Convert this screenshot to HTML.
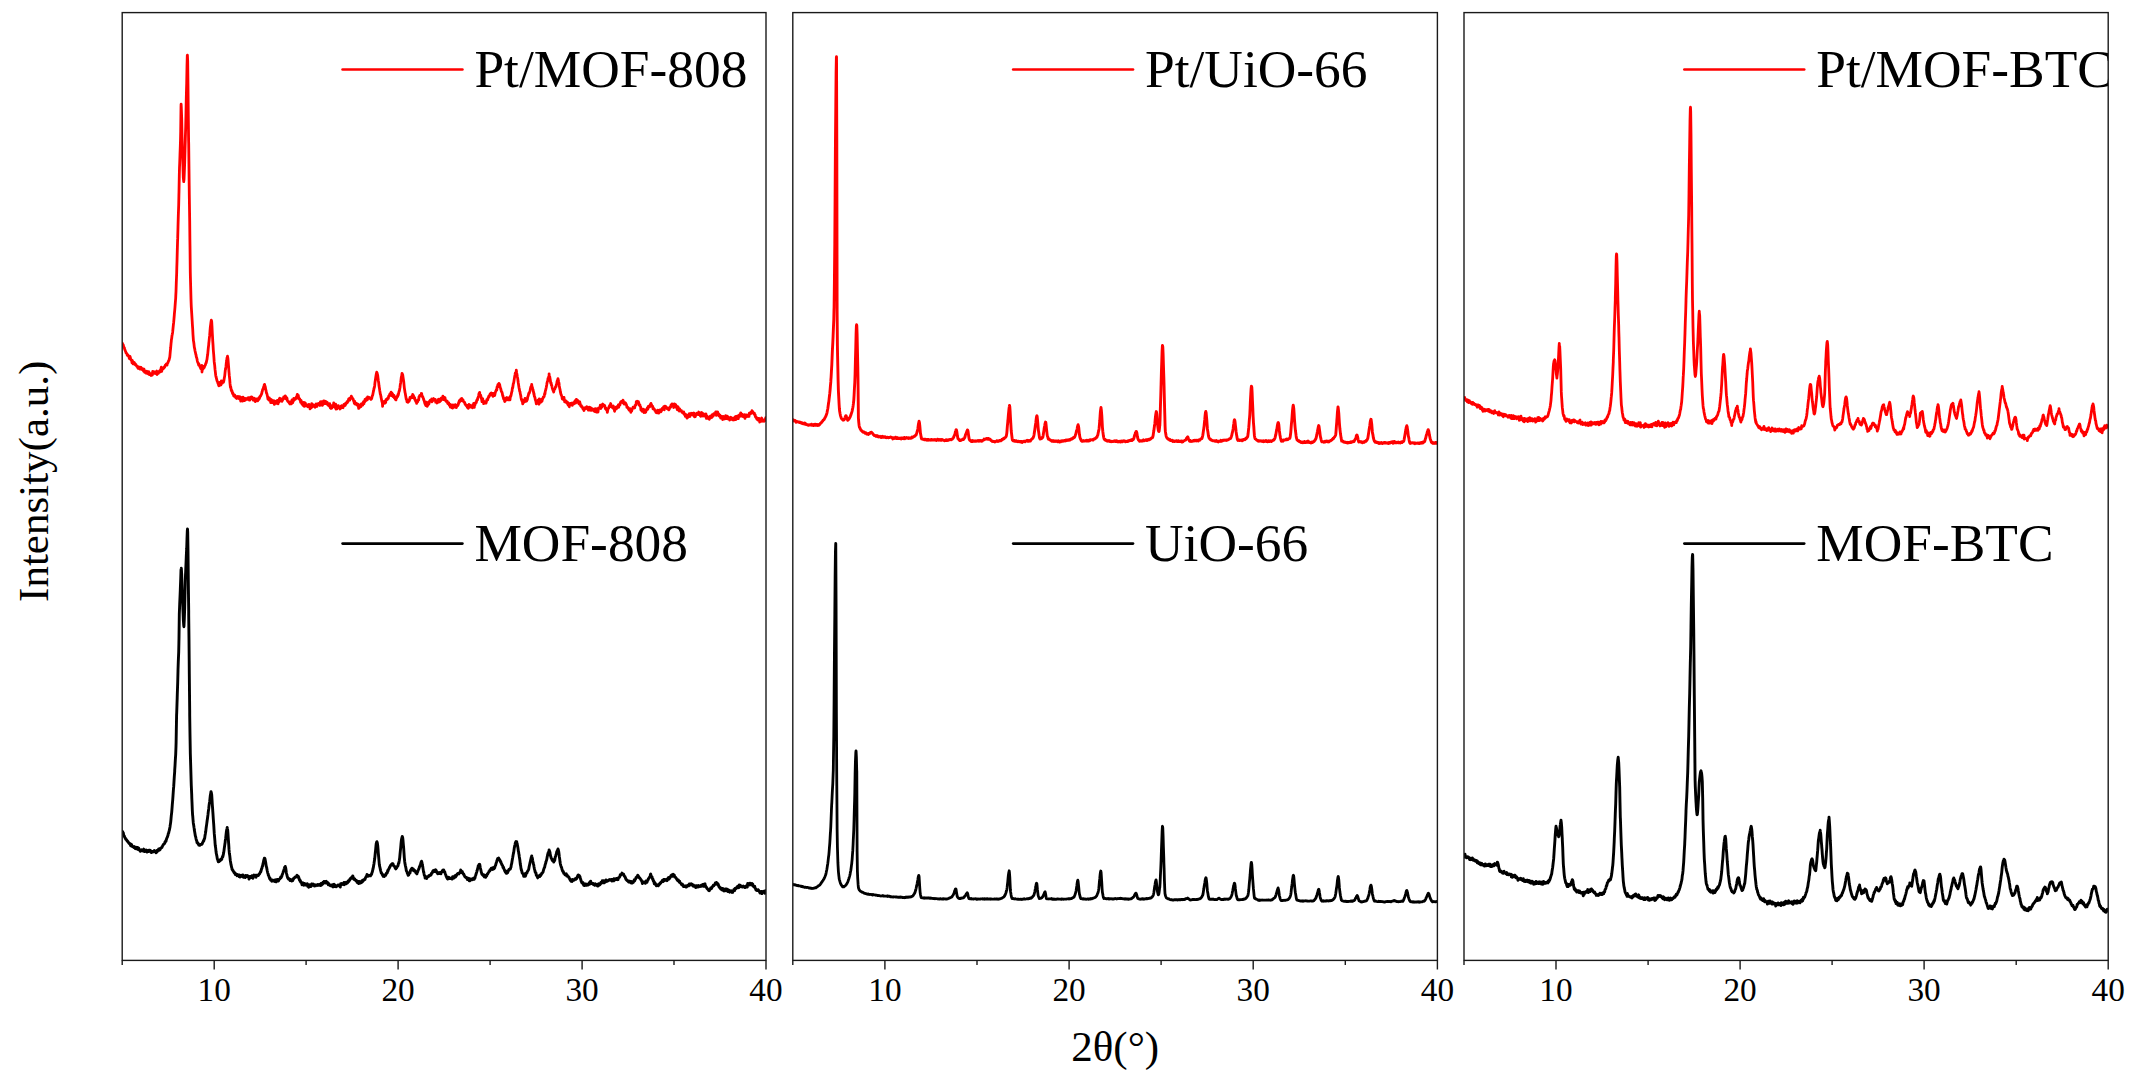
<!DOCTYPE html>
<html lang="en"><head><meta charset="utf-8"><title>XRD patterns</title>
<style>
html,body{margin:0;padding:0;background:#fff;}
body{width:2136px;height:1084px;overflow:hidden;font-family:"Liberation Serif","Times New Roman",serif;}
svg{display:block;}
</style></head><body>
<svg width="2136" height="1084" viewBox="0 0 2136 1084">
<rect width="2136" height="1084" fill="#ffffff"/>
<defs><clipPath id="cp0"><rect x="122.2" y="12.6" width="643.8" height="947.8"/></clipPath><clipPath id="cp1"><rect x="792.8" y="12.6" width="644.6" height="947.8"/></clipPath><clipPath id="cp2"><rect x="1464.0" y="12.6" width="644.2" height="947.8"/></clipPath></defs>
<polyline clip-path="url(#cp0)" fill="none" stroke="#ff0000" stroke-width="2.8" stroke-linejoin="round" stroke-linecap="round" points="122.3,343.1 122.7,344.3 123.0,345.0 123.3,344.9 123.7,346.9 124.0,347.5 124.3,347.7 124.7,349.2 125.0,350.0 125.3,350.9 125.7,351.6 126.0,352.8 126.3,352.8 126.7,353.8 127.0,354.1 127.3,355.3 127.7,355.3 127.7,355.1 128.0,355.0 128.3,355.9 128.7,356.5 129.0,356.8 129.3,358.5 129.7,358.8 130.0,356.3 130.3,357.4 130.7,359.2 131.0,359.4 131.3,360.3 131.7,360.7 132.0,362.7 132.3,360.4 132.7,361.4 133.0,363.9 133.3,363.1 133.7,363.6 134.0,363.0 134.3,362.4 134.7,364.4 135.0,364.6 135.3,363.8 135.4,364.3 135.7,365.1 136.0,364.6 136.3,365.7 136.7,366.2 137.0,366.5 137.3,366.3 137.7,367.6 138.0,368.2 138.3,367.9 138.7,367.0 139.0,368.6 139.3,367.5 139.7,369.0 140.0,367.2 140.3,369.2 140.7,368.4 141.0,367.4 141.3,368.4 141.7,369.0 142.0,369.5 142.3,368.5 142.7,368.7 143.0,370.3 143.2,369.8 143.3,370.6 143.7,371.3 144.0,369.2 144.3,371.2 144.7,372.4 145.0,371.2 145.3,371.0 145.7,372.7 146.0,372.4 146.3,373.2 146.7,372.2 147.0,371.3 147.3,372.8 147.7,372.5 148.0,373.8 148.3,373.4 148.7,371.6 149.0,372.2 149.3,374.6 149.7,374.6 150.0,373.3 150.3,374.2 150.7,374.9 150.9,375.1 151.0,375.6 151.3,374.8 151.7,374.3 152.0,373.9 152.3,375.2 152.7,371.3 153.0,373.4 153.3,373.4 153.7,371.6 154.0,373.2 154.3,371.9 154.7,373.3 155.0,372.2 155.3,372.9 155.7,373.5 156.0,372.7 156.3,371.5 156.7,371.0 157.0,374.5 157.1,372.8 157.3,372.2 157.7,373.0 158.0,372.5 158.3,373.4 158.7,372.4 159.0,372.2 159.3,371.2 159.7,372.0 160.0,370.3 160.3,371.4 160.7,371.7 161.0,368.5 161.3,367.2 161.7,369.7 161.7,371.4 162.0,368.1 162.3,367.7 162.7,369.2 163.0,367.8 163.3,367.8 163.7,367.7 164.0,368.1 164.3,366.8 164.7,367.0 165.0,366.2 165.3,365.2 165.7,365.3 166.0,364.5 166.3,364.9 166.3,364.1 166.7,363.7 167.0,365.2 167.3,363.6 167.7,363.0 168.0,362.7 168.3,361.4 168.7,360.7 169.0,360.2 169.3,359.1 169.4,358.1 169.7,357.9 170.0,354.8 170.3,351.3 170.7,347.5 171.0,343.8 171.3,341.1 171.4,339.7 171.7,338.4 172.0,335.6 172.3,334.2 172.6,332.4 172.7,331.7 173.0,328.6 173.3,325.6 173.7,322.2 174.0,318.6 174.3,315.1 174.4,313.7 174.7,310.7 175.0,307.0 175.3,302.9 175.7,298.0 175.8,295.4 176.0,291.6 176.3,282.5 176.7,272.5 176.8,267.7 177.0,261.7 177.3,250.1 177.6,240.2 177.7,238.4 178.0,227.0 178.1,223.0 178.3,216.1 178.7,204.8 178.9,195.4 179.0,191.8 179.3,175.5 179.5,167.6 179.7,163.0 180.0,154.6 180.3,146.3 180.5,140.1 180.7,131.0 181.0,107.3 181.1,104.1 181.3,107.2 181.7,118.2 182.0,133.5 182.3,147.3 182.4,150.1 182.7,158.0 183.0,168.6 183.3,177.6 183.7,181.4 183.7,181.7 184.0,179.6 184.3,173.0 184.7,162.5 185.0,150.9 185.3,140.0 185.3,139.4 185.7,126.9 186.0,112.4 186.3,97.6 186.5,89.9 186.7,83.1 187.0,66.2 187.3,55.4 187.4,55.1 187.7,61.3 188.0,84.9 188.3,115.8 188.6,140.0 188.7,143.8 189.0,169.3 189.2,186.0 189.3,195.1 189.7,220.9 189.9,240.0 190.0,246.6 190.3,272.4 190.4,276.9 190.7,287.7 191.0,299.1 191.2,304.6 191.3,306.9 191.7,313.2 192.0,318.0 192.3,322.8 192.3,323.3 192.7,328.9 193.0,334.7 193.3,338.8 193.4,340.5 193.7,342.0 194.0,344.3 194.3,347.2 194.7,348.8 195.0,350.7 195.3,352.0 195.7,353.7 195.7,354.0 196.0,354.8 196.3,356.9 196.7,357.8 197.0,359.0 197.3,360.8 197.7,362.2 198.0,362.9 198.3,363.4 198.7,365.1 198.8,363.7 199.0,364.5 199.3,365.8 199.7,365.4 200.0,366.9 200.3,367.3 200.7,368.5 201.0,367.3 201.3,367.7 201.7,368.7 201.9,365.4 202.0,372.0 202.3,367.7 202.7,367.6 203.0,369.0 203.3,368.0 203.7,366.3 204.0,367.8 204.3,367.5 204.7,366.0 205.0,365.5 205.3,365.2 205.7,363.5 206.0,363.5 206.3,362.4 206.5,361.3 206.7,360.5 207.0,359.4 207.3,356.8 207.7,354.5 208.0,351.1 208.3,348.0 208.7,344.8 208.8,343.2 209.0,341.6 209.3,338.7 209.7,335.2 210.0,331.0 210.3,327.3 210.7,324.4 211.0,321.9 211.3,320.2 211.5,320.7 211.7,321.5 212.0,326.6 212.3,333.1 212.7,339.5 212.7,340.3 213.0,344.4 213.3,349.8 213.7,354.3 214.0,358.6 214.2,361.7 214.3,362.5 214.7,365.6 215.0,369.2 215.3,371.7 215.7,375.2 216.0,376.7 216.1,377.0 216.3,377.8 216.7,379.4 217.0,380.7 217.3,381.3 217.7,382.3 218.0,383.5 218.3,383.7 218.7,385.4 218.9,385.8 219.0,384.4 219.3,384.8 219.7,382.5 220.0,384.5 220.3,383.6 220.7,384.0 221.0,385.0 221.3,381.0 221.7,383.3 222.0,381.9 222.3,383.2 222.7,381.2 223.0,381.7 223.3,382.0 223.5,382.1 223.7,381.4 224.0,379.9 224.3,378.1 224.7,376.1 225.0,373.2 225.3,370.1 225.5,369.6 225.7,368.6 226.0,366.2 226.3,363.0 226.7,360.6 227.0,357.8 227.3,357.2 227.5,356.2 227.7,357.1 228.0,359.3 228.3,363.1 228.7,367.9 228.9,371.1 229.0,372.1 229.3,375.7 229.7,379.2 230.0,383.2 230.3,386.1 230.5,387.5 230.7,386.7 231.0,388.5 231.3,390.6 231.7,390.2 232.0,391.0 232.3,392.8 232.7,393.8 232.8,392.8 233.0,394.1 233.3,394.3 233.7,395.9 234.0,395.1 234.3,396.3 234.7,395.0 235.0,395.9 235.3,396.2 235.7,397.7 235.9,397.4 236.0,396.3 236.3,398.0 236.7,398.4 237.0,397.7 237.3,397.7 237.7,397.8 238.0,396.3 238.3,398.2 238.7,398.2 239.0,397.0 239.3,398.8 239.7,396.6 240.0,397.7 240.3,398.1 240.7,401.0 241.0,397.3 241.3,399.9 241.7,400.5 242.0,400.0 242.3,401.1 242.7,398.6 243.0,397.2 243.3,400.8 243.6,398.4 243.7,399.3 244.0,398.2 244.3,400.7 244.7,400.3 245.0,398.4 245.3,400.1 245.7,399.2 246.0,398.8 246.3,398.9 246.7,398.5 247.0,399.2 247.3,398.8 247.7,398.0 248.0,399.4 248.3,397.7 248.7,398.7 249.0,398.9 249.3,400.1 249.7,397.7 249.8,400.2 250.0,398.2 250.3,397.7 250.7,397.2 251.0,398.6 251.3,398.1 251.7,397.0 252.0,397.2 252.3,397.9 252.7,397.9 253.0,399.9 253.3,400.2 253.7,399.7 254.0,399.1 254.3,398.3 254.7,398.9 255.0,399.9 255.3,401.6 255.7,400.4 256.0,399.2 256.0,399.8 256.3,399.2 256.7,398.9 257.0,399.4 257.3,399.5 257.7,400.8 258.0,398.7 258.3,399.6 258.7,399.6 259.0,397.7 259.3,398.7 259.7,397.6 260.0,396.3 260.3,396.5 260.6,396.0 260.7,395.7 261.0,395.1 261.3,394.5 261.7,393.7 262.0,391.9 262.3,391.3 262.7,389.4 262.9,389.6 263.0,389.6 263.3,388.2 263.7,387.1 264.0,386.2 264.3,384.5 264.6,384.4 264.7,385.3 265.0,386.0 265.3,386.9 265.7,389.5 266.0,390.3 266.3,392.4 266.5,393.1 266.7,393.2 267.0,394.3 267.3,395.5 267.7,397.5 268.0,399.2 268.3,399.4 268.3,399.3 268.7,399.1 269.0,400.1 269.3,397.8 269.7,400.1 270.0,400.1 270.3,399.0 270.7,402.7 271.0,399.5 271.3,400.0 271.7,400.0 272.0,402.5 272.3,400.6 272.7,402.4 273.0,402.5 273.3,402.3 273.7,400.7 274.0,401.6 274.3,404.4 274.5,400.9 274.7,401.5 275.0,402.3 275.3,403.4 275.7,402.7 276.0,403.2 276.3,401.2 276.7,403.3 277.0,402.8 277.3,400.3 277.7,403.4 278.0,403.9 278.3,400.4 278.7,401.0 279.0,402.2 279.3,398.9 279.7,398.2 280.0,398.9 280.3,399.5 280.7,399.5 280.7,400.8 281.0,400.4 281.3,398.8 281.7,400.4 282.0,401.3 282.3,400.4 282.7,399.9 283.0,398.6 283.3,399.1 283.7,396.9 284.0,398.1 284.3,397.1 284.7,398.2 285.0,397.5 285.3,395.8 285.3,397.4 285.7,398.7 286.0,396.8 286.3,397.7 286.7,398.0 287.0,398.1 287.3,400.4 287.7,401.3 288.0,401.5 288.3,401.7 288.7,402.0 289.0,402.6 289.3,402.0 289.7,403.7 289.9,403.9 290.0,403.7 290.3,401.9 290.7,402.5 291.0,402.1 291.3,403.9 291.7,402.1 292.0,399.9 292.3,401.7 292.7,402.8 293.0,401.4 293.3,401.3 293.7,400.4 293.8,398.5 294.0,398.7 294.3,399.0 294.7,399.5 295.0,399.4 295.3,399.3 295.7,398.0 296.0,398.6 296.3,397.2 296.7,396.4 296.9,398.1 297.0,396.0 297.3,394.3 297.7,396.4 298.0,397.8 298.3,395.5 298.7,398.2 299.0,398.7 299.3,398.4 299.7,398.8 300.0,400.1 300.3,400.5 300.7,402.4 300.8,401.7 301.0,400.3 301.3,401.2 301.7,402.8 302.0,404.2 302.3,403.3 302.7,403.6 303.0,405.3 303.3,403.8 303.7,403.6 303.8,402.4 304.0,403.4 304.3,406.4 304.7,402.7 305.0,404.4 305.3,403.1 305.7,404.9 306.0,405.8 306.3,404.6 306.7,405.6 307.0,405.6 307.3,405.3 307.7,406.7 308.0,405.8 308.3,404.7 308.7,404.5 309.0,404.5 309.3,406.1 309.7,405.3 310.0,408.9 310.3,407.9 310.7,405.6 311.0,405.5 311.3,407.8 311.7,403.6 312.0,405.2 312.3,406.8 312.7,404.5 313.0,404.9 313.3,405.0 313.7,406.3 314.0,405.7 314.3,406.1 314.7,406.5 314.7,405.9 315.0,407.3 315.3,405.2 315.7,404.4 316.0,403.9 316.3,404.0 316.7,405.0 317.0,406.5 317.3,405.4 317.7,404.4 318.0,403.7 318.3,404.2 318.7,404.3 319.0,404.0 319.3,403.1 319.7,404.0 320.0,405.5 320.3,402.0 320.7,404.0 320.8,401.9 321.0,404.3 321.3,403.2 321.7,401.7 322.0,403.8 322.3,405.4 322.7,403.5 323.0,404.5 323.3,403.1 323.7,400.9 324.0,403.5 324.3,402.4 324.7,401.1 325.0,403.5 325.3,402.8 325.5,401.9 325.7,403.5 326.0,401.7 326.3,403.4 326.7,402.1 327.0,403.6 327.3,402.4 327.7,404.9 328.0,404.1 328.3,405.4 328.7,404.0 329.0,404.7 329.3,406.2 329.7,403.6 330.0,405.5 330.3,407.8 330.7,407.6 331.0,408.4 331.3,407.2 331.7,408.2 331.7,406.7 332.0,405.9 332.3,405.4 332.7,406.8 333.0,406.7 333.3,406.6 333.7,403.0 334.0,404.8 334.3,406.4 334.7,407.3 335.0,406.2 335.3,405.8 335.7,404.2 336.0,409.2 336.3,405.6 336.7,408.9 337.0,408.8 337.3,407.3 337.7,406.4 338.0,407.2 338.3,405.7 338.7,407.3 339.0,407.0 339.3,407.6 339.7,408.1 340.0,409.0 340.3,406.7 340.7,408.2 341.0,406.1 341.3,405.9 341.7,406.1 342.0,405.6 342.3,407.7 342.7,407.5 343.0,407.7 343.3,406.1 343.7,406.2 344.0,405.1 344.0,404.3 344.3,405.9 344.7,405.6 345.0,404.1 345.3,405.3 345.7,403.1 346.0,403.9 346.3,403.1 346.7,402.7 347.0,401.7 347.3,402.7 347.7,401.8 348.0,401.8 348.3,400.5 348.7,398.9 348.7,399.7 349.0,398.7 349.3,399.8 349.7,400.1 350.0,399.0 350.3,397.9 350.7,397.8 351.0,398.1 351.3,396.2 351.7,397.8 351.7,397.9 352.0,397.3 352.3,397.9 352.7,398.9 353.0,398.9 353.3,399.6 353.7,401.3 354.0,401.6 354.3,403.3 354.7,401.8 354.8,401.4 355.0,403.7 355.3,404.1 355.7,403.2 356.0,403.1 356.3,404.6 356.7,403.6 357.0,405.1 357.3,403.8 357.7,405.7 358.0,404.1 358.3,406.1 358.7,408.4 358.7,406.4 359.0,407.7 359.3,406.1 359.7,405.7 360.0,404.9 360.3,407.0 360.7,405.6 361.0,406.7 361.3,403.9 361.7,404.4 362.0,404.3 362.3,405.0 362.7,405.1 363.0,402.8 363.3,402.1 363.7,401.4 364.0,403.7 364.1,402.4 364.3,401.7 364.7,401.8 365.0,399.4 365.3,399.5 365.7,400.9 366.0,400.0 366.3,399.4 366.7,398.0 367.0,399.0 367.3,399.9 367.7,396.8 368.0,398.1 368.0,397.6 368.3,398.4 368.7,398.1 369.0,398.1 369.3,397.5 369.7,398.4 370.0,398.0 370.3,398.5 370.7,398.6 371.0,399.4 371.1,397.9 371.3,398.1 371.7,398.6 372.0,397.0 372.3,395.9 372.7,395.1 373.0,393.4 373.3,391.9 373.7,390.4 374.0,388.2 374.1,388.3 374.3,387.8 374.7,385.4 375.0,382.4 375.3,380.5 375.7,377.7 376.0,375.8 376.3,374.1 376.7,372.2 376.9,374.3 377.0,372.7 377.3,373.8 377.7,375.3 378.0,377.9 378.3,380.5 378.7,382.7 379.0,385.8 379.3,387.5 379.6,389.3 379.7,390.2 380.0,392.0 380.3,394.0 380.7,395.1 381.0,397.1 381.3,398.6 381.7,400.5 382.0,401.9 382.3,401.3 382.6,406.3 382.7,402.0 383.0,401.7 383.3,402.8 383.7,403.0 384.0,402.7 384.3,401.4 384.7,403.3 385.0,401.7 385.3,402.8 385.7,402.3 386.0,399.5 386.3,399.4 386.7,399.0 387.0,399.7 387.3,399.3 387.3,399.5 387.7,398.2 388.0,398.6 388.3,398.5 388.7,396.0 389.0,395.9 389.3,395.4 389.7,394.4 390.0,393.7 390.3,394.7 390.7,394.2 391.0,393.9 391.1,392.2 391.3,395.6 391.7,393.7 392.0,393.2 392.3,393.8 392.7,394.1 393.0,396.5 393.3,395.7 393.7,396.2 394.0,395.3 394.3,397.9 394.7,397.1 395.0,397.4 395.3,399.2 395.7,397.8 395.8,399.8 396.0,399.9 396.3,396.9 396.7,398.0 397.0,396.4 397.3,396.8 397.7,396.5 398.0,394.3 398.3,395.1 398.7,392.9 399.0,391.4 399.3,390.8 399.3,391.3 399.7,389.0 400.0,387.5 400.3,384.6 400.7,382.7 401.0,379.8 401.3,377.2 401.7,375.9 402.0,373.5 402.3,373.7 402.3,376.0 402.7,374.8 403.0,376.9 403.3,378.9 403.7,381.4 404.0,384.6 404.3,387.6 404.7,390.2 405.0,392.1 405.0,392.4 405.3,393.5 405.7,395.9 406.0,397.7 406.3,399.5 406.7,399.5 407.0,401.8 407.3,401.5 407.4,399.9 407.7,401.7 408.0,402.3 408.3,401.8 408.7,401.6 409.0,401.3 409.3,400.7 409.7,399.5 410.0,397.5 410.3,397.9 410.7,398.2 411.0,397.0 411.3,397.4 411.7,397.1 412.0,396.1 412.3,397.7 412.7,394.5 412.8,396.6 413.0,395.1 413.3,395.3 413.7,396.9 414.0,396.8 414.3,398.5 414.7,398.1 415.0,399.8 415.3,400.1 415.7,401.2 416.0,401.7 416.3,401.4 416.6,403.4 416.7,401.0 417.0,401.1 417.3,402.3 417.7,401.7 418.0,400.7 418.3,399.6 418.7,400.0 419.0,397.0 419.3,396.4 419.7,395.5 420.0,396.1 420.3,395.2 420.7,395.5 421.0,395.4 421.3,394.1 421.3,393.4 421.7,393.6 422.0,396.4 422.3,396.1 422.7,396.7 423.0,397.3 423.3,398.5 423.7,399.6 424.0,400.7 424.3,400.7 424.7,402.9 425.0,403.5 425.3,404.5 425.7,404.8 425.9,405.7 426.0,404.7 426.3,405.7 426.7,402.2 427.0,403.7 427.3,406.3 427.7,403.4 428.0,404.1 428.3,404.7 428.7,403.0 429.0,403.9 429.3,401.7 429.7,400.8 430.0,400.8 430.3,400.1 430.7,401.0 431.0,400.4 431.3,400.5 431.7,399.0 432.0,401.9 432.3,399.3 432.7,399.2 433.0,399.6 433.3,398.9 433.6,398.5 433.7,399.4 434.0,400.4 434.3,400.2 434.7,400.6 435.0,399.5 435.3,399.5 435.7,402.2 436.0,400.6 436.3,401.5 436.7,402.1 437.0,403.0 437.3,400.7 437.7,401.6 438.0,401.7 438.3,401.9 438.3,399.4 438.7,402.0 439.0,399.1 439.3,401.9 439.7,401.7 440.0,401.3 440.3,399.4 440.7,400.7 441.0,398.8 441.3,398.1 441.7,397.9 442.0,397.8 442.3,398.7 442.7,399.4 442.9,396.1 443.0,398.1 443.3,399.7 443.7,399.0 444.0,399.3 444.3,397.5 444.7,399.8 445.0,397.7 445.3,399.4 445.7,400.6 446.0,401.3 446.3,400.7 446.7,401.5 447.0,400.9 447.3,401.6 447.7,403.5 448.0,403.1 448.3,403.4 448.7,402.7 449.0,404.4 449.3,405.1 449.7,404.2 450.0,404.7 450.3,407.1 450.7,406.0 450.8,405.6 451.0,404.8 451.3,405.5 451.7,405.9 452.0,407.7 452.3,405.5 452.7,408.1 453.0,405.0 453.3,405.7 453.7,407.1 454.0,406.0 454.3,405.5 454.7,406.4 455.0,407.1 455.3,404.7 455.7,406.4 456.0,406.6 456.2,406.3 456.3,407.7 456.7,406.2 457.0,406.1 457.3,405.9 457.7,405.7 458.0,404.4 458.3,404.6 458.7,402.3 459.0,402.8 459.3,400.7 459.7,400.4 460.0,400.2 460.3,401.3 460.7,400.3 460.9,398.8 461.0,400.7 461.3,398.9 461.7,398.4 462.0,399.7 462.3,399.6 462.7,400.7 463.0,399.9 463.3,401.0 463.7,401.7 464.0,401.9 464.3,402.3 464.7,402.4 465.0,404.1 465.3,404.2 465.7,405.0 466.0,404.9 466.3,405.7 466.7,405.2 467.0,406.5 467.3,407.4 467.7,406.9 467.8,407.8 468.0,407.1 468.3,408.3 468.7,406.3 469.0,404.5 469.3,406.8 469.7,406.1 470.0,405.1 470.3,407.0 470.7,406.6 471.0,406.8 471.3,405.9 471.7,406.4 472.0,406.3 472.3,407.8 472.7,404.9 473.0,405.4 473.3,405.6 473.7,403.3 474.0,403.4 474.3,407.3 474.7,403.2 474.8,405.6 475.0,404.2 475.3,403.9 475.7,402.5 476.0,402.4 476.3,402.5 476.7,400.3 477.0,400.4 477.3,399.4 477.5,399.9 477.7,398.2 478.0,398.2 478.3,396.9 478.7,395.2 479.0,393.5 479.3,395.0 479.7,392.3 479.7,393.5 480.0,394.9 480.3,395.4 480.7,395.3 481.0,396.9 481.3,397.9 481.7,399.8 482.0,401.7 482.0,398.6 482.3,401.0 482.7,398.7 483.0,401.3 483.3,400.8 483.7,403.7 484.0,402.4 484.3,401.6 484.7,401.9 484.8,401.7 485.0,402.7 485.3,402.3 485.7,402.8 486.0,403.2 486.3,402.1 486.7,400.2 487.0,399.3 487.3,399.3 487.7,399.9 488.0,398.3 488.3,397.4 488.7,397.4 488.7,396.2 489.0,395.9 489.3,396.3 489.7,395.1 490.0,394.3 490.3,394.4 490.7,393.3 491.0,393.1 491.0,393.6 491.3,394.9 491.7,394.4 492.0,393.3 492.3,394.2 492.7,395.1 493.0,396.3 493.3,393.4 493.7,394.9 494.0,394.2 494.1,395.5 494.3,395.1 494.7,395.4 495.0,394.0 495.3,392.5 495.7,391.5 496.0,390.8 496.3,389.8 496.7,390.1 496.9,389.2 497.0,387.1 497.3,387.3 497.7,385.5 498.0,384.5 498.3,385.5 498.7,385.1 499.0,383.3 499.0,386.5 499.3,383.9 499.7,384.6 500.0,386.6 500.3,387.5 500.7,388.6 501.0,389.9 501.3,391.3 501.5,391.6 501.7,392.1 502.0,392.2 502.3,393.6 502.7,395.7 503.0,396.0 503.3,397.7 503.7,399.0 504.0,398.6 504.3,399.6 504.7,401.6 504.9,400.2 505.0,401.3 505.3,400.7 505.7,399.7 506.0,398.6 506.3,397.8 506.7,397.5 507.0,399.5 507.3,399.5 507.7,398.7 508.0,399.8 508.3,397.9 508.7,399.8 509.0,398.3 509.3,398.1 509.5,398.1 509.7,398.1 510.0,399.8 510.3,396.4 510.7,396.4 511.0,395.6 511.3,394.0 511.7,392.0 512.0,391.3 512.3,388.6 512.6,387.3 512.7,388.0 513.0,385.7 513.3,383.7 513.7,382.9 514.0,380.9 514.3,378.9 514.7,376.5 515.0,375.0 515.3,373.0 515.7,373.5 516.0,372.4 516.2,372.4 516.3,370.1 516.7,373.0 517.0,374.6 517.3,376.4 517.7,378.5 518.0,380.7 518.3,383.0 518.7,385.6 519.0,387.5 519.1,388.1 519.3,388.9 519.7,391.3 520.0,391.8 520.3,393.9 520.7,395.3 521.0,397.5 521.3,399.1 521.7,400.2 522.0,401.0 522.3,399.9 522.7,403.9 522.7,402.2 523.0,401.6 523.3,401.8 523.7,401.4 524.0,402.2 524.3,401.9 524.7,401.0 525.0,398.3 525.3,400.9 525.7,401.3 526.0,401.1 526.3,400.2 526.5,400.7 526.7,401.1 527.0,399.4 527.3,399.9 527.7,397.0 528.0,396.4 528.3,395.4 528.7,393.4 529.0,393.0 529.3,393.3 529.3,393.3 529.7,391.6 530.0,391.1 530.3,389.1 530.7,387.5 531.0,386.9 531.3,386.1 531.6,386.9 531.7,384.4 532.0,386.9 532.3,387.0 532.7,388.9 533.0,389.4 533.3,391.4 533.7,393.0 533.9,394.4 534.0,393.5 534.3,396.1 534.7,396.9 535.0,397.7 535.3,399.9 535.7,400.4 536.0,402.0 536.3,403.8 536.6,402.6 536.7,401.0 537.0,400.9 537.3,402.0 537.7,401.5 538.0,400.2 538.3,400.5 538.7,402.1 539.0,404.2 539.3,398.8 539.7,402.6 540.0,401.5 540.3,402.5 540.7,402.4 541.0,401.4 541.2,400.1 541.3,399.7 541.7,399.2 542.0,401.3 542.3,399.7 542.7,398.9 543.0,398.4 543.3,397.0 543.7,397.1 544.0,396.8 544.3,395.8 544.7,393.3 545.0,394.0 545.1,392.5 545.3,391.1 545.7,390.1 546.0,388.6 546.3,387.2 546.7,385.0 547.0,383.0 547.3,381.7 547.7,381.0 548.0,378.4 548.3,377.8 548.7,376.8 549.0,379.0 549.1,373.9 549.3,377.3 549.7,376.6 550.0,378.3 550.3,380.0 550.7,383.0 551.0,382.7 551.2,383.1 551.3,384.9 551.7,385.1 552.0,386.7 552.3,388.1 552.7,389.4 553.0,390.1 553.3,391.0 553.6,391.4 553.7,392.0 554.0,390.5 554.3,389.8 554.7,388.9 555.0,388.8 555.3,387.5 555.7,386.8 555.9,386.3 556.0,386.7 556.3,384.8 556.7,383.9 557.0,381.7 557.3,380.6 557.7,380.2 558.0,378.6 558.0,380.6 558.3,379.8 558.7,382.0 559.0,383.2 559.3,385.9 559.7,388.2 559.9,389.3 560.0,389.1 560.3,391.4 560.7,393.2 561.0,394.4 561.3,395.0 561.7,396.1 562.0,396.6 562.1,397.9 562.3,399.0 562.7,398.0 563.0,397.5 563.3,399.2 563.7,399.9 564.0,397.3 564.3,399.9 564.7,401.9 565.0,401.1 565.3,401.2 565.7,401.4 565.9,402.3 566.0,400.8 566.3,401.3 566.7,402.8 567.0,402.4 567.3,403.6 567.7,402.3 568.0,404.9 568.3,405.4 568.7,405.0 569.0,405.3 569.3,406.8 569.7,403.8 569.8,403.7 570.0,403.4 570.3,404.2 570.7,403.5 571.0,404.5 571.3,403.9 571.7,403.1 572.0,403.0 572.3,405.4 572.7,404.1 573.0,403.8 573.3,403.7 573.7,403.3 574.0,403.8 574.3,403.3 574.4,402.0 574.7,401.5 575.0,401.0 575.3,400.6 575.7,403.1 576.0,400.7 576.3,399.4 576.7,400.5 577.0,400.5 577.3,401.7 577.7,400.3 578.0,401.9 578.3,401.7 578.3,402.7 578.7,403.3 579.0,403.9 579.3,403.0 579.7,401.8 580.0,403.0 580.3,404.1 580.7,406.0 581.0,405.6 581.3,406.6 581.4,405.6 581.7,406.7 582.0,407.3 582.3,406.9 582.7,408.3 583.0,409.0 583.3,408.3 583.7,409.6 584.0,410.5 584.3,408.9 584.5,408.7 584.7,408.3 585.0,407.8 585.3,408.6 585.7,407.9 586.0,408.0 586.3,407.5 586.7,406.8 587.0,407.5 587.3,408.9 587.7,407.2 588.0,407.7 588.3,410.2 588.7,409.5 589.0,407.3 589.3,408.7 589.7,407.3 589.9,410.1 590.0,407.6 590.3,408.6 590.7,410.2 591.0,408.0 591.3,410.4 591.7,408.4 592.0,409.6 592.3,409.3 592.7,409.7 593.0,410.1 593.3,409.9 593.7,409.1 594.0,410.9 594.3,410.8 594.7,411.4 595.0,411.6 595.3,408.7 595.7,411.7 596.0,411.9 596.0,409.8 596.3,411.6 596.7,412.0 597.0,409.8 597.3,408.8 597.7,409.5 598.0,412.2 598.3,409.6 598.7,408.0 599.0,408.5 599.3,407.6 599.7,407.8 600.0,407.9 600.3,405.2 600.7,407.6 600.7,408.6 601.0,406.8 601.3,406.4 601.7,407.3 602.0,404.9 602.3,404.6 602.7,404.1 603.0,405.0 603.3,405.4 603.7,404.8 603.8,405.6 604.0,405.9 604.3,405.9 604.7,405.6 605.0,406.8 605.3,408.5 605.7,408.0 606.0,409.2 606.3,409.7 606.7,410.2 606.9,409.2 607.0,409.1 607.3,412.4 607.7,410.5 608.0,408.7 608.3,408.4 608.7,408.1 609.0,406.7 609.3,406.8 609.7,405.3 609.9,405.3 610.0,405.6 610.3,405.3 610.7,403.5 611.0,406.2 611.3,406.7 611.7,407.1 612.0,406.1 612.3,407.6 612.7,407.7 613.0,406.2 613.3,406.0 613.7,408.7 614.0,407.5 614.3,409.8 614.6,411.3 614.7,408.2 615.0,408.1 615.3,408.6 615.7,409.1 616.0,407.1 616.3,408.9 616.7,408.3 617.0,407.7 617.3,406.4 617.7,407.4 618.0,407.0 618.3,405.0 618.7,407.4 619.0,404.9 619.2,405.2 619.3,404.3 619.7,404.7 620.0,404.9 620.3,403.0 620.7,401.9 621.0,402.4 621.3,401.4 621.7,401.4 622.0,401.6 622.3,401.4 622.7,402.7 623.0,400.1 623.1,401.7 623.3,400.8 623.7,402.8 624.0,404.0 624.3,402.5 624.7,404.0 625.0,402.9 625.3,402.7 625.7,403.5 626.0,403.8 626.3,404.8 626.7,405.8 626.9,407.3 627.0,407.0 627.3,407.3 627.7,407.2 628.0,407.5 628.3,408.7 628.7,409.3 629.0,409.9 629.3,410.4 629.7,410.2 630.0,408.7 630.3,409.4 630.7,409.5 630.8,412.3 631.0,409.6 631.3,410.6 631.7,411.0 632.0,409.6 632.3,408.6 632.7,408.3 633.0,407.3 633.3,407.9 633.7,408.1 634.0,407.3 634.3,407.1 634.7,406.8 634.7,407.9 635.0,405.3 635.3,405.4 635.7,405.2 636.0,405.0 636.3,401.7 636.7,402.6 637.0,402.4 637.3,401.3 637.7,403.1 637.8,402.5 638.0,402.2 638.3,401.6 638.7,402.6 639.0,403.5 639.3,405.2 639.7,404.9 640.0,405.1 640.3,406.1 640.7,407.3 640.8,409.3 641.0,410.2 641.3,408.5 641.7,410.1 642.0,410.9 642.3,411.3 642.7,410.6 643.0,409.9 643.3,410.7 643.7,409.3 643.9,411.7 644.0,412.5 644.3,409.9 644.7,411.8 645.0,412.0 645.3,412.4 645.7,412.1 646.0,411.1 646.3,409.5 646.7,409.2 647.0,409.8 647.3,408.0 647.7,408.1 647.8,409.3 648.0,407.9 648.3,406.3 648.7,406.7 649.0,407.1 649.3,406.0 649.7,406.7 650.0,406.5 650.3,404.4 650.7,404.3 650.9,404.7 651.0,403.4 651.3,405.1 651.7,405.0 652.0,406.2 652.3,405.9 652.7,406.5 653.0,408.9 653.3,407.9 653.7,408.7 654.0,408.9 654.0,409.2 654.3,409.1 654.7,410.2 655.0,410.1 655.3,410.7 655.7,411.8 656.0,412.5 656.3,412.6 656.7,411.6 657.0,412.8 657.1,412.1 657.3,412.0 657.7,410.2 658.0,412.5 658.3,411.6 658.7,413.1 659.0,412.0 659.3,410.3 659.7,409.9 660.0,411.8 660.3,409.8 660.7,410.8 660.9,409.7 661.0,411.8 661.3,409.7 661.7,410.6 662.0,410.1 662.3,408.3 662.7,408.1 663.0,409.3 663.3,407.8 663.7,406.8 664.0,408.5 664.3,409.8 664.7,406.8 664.8,408.3 665.0,406.2 665.3,407.8 665.7,406.4 666.0,408.2 666.3,407.9 666.7,407.7 667.0,408.5 667.3,408.2 667.7,407.9 668.0,408.1 668.3,409.3 668.7,408.1 668.7,409.9 669.0,409.6 669.3,409.1 669.7,407.8 670.0,407.5 670.3,406.8 670.7,407.1 671.0,405.0 671.3,404.8 671.7,404.6 671.7,404.6 672.0,403.9 672.3,404.1 672.7,406.1 673.0,404.4 673.3,406.2 673.7,407.5 674.0,406.8 674.3,403.9 674.7,406.5 675.0,406.3 675.3,406.5 675.7,404.7 676.0,407.1 676.3,405.7 676.7,408.1 677.0,408.2 677.3,409.8 677.7,407.4 678.0,406.7 678.3,409.5 678.7,409.8 679.0,409.1 679.3,411.1 679.5,410.6 679.7,408.9 680.0,409.9 680.3,410.0 680.7,410.5 681.0,411.0 681.3,410.5 681.7,411.3 682.0,412.3 682.3,412.0 682.7,412.2 683.0,412.5 683.3,413.1 683.7,411.9 684.0,414.1 684.3,413.5 684.7,415.0 685.0,413.9 685.3,416.4 685.7,416.0 686.0,414.6 686.3,416.3 686.7,415.3 687.0,418.2 687.2,416.7 687.3,415.2 687.7,416.3 688.0,415.9 688.3,417.1 688.7,415.9 689.0,415.7 689.3,413.6 689.7,415.4 690.0,416.5 690.3,414.9 690.7,414.1 691.0,414.4 691.3,413.3 691.7,414.6 692.0,413.4 692.3,414.7 692.7,414.3 693.0,413.8 693.3,415.4 693.4,413.1 693.7,414.7 694.0,413.2 694.3,416.7 694.7,416.8 695.0,415.4 695.3,416.6 695.7,415.1 696.0,415.0 696.3,413.9 696.7,413.3 697.0,414.3 697.3,413.4 697.7,413.3 698.0,414.6 698.3,413.6 698.7,412.0 699.0,413.7 699.3,413.2 699.7,413.9 700.0,413.0 700.3,415.7 700.7,416.4 701.0,412.6 701.1,414.6 701.3,414.4 701.7,412.5 702.0,414.0 702.3,415.5 702.7,415.1 703.0,416.1 703.3,413.6 703.7,414.2 704.0,415.4 704.3,415.7 704.7,415.6 705.0,415.5 705.3,415.7 705.7,415.7 705.7,416.9 706.0,414.0 706.3,418.4 706.7,416.7 707.0,416.1 707.3,418.1 707.7,416.5 708.0,418.3 708.3,417.7 708.7,418.7 709.0,418.9 709.3,419.4 709.6,417.3 709.7,417.4 710.0,417.6 710.3,416.1 710.7,417.9 711.0,417.1 711.3,415.6 711.7,417.5 712.0,417.2 712.3,414.7 712.7,416.0 713.0,416.3 713.3,415.8 713.5,414.2 713.7,413.8 714.0,414.6 714.3,413.9 714.7,413.8 715.0,413.3 715.3,413.3 715.7,412.0 716.0,412.1 716.3,415.3 716.5,412.0 716.7,413.1 717.0,412.6 717.3,412.7 717.7,412.0 718.0,413.6 718.3,413.5 718.7,414.6 719.0,416.0 719.3,415.0 719.7,416.0 720.0,415.0 720.3,416.4 720.7,418.2 721.0,416.9 721.2,416.4 721.3,417.3 721.7,416.9 722.0,416.9 722.3,416.8 722.7,419.5 723.0,416.4 723.3,416.9 723.7,416.8 724.0,418.9 724.3,417.2 724.7,419.0 725.0,417.6 725.3,417.3 725.7,415.6 726.0,418.6 726.3,417.8 726.7,417.7 727.0,417.2 727.3,417.0 727.4,416.2 727.7,418.8 728.0,418.2 728.3,417.7 728.7,417.5 729.0,418.4 729.3,418.2 729.7,420.1 730.0,419.2 730.3,417.8 730.7,417.3 731.0,418.3 731.3,417.6 731.7,418.8 732.0,419.3 732.3,419.7 732.7,419.6 733.0,419.0 733.3,420.0 733.5,418.2 733.7,419.0 734.0,419.9 734.3,419.1 734.7,417.3 735.0,417.3 735.3,416.6 735.7,419.7 736.0,416.3 736.3,417.4 736.7,418.9 737.0,418.0 737.3,417.9 737.7,415.9 738.0,416.8 738.3,418.7 738.7,415.6 739.0,415.8 739.3,414.8 739.7,414.9 740.0,415.2 740.3,416.2 740.5,413.5 740.7,412.9 741.0,414.6 741.3,414.8 741.7,416.1 742.0,415.5 742.3,414.3 742.7,415.7 743.0,416.5 743.3,416.0 743.7,415.7 744.0,417.0 744.3,416.1 744.7,414.6 745.0,418.4 745.1,415.4 745.3,416.6 745.7,416.6 746.0,416.4 746.3,416.3 746.7,414.9 747.0,416.5 747.3,415.8 747.7,415.5 748.0,416.2 748.3,416.0 748.7,416.0 749.0,416.4 749.0,415.1 749.3,413.1 749.7,414.4 750.0,414.0 750.3,413.7 750.7,412.7 751.0,412.1 751.3,413.3 751.7,413.2 752.0,410.6 752.1,412.3 752.3,411.4 752.7,411.5 753.0,412.8 753.3,412.7 753.7,412.9 754.0,414.0 754.3,413.1 754.7,414.7 755.0,415.4 755.2,414.9 755.3,416.5 755.7,417.1 756.0,416.9 756.3,417.7 756.7,418.7 757.0,419.3 757.3,418.0 757.7,419.2 758.0,420.1 758.3,419.1 758.3,418.4 758.7,418.5 759.0,419.2 759.3,418.5 759.7,422.0 760.0,419.1 760.3,420.2 760.7,419.9 761.0,420.3 761.3,419.1 761.7,418.0 762.0,421.4 762.3,419.4 762.7,419.7 763.0,419.8 763.3,421.1 763.7,420.7 764.0,421.3 764.3,421.0 764.7,420.3 765.0,420.4 765.3,419.3 765.7,417.8 766.0,419.8 766.0,418.7"/>
<polyline clip-path="url(#cp0)" fill="none" stroke="#000000" stroke-width="2.9" stroke-linejoin="round" stroke-linecap="round" points="122.3,831.2 122.7,831.8 123.0,832.7 123.3,832.8 123.7,835.2 124.0,835.8 124.3,836.0 124.7,837.2 125.0,837.7 125.3,838.0 125.7,839.2 126.0,839.2 126.2,839.4 126.3,839.4 126.7,840.4 127.0,840.5 127.3,841.3 127.7,841.2 128.0,842.0 128.3,841.9 128.7,843.1 129.0,843.2 129.3,843.6 129.7,843.9 130.0,843.6 130.3,844.8 130.7,845.8 131.0,844.2 131.3,844.4 131.7,844.8 132.0,846.2 132.3,846.0 132.7,846.8 133.0,846.8 133.3,846.8 133.7,847.0 133.9,846.9 134.0,847.6 134.3,846.6 134.7,847.1 135.0,847.6 135.3,848.7 135.7,847.2 136.0,847.1 136.3,847.6 136.7,848.6 137.0,848.0 137.3,849.2 137.7,847.4 138.0,849.4 138.3,849.6 138.7,848.2 139.0,849.3 139.3,850.1 139.7,849.6 140.0,850.3 140.3,851.3 140.7,850.1 141.0,849.9 141.3,849.7 141.7,850.7 142.0,850.3 142.3,850.4 142.7,850.6 143.0,851.1 143.2,850.0 143.3,849.7 143.7,849.1 144.0,851.4 144.3,850.7 144.7,851.6 145.0,850.7 145.3,850.3 145.7,851.1 146.0,850.8 146.3,850.1 146.7,850.4 147.0,852.1 147.3,851.2 147.7,851.2 148.0,850.8 148.3,850.4 148.7,851.4 149.0,850.6 149.3,850.2 149.7,850.6 150.0,850.2 150.3,851.1 150.7,852.0 151.0,850.9 151.3,852.6 151.7,851.3 152.0,852.0 152.3,851.4 152.4,851.9 152.7,852.1 153.0,851.7 153.3,851.4 153.7,851.2 154.0,851.0 154.3,850.5 154.7,851.3 155.0,851.6 155.3,851.9 155.7,851.7 156.0,852.8 156.3,851.4 156.7,850.8 157.0,852.1 157.3,850.2 157.7,851.2 158.0,850.0 158.3,850.5 158.7,848.9 159.0,850.3 159.3,849.4 159.7,848.7 160.0,849.9 160.2,849.3 160.3,848.8 160.7,848.1 161.0,848.1 161.3,847.7 161.7,847.7 162.0,847.3 162.3,846.2 162.7,845.8 163.0,845.3 163.3,844.5 163.7,844.3 164.0,844.0 164.3,843.7 164.7,843.4 165.0,841.9 165.3,841.8 165.7,840.8 166.0,841.1 166.3,839.6 166.3,839.8 166.7,838.5 167.0,837.7 167.3,837.2 167.7,836.0 168.0,835.2 168.3,833.5 168.7,832.9 169.0,831.2 169.3,830.4 169.7,828.4 170.0,827.0 170.2,825.2 170.3,824.9 170.7,822.1 171.0,819.0 171.3,815.7 171.4,814.8 171.7,812.3 172.0,808.7 172.1,807.3 172.3,804.6 172.7,800.2 173.0,795.9 173.3,791.3 173.5,788.5 173.7,786.7 174.0,781.7 174.3,776.6 174.7,771.3 174.7,770.4 175.0,765.8 175.3,760.3 175.7,754.3 176.0,746.2 176.1,742.7 176.3,731.4 176.6,715.0 176.7,713.1 177.0,703.9 177.2,697.9 177.3,694.3 177.7,682.6 178.0,670.9 178.0,670.3 178.3,661.4 178.7,652.1 178.9,642.7 179.0,637.8 179.3,615.0 179.3,614.4 179.7,604.0 180.0,597.0 180.3,590.1 180.3,589.6 180.7,579.2 181.0,570.0 181.2,568.9 181.3,568.2 181.7,574.4 182.0,584.8 182.3,595.3 182.5,600.1 182.7,603.4 183.0,611.7 183.3,619.3 183.7,625.0 183.9,626.7 184.0,625.7 184.3,619.5 184.7,607.8 185.0,593.8 185.3,580.6 185.5,575.0 185.7,571.2 186.0,563.5 186.3,556.3 186.6,550.0 186.7,548.7 187.0,539.1 187.3,531.0 187.5,529.0 187.7,531.8 188.0,550.4 188.3,579.9 188.7,610.8 188.7,615.0 189.0,640.1 189.2,661.0 189.3,673.7 189.7,710.8 189.7,715.0 190.0,735.0 190.3,752.0 190.3,752.8 190.7,765.7 191.0,776.1 191.1,779.6 191.3,785.7 191.7,794.4 191.8,798.0 192.0,802.4 192.3,810.0 192.6,815.1 192.7,815.7 193.0,819.5 193.3,822.9 193.7,825.3 194.0,827.5 194.2,828.5 194.3,829.8 194.7,832.0 195.0,833.8 195.3,835.7 195.7,836.9 196.0,838.6 196.3,839.8 196.7,840.7 197.0,842.6 197.2,842.8 197.3,842.2 197.7,842.8 198.0,843.7 198.3,843.6 198.7,845.0 199.0,844.5 199.3,845.2 199.7,844.9 199.9,845.2 200.0,844.6 200.3,844.4 200.7,844.6 201.0,844.5 201.3,844.4 201.7,844.1 202.0,844.3 202.3,843.4 202.7,842.4 203.0,842.2 203.3,841.0 203.7,841.1 204.0,840.0 204.2,838.9 204.3,839.3 204.7,838.1 205.0,835.6 205.3,834.1 205.7,831.8 206.0,829.1 206.3,826.7 206.7,824.1 207.0,821.8 207.3,819.5 207.3,819.7 207.7,816.7 208.0,814.4 208.3,811.6 208.7,809.0 209.0,806.2 209.3,803.7 209.3,803.8 209.7,801.4 210.0,798.5 210.3,795.6 210.7,793.4 211.0,791.6 211.2,792.6 211.3,792.4 211.7,794.7 212.0,799.3 212.3,804.5 212.7,809.7 212.7,810.2 213.0,814.1 213.3,819.0 213.7,824.1 214.0,829.1 214.3,833.9 214.7,838.3 215.0,842.0 215.0,842.6 215.3,845.8 215.7,848.3 216.0,851.3 216.3,853.6 216.6,854.7 216.7,855.4 217.0,856.8 217.3,858.9 217.7,859.7 218.0,860.9 218.3,861.8 218.4,861.2 218.7,860.2 219.0,860.9 219.3,861.5 219.7,860.8 220.0,860.8 220.3,859.8 220.7,860.1 221.0,860.0 221.3,859.2 221.7,859.5 222.0,858.0 222.3,857.1 222.7,856.2 222.7,857.1 223.0,855.9 223.3,854.7 223.7,852.6 224.0,850.6 224.3,848.1 224.7,845.4 225.0,843.2 225.1,842.9 225.3,840.6 225.7,838.2 226.0,835.1 226.3,832.3 226.7,829.8 227.0,828.5 227.2,827.5 227.3,828.2 227.7,830.0 228.0,833.9 228.3,838.8 228.7,844.2 229.0,849.2 229.3,852.7 229.4,853.6 229.7,855.2 230.0,857.7 230.3,860.5 230.7,862.7 231.0,864.7 231.3,865.9 231.7,867.7 232.0,868.7 232.0,869.2 232.3,869.4 232.7,870.4 233.0,870.5 233.3,871.4 233.7,871.7 234.0,872.7 234.3,872.3 234.7,872.7 235.0,873.7 235.3,874.6 235.7,874.1 235.9,874.2 236.0,873.9 236.3,874.9 236.7,874.8 237.0,875.7 237.3,875.2 237.7,874.6 238.0,875.0 238.3,874.9 238.7,874.9 239.0,876.5 239.3,876.3 239.7,875.1 240.0,877.0 240.3,876.1 240.7,875.4 241.0,876.3 241.3,876.1 241.7,875.8 242.0,875.2 242.3,876.6 242.7,876.9 243.0,875.0 243.3,877.2 243.6,877.3 243.7,876.6 244.0,877.1 244.3,876.8 244.7,876.3 245.0,876.5 245.3,877.6 245.7,875.5 246.0,876.5 246.3,876.5 246.7,875.9 247.0,876.2 247.3,875.6 247.7,876.2 248.0,876.9 248.3,877.1 248.7,876.3 249.0,879.0 249.3,876.5 249.7,876.9 250.0,876.7 250.3,876.5 250.7,877.7 251.0,876.4 251.3,877.6 251.7,877.4 252.0,875.8 252.3,877.2 252.7,876.1 253.0,878.4 253.3,876.3 253.7,875.8 254.0,875.1 254.3,875.4 254.7,875.8 255.0,875.5 255.3,875.3 255.7,875.6 256.0,876.0 256.0,877.2 256.3,875.1 256.7,875.9 257.0,875.6 257.3,875.1 257.7,875.1 258.0,875.1 258.3,875.6 258.7,874.8 259.0,874.2 259.3,874.2 259.7,873.6 260.0,872.8 260.3,872.5 260.6,871.5 260.7,872.0 261.0,871.1 261.3,869.8 261.7,868.5 262.0,868.0 262.3,866.3 262.7,865.9 262.9,864.0 263.0,864.1 263.3,862.4 263.7,861.0 264.0,859.7 264.3,858.2 264.6,858.1 264.7,858.2 265.0,858.8 265.3,860.4 265.7,862.5 266.0,864.6 266.3,866.5 266.5,867.0 266.7,867.7 267.0,869.4 267.3,871.0 267.7,872.8 268.0,873.8 268.3,874.6 268.3,875.2 268.7,875.7 269.0,876.6 269.3,877.6 269.7,878.7 270.0,878.1 270.3,879.0 270.6,880.0 270.7,879.7 271.0,879.5 271.3,879.8 271.7,881.2 272.0,880.0 272.3,880.9 272.7,881.1 273.0,880.4 273.3,881.1 273.7,880.6 274.0,880.5 274.3,880.1 274.7,881.4 275.0,880.5 275.3,880.3 275.7,879.9 276.0,881.9 276.3,881.1 276.7,880.4 277.0,880.0 277.3,879.4 277.6,880.7 277.7,880.7 278.0,879.5 278.3,881.0 278.7,880.5 279.0,879.3 279.3,879.2 279.7,878.9 280.0,878.8 280.3,878.2 280.7,877.0 281.0,877.9 281.3,876.8 281.4,877.0 281.7,876.6 282.0,875.3 282.3,874.5 282.7,873.7 283.0,872.7 283.3,871.5 283.5,871.0 283.7,870.7 284.0,869.5 284.3,868.6 284.7,867.2 285.0,867.4 285.3,866.4 285.3,866.8 285.7,868.0 286.0,870.0 286.3,872.5 286.7,874.2 286.9,874.7 287.0,875.6 287.3,876.5 287.7,877.9 288.0,878.3 288.3,878.7 288.4,879.0 288.7,879.1 289.0,878.5 289.3,879.3 289.7,879.8 290.0,880.6 290.3,879.6 290.7,879.5 291.0,880.1 291.3,880.1 291.7,880.9 292.0,880.2 292.3,879.8 292.3,880.8 292.7,880.7 293.0,879.3 293.3,879.5 293.7,878.2 294.0,878.5 294.3,877.8 294.7,877.8 295.0,877.2 295.3,877.0 295.7,876.6 296.0,876.7 296.3,876.3 296.7,875.7 297.0,875.2 297.3,876.9 297.4,877.1 297.7,875.9 298.0,876.7 298.3,876.4 298.7,877.1 299.0,878.4 299.3,879.8 299.7,879.6 300.0,880.3 300.0,881.3 300.3,880.3 300.7,881.9 301.0,882.4 301.3,882.6 301.7,883.2 302.0,884.7 302.3,882.8 302.3,883.3 302.7,883.5 303.0,883.3 303.3,883.1 303.7,885.2 304.0,884.5 304.3,883.4 304.7,884.2 305.0,885.0 305.3,885.1 305.7,884.0 306.0,884.9 306.3,885.1 306.7,885.2 307.0,885.2 307.3,883.7 307.7,886.2 308.0,885.2 308.3,886.3 308.7,887.2 309.0,885.3 309.3,884.7 309.7,886.2 310.0,885.5 310.3,885.3 310.7,884.8 311.0,886.6 311.3,884.9 311.6,884.1 311.7,884.6 312.0,884.0 312.3,884.8 312.7,884.4 313.0,884.0 313.3,885.3 313.7,884.5 314.0,885.6 314.3,886.1 314.7,885.0 315.0,884.8 315.3,885.3 315.7,885.7 316.0,885.1 316.3,885.1 316.7,885.0 317.0,885.2 317.3,885.4 317.7,884.5 318.0,884.7 318.3,885.1 318.7,884.6 319.0,885.1 319.3,885.3 319.7,884.9 320.0,884.4 320.3,884.1 320.7,885.6 320.8,884.9 321.0,883.5 321.3,883.5 321.7,885.0 322.0,884.6 322.3,883.6 322.7,884.0 323.0,882.3 323.3,882.8 323.7,883.0 324.0,881.4 324.3,881.8 324.7,882.6 325.0,882.8 325.3,881.6 325.5,882.2 325.7,883.0 326.0,881.7 326.3,881.3 326.7,882.2 327.0,882.2 327.3,883.4 327.7,883.1 328.0,882.9 328.3,884.8 328.7,883.6 329.0,884.4 329.3,884.8 329.7,885.2 330.0,885.2 330.3,885.7 330.7,885.6 331.0,884.9 331.3,885.8 331.7,885.8 331.7,885.8 332.0,886.0 332.3,885.4 332.7,886.8 333.0,886.9 333.3,884.4 333.7,885.9 334.0,885.5 334.3,884.3 334.7,886.5 335.0,885.8 335.3,886.0 335.7,885.8 336.0,886.8 336.3,886.8 336.7,886.0 337.0,886.2 337.3,885.5 337.7,885.6 338.0,885.0 338.3,885.5 338.7,885.0 339.0,885.7 339.3,886.0 339.7,885.6 340.0,886.1 340.3,887.0 340.7,883.8 341.0,885.0 341.3,884.4 341.7,884.3 342.0,883.6 342.3,884.4 342.7,884.1 343.0,883.7 343.3,883.9 343.7,883.6 344.0,882.5 344.0,884.7 344.3,883.8 344.7,883.4 345.0,884.1 345.3,883.4 345.7,882.4 346.0,883.9 346.3,882.3 346.7,882.8 347.0,882.6 347.3,883.0 347.7,882.6 348.0,881.7 348.3,880.9 348.7,880.7 348.7,881.5 349.0,881.4 349.3,880.4 349.7,879.4 350.0,879.7 350.3,878.6 350.7,878.2 351.0,877.8 351.3,877.9 351.7,877.5 352.0,877.8 352.2,878.1 352.3,877.5 352.7,875.9 353.0,876.5 353.3,877.8 353.7,878.0 354.0,879.4 354.3,878.6 354.7,878.9 355.0,879.8 355.3,880.3 355.7,880.0 356.0,880.7 356.3,880.3 356.7,880.7 357.0,882.2 357.3,881.2 357.7,882.7 358.0,882.9 358.3,883.2 358.7,883.5 358.7,883.3 359.0,881.5 359.3,882.2 359.7,882.4 360.0,883.2 360.3,881.8 360.7,881.9 361.0,881.9 361.3,882.7 361.7,881.0 362.0,880.9 362.3,881.8 362.7,880.1 363.0,881.2 363.3,880.5 363.7,879.7 364.0,880.0 364.1,879.6 364.3,879.9 364.7,879.5 365.0,879.4 365.3,878.1 365.7,877.6 366.0,876.7 366.3,876.4 366.7,876.4 367.0,874.5 367.2,875.9 367.3,875.2 367.7,875.5 368.0,875.7 368.3,876.1 368.7,875.7 369.0,875.3 369.3,875.7 369.7,875.5 370.0,875.3 370.3,875.4 370.7,875.8 371.0,875.1 371.1,875.1 371.3,874.1 371.7,874.0 372.0,872.5 372.3,872.0 372.7,870.1 373.0,869.0 373.3,867.7 373.7,865.1 374.0,863.7 374.1,862.6 374.3,861.4 374.7,858.8 375.0,855.9 375.3,852.6 375.7,849.1 376.0,845.7 376.3,843.3 376.7,841.9 376.9,842.6 377.0,841.8 377.3,842.8 377.7,845.5 378.0,848.9 378.3,853.1 378.7,857.3 379.0,861.0 379.3,864.5 379.6,866.1 379.7,866.7 380.0,867.7 380.3,869.1 380.7,870.8 381.0,871.8 381.3,873.1 381.7,873.1 381.9,874.0 382.0,873.8 382.3,874.8 382.7,875.0 383.0,875.9 383.3,876.4 383.7,876.4 384.0,874.9 384.2,876.6 384.3,876.2 384.7,875.2 385.0,875.2 385.3,875.4 385.7,875.3 386.0,874.3 386.3,873.3 386.7,873.4 387.0,872.6 387.3,872.7 387.7,870.4 388.0,871.1 388.3,870.1 388.7,868.9 388.8,869.2 389.0,868.4 389.3,868.3 389.7,867.0 390.0,866.8 390.3,865.8 390.7,865.1 391.0,865.1 391.3,864.4 391.7,864.7 392.0,864.9 392.2,863.8 392.3,864.0 392.7,864.2 393.0,863.7 393.3,865.1 393.7,865.6 394.0,866.1 394.3,866.3 394.7,866.4 395.0,867.6 395.3,868.2 395.7,868.9 395.8,868.8 396.0,868.8 396.3,867.8 396.7,867.8 397.0,866.7 397.3,866.5 397.7,866.0 398.0,865.8 398.3,864.2 398.7,862.8 398.9,863.1 399.0,862.1 399.3,860.5 399.7,857.8 400.0,854.5 400.3,851.3 400.7,847.6 401.0,843.9 401.3,841.0 401.7,838.5 402.0,837.3 402.3,836.6 402.3,836.4 402.7,837.6 403.0,840.4 403.3,844.2 403.7,848.5 404.0,853.1 404.3,857.6 404.7,861.5 405.0,863.9 405.0,863.4 405.3,865.3 405.7,866.9 406.0,868.6 406.3,870.4 406.7,871.5 407.0,871.6 407.3,873.3 407.7,873.9 408.0,874.4 408.1,875.3 408.3,873.8 408.7,874.9 409.0,873.2 409.3,873.5 409.7,872.9 410.0,873.0 410.3,871.1 410.7,869.9 411.0,870.2 411.3,869.1 411.7,869.9 412.0,868.4 412.0,868.3 412.3,869.8 412.7,869.2 413.0,869.9 413.3,868.9 413.7,870.7 414.0,870.0 414.3,871.0 414.7,870.6 415.0,870.7 415.3,871.7 415.7,872.2 416.0,873.1 416.3,872.5 416.6,872.8 416.7,872.7 417.0,873.9 417.3,871.6 417.7,871.9 418.0,870.7 418.3,870.1 418.7,869.0 419.0,868.8 419.3,867.2 419.4,867.0 419.7,866.8 420.0,865.4 420.3,864.8 420.7,863.8 421.0,862.3 421.3,862.3 421.6,861.2 421.7,861.7 422.0,862.6 422.3,864.6 422.7,866.3 423.0,868.4 423.3,870.4 423.6,872.2 423.7,871.7 424.0,873.6 424.3,875.2 424.7,875.8 425.0,877.0 425.1,878.0 425.3,877.5 425.7,876.8 426.0,877.8 426.3,877.6 426.7,878.5 427.0,876.6 427.3,876.7 427.7,876.9 428.0,876.7 428.3,876.7 428.7,876.5 429.0,876.0 429.0,875.4 429.3,876.0 429.7,875.3 430.0,875.3 430.3,875.2 430.7,875.2 431.0,874.9 431.3,873.5 431.7,873.6 432.0,873.4 432.3,872.5 432.7,871.4 433.0,870.8 433.3,871.8 433.7,871.6 434.0,871.1 434.3,870.2 434.7,871.6 435.0,871.5 435.2,870.8 435.3,870.7 435.7,869.8 436.0,871.6 436.3,870.7 436.7,872.2 437.0,872.7 437.3,872.7 437.7,873.8 438.0,872.9 438.3,873.6 438.3,873.6 438.7,873.1 439.0,872.6 439.3,873.6 439.7,873.0 440.0,872.6 440.3,872.5 440.7,872.6 441.0,873.8 441.3,872.4 441.7,872.0 442.0,871.3 442.3,871.0 442.7,870.3 443.0,871.5 443.3,871.2 443.7,870.4 443.7,870.0 444.0,871.0 444.3,871.3 444.7,871.6 445.0,873.0 445.3,873.8 445.7,874.6 446.0,875.8 446.3,876.2 446.7,877.7 447.0,877.4 447.3,878.6 447.7,879.0 447.7,878.4 448.0,878.7 448.3,877.5 448.7,877.2 449.0,878.0 449.3,877.6 449.7,878.5 450.0,878.1 450.3,878.5 450.7,878.4 451.0,878.3 451.3,878.2 451.7,877.9 452.0,877.7 452.3,879.1 452.7,876.6 453.0,877.4 453.3,878.0 453.7,877.5 454.0,878.0 454.3,877.3 454.7,876.0 455.0,876.3 455.3,875.5 455.4,876.8 455.7,876.9 456.0,875.6 456.3,875.9 456.7,875.1 457.0,874.3 457.3,874.5 457.7,873.6 458.0,873.8 458.3,873.9 458.7,873.8 459.0,873.9 459.3,872.8 459.7,872.8 460.0,872.7 460.3,872.5 460.7,870.0 460.9,871.1 461.0,872.1 461.3,870.9 461.7,871.9 462.0,872.6 462.3,871.6 462.7,872.9 463.0,873.6 463.3,874.1 463.7,873.9 464.0,875.2 464.3,875.3 464.7,876.4 465.0,876.7 465.3,876.8 465.7,877.5 466.0,877.5 466.3,877.8 466.7,877.6 467.0,878.6 467.3,879.4 467.7,879.1 467.8,879.1 468.0,878.8 468.3,878.9 468.7,879.8 469.0,878.3 469.3,880.7 469.7,879.2 470.0,880.8 470.3,880.0 470.7,878.9 471.0,879.7 471.3,879.4 471.7,879.5 472.0,879.8 472.3,878.8 472.7,878.7 473.0,878.9 473.3,878.2 473.7,879.0 474.0,879.4 474.0,879.4 474.3,879.1 474.7,878.4 475.0,878.0 475.3,876.1 475.7,875.4 476.0,874.2 476.3,873.3 476.7,872.1 477.0,871.0 477.1,870.5 477.3,870.1 477.7,868.3 478.0,867.4 478.3,865.6 478.7,866.0 479.0,865.6 479.2,864.3 479.3,864.2 479.7,864.4 480.0,865.9 480.3,867.8 480.7,869.4 481.0,870.7 481.3,872.3 481.7,873.1 481.7,873.7 482.0,874.3 482.3,874.4 482.7,875.0 483.0,875.4 483.3,874.7 483.7,876.1 484.0,876.2 484.3,876.8 484.7,875.3 485.0,877.0 485.1,876.1 485.3,876.7 485.7,877.1 486.0,875.4 486.3,875.2 486.7,875.9 487.0,874.5 487.3,874.0 487.7,874.1 488.0,873.1 488.3,872.9 488.7,872.1 489.0,871.3 489.3,871.2 489.7,871.2 490.0,869.7 490.3,870.2 490.7,869.8 491.0,869.0 491.0,869.1 491.3,868.1 491.7,868.1 492.0,868.6 492.3,868.4 492.7,869.4 493.0,867.7 493.3,868.4 493.7,868.1 494.0,868.3 494.1,868.9 494.3,867.4 494.7,867.8 495.0,866.5 495.3,865.7 495.7,865.0 496.0,863.6 496.3,862.7 496.7,861.5 497.0,860.5 497.3,859.6 497.7,858.4 498.0,858.4 498.1,858.8 498.3,858.8 498.7,858.1 499.0,859.7 499.3,859.9 499.7,859.6 500.0,860.4 500.3,861.7 500.7,861.5 501.0,862.5 501.3,863.5 501.7,864.1 501.8,864.4 502.0,864.9 502.3,865.1 502.7,865.9 503.0,867.5 503.3,867.0 503.7,868.1 504.0,869.1 504.3,869.5 504.7,870.9 505.0,871.1 505.3,872.0 505.7,870.8 506.0,873.1 506.3,873.3 506.4,872.0 506.7,873.4 507.0,872.5 507.3,872.6 507.7,872.7 508.0,871.4 508.3,870.4 508.7,870.5 509.0,869.5 509.3,869.4 509.7,869.0 510.0,868.7 510.3,869.1 510.3,869.0 510.7,867.7 511.0,867.1 511.3,864.9 511.7,863.4 512.0,861.5 512.3,859.8 512.7,857.6 513.0,855.7 513.3,854.1 513.4,853.6 513.7,852.4 514.0,850.1 514.3,847.9 514.7,846.2 515.0,844.7 515.3,843.0 515.7,842.1 516.0,841.6 516.2,841.7 516.3,841.8 516.7,841.7 517.0,843.4 517.3,844.5 517.7,846.6 518.0,848.4 518.3,850.9 518.7,852.4 518.8,853.8 519.0,854.3 519.3,856.7 519.7,859.0 520.0,861.3 520.3,864.1 520.7,866.1 521.0,868.6 521.3,869.8 521.7,871.1 521.9,871.1 522.0,872.4 522.3,873.2 522.7,873.5 523.0,874.0 523.3,874.1 523.7,876.2 524.0,875.7 524.3,874.4 524.7,875.3 525.0,873.6 525.0,876.4 525.3,876.2 525.7,875.5 526.0,874.3 526.3,873.6 526.7,872.7 527.0,872.9 527.3,871.7 527.7,871.2 528.0,870.4 528.1,870.4 528.3,870.2 528.7,869.2 529.0,867.4 529.3,866.0 529.7,864.2 530.0,862.7 530.1,862.4 530.3,861.8 530.7,859.9 531.0,858.5 531.3,857.2 531.6,856.5 531.7,856.0 532.0,857.1 532.3,858.1 532.7,860.6 533.0,861.9 533.2,862.6 533.3,863.8 533.7,864.8 534.0,866.8 534.3,868.3 534.7,869.9 535.0,870.9 535.0,871.3 535.3,872.5 535.7,872.6 536.0,873.1 536.3,875.2 536.7,875.5 537.0,876.4 537.3,876.2 537.6,877.6 537.7,877.9 538.0,875.9 538.3,877.2 538.7,876.4 539.0,875.7 539.3,876.3 539.7,876.5 540.0,875.1 540.3,874.8 540.7,875.7 541.0,874.7 541.3,874.5 541.7,873.3 542.0,873.2 542.0,873.6 542.3,873.1 542.7,872.4 543.0,872.2 543.3,870.9 543.7,869.4 544.0,868.6 544.3,867.8 544.7,867.0 545.0,865.3 545.3,864.2 545.7,863.2 545.8,862.4 546.0,861.9 546.3,860.9 546.7,859.7 547.0,858.0 547.3,856.3 547.7,854.9 548.0,853.1 548.3,852.7 548.7,851.8 549.0,851.3 549.1,849.9 549.3,852.1 549.7,851.1 550.0,853.1 550.3,854.6 550.7,856.5 551.0,857.1 551.2,858.3 551.3,858.3 551.7,858.8 552.0,859.8 552.3,860.5 552.7,860.5 553.0,860.5 553.3,859.7 553.7,862.0 554.0,860.9 554.0,859.9 554.3,861.0 554.7,860.4 555.0,858.6 555.3,856.8 555.7,856.3 555.9,855.1 556.0,854.7 556.3,853.9 556.7,851.8 557.0,851.4 557.3,850.5 557.7,850.9 558.0,849.0 558.0,849.0 558.3,849.7 558.7,851.5 559.0,853.7 559.3,856.4 559.7,858.9 560.0,861.8 560.3,863.6 560.5,864.5 560.7,865.2 561.0,866.2 561.3,867.0 561.7,867.8 562.0,869.4 562.3,869.9 562.7,871.5 563.0,871.5 563.3,871.4 563.6,872.8 563.7,873.3 564.0,873.0 564.3,873.5 564.7,873.7 565.0,874.8 565.3,874.2 565.7,874.3 566.0,874.2 566.3,873.9 566.7,876.0 567.0,876.1 567.3,875.3 567.7,876.4 568.0,876.6 568.2,876.4 568.3,876.6 568.7,877.5 569.0,877.3 569.3,878.2 569.7,879.0 570.0,879.7 570.3,880.1 570.7,880.7 571.0,881.2 571.0,880.2 571.3,880.8 571.7,880.2 572.0,881.5 572.3,879.4 572.7,880.1 573.0,880.6 573.3,879.9 573.7,879.8 574.0,879.6 574.3,880.0 574.7,878.9 575.0,879.5 575.3,879.3 575.7,878.4 576.0,879.3 576.0,878.8 576.3,878.9 576.7,878.6 577.0,877.7 577.3,876.5 577.7,876.5 578.0,875.1 578.3,875.0 578.7,876.4 578.7,875.3 579.0,876.1 579.3,875.6 579.7,876.3 580.0,876.8 580.3,878.5 580.7,879.2 581.0,880.5 581.3,881.5 581.7,882.4 582.0,883.0 582.1,883.0 582.3,883.2 582.7,883.1 583.0,882.5 583.3,884.1 583.7,885.2 584.0,884.8 584.3,885.6 584.7,884.7 585.0,883.9 585.3,884.0 585.7,885.2 586.0,885.0 586.3,884.7 586.7,885.3 586.8,884.2 587.0,885.2 587.3,884.6 587.7,884.7 588.0,885.0 588.3,884.0 588.7,884.5 589.0,884.2 589.3,882.8 589.7,884.2 590.0,882.0 590.3,882.6 590.6,883.1 590.7,881.1 591.0,883.5 591.3,883.6 591.7,883.0 592.0,883.4 592.3,883.5 592.7,883.4 593.0,884.3 593.3,883.6 593.7,884.0 594.0,884.4 594.3,884.9 594.7,885.3 595.0,883.9 595.3,883.7 595.7,884.9 596.0,885.0 596.3,884.4 596.7,885.3 597.0,885.5 597.3,885.3 597.6,886.1 597.7,884.2 598.0,884.9 598.3,885.9 598.7,885.0 599.0,883.8 599.3,884.3 599.7,884.6 600.0,884.8 600.3,883.8 600.7,883.8 601.0,882.3 601.3,882.4 601.7,882.9 602.0,881.5 602.2,881.9 602.3,880.7 602.7,882.8 603.0,881.7 603.3,882.1 603.7,880.7 604.0,880.8 604.3,882.8 604.7,881.3 605.0,881.1 605.3,881.7 605.7,881.7 606.0,879.9 606.3,880.6 606.7,881.2 607.0,881.1 607.3,881.3 607.7,880.7 608.0,880.7 608.3,880.8 608.7,880.0 609.0,879.7 609.3,879.7 609.7,879.9 609.9,879.7 610.0,879.5 610.3,879.8 610.7,880.0 611.0,880.4 611.3,880.5 611.7,879.5 612.0,881.1 612.3,879.4 612.7,880.8 613.0,879.9 613.3,880.6 613.7,880.8 614.0,878.7 614.3,880.2 614.7,879.8 615.0,879.2 615.3,879.7 615.7,879.0 616.0,879.3 616.3,878.4 616.7,879.5 617.0,879.2 617.3,879.2 617.7,878.2 617.7,879.7 618.0,879.6 618.3,878.2 618.7,877.7 619.0,877.4 619.3,877.4 619.7,877.0 620.0,875.8 620.3,874.7 620.7,875.3 621.0,874.6 621.3,874.3 621.7,874.2 622.0,873.1 622.3,873.7 622.3,873.3 622.7,873.8 623.0,874.4 623.3,874.1 623.7,874.2 624.0,875.7 624.3,876.1 624.7,876.5 625.0,876.6 625.3,877.6 625.7,878.7 626.0,879.4 626.3,879.4 626.7,880.2 626.9,879.9 627.0,880.0 627.3,880.8 627.7,880.6 628.0,881.0 628.3,881.7 628.7,882.0 629.0,881.2 629.3,881.6 629.7,881.2 630.0,881.3 630.3,882.5 630.7,882.1 631.0,881.4 631.3,883.0 631.7,882.1 632.0,882.5 632.3,883.0 632.3,883.0 632.7,882.6 633.0,881.4 633.3,882.4 633.7,881.5 634.0,880.7 634.3,879.8 634.7,880.8 635.0,879.7 635.3,879.2 635.4,879.3 635.7,878.7 636.0,877.5 636.3,877.8 636.7,877.3 637.0,876.6 637.3,876.8 637.7,877.0 637.8,875.2 638.0,875.5 638.3,876.5 638.7,876.5 639.0,877.0 639.3,877.9 639.7,878.3 640.0,878.3 640.1,878.7 640.3,878.7 640.7,879.5 641.0,879.8 641.3,880.1 641.7,881.3 642.0,881.6 642.3,882.9 642.4,883.5 642.7,882.5 643.0,882.9 643.3,882.1 643.7,881.9 644.0,882.3 644.3,882.2 644.7,882.5 645.0,882.3 645.3,883.3 645.7,881.9 646.0,880.9 646.2,882.1 646.3,881.7 646.7,882.1 647.0,882.2 647.3,880.9 647.7,880.6 648.0,880.1 648.3,878.9 648.7,878.6 649.0,877.9 649.3,877.4 649.7,877.0 650.0,876.3 650.3,875.9 650.4,874.6 650.7,874.1 651.0,875.5 651.3,877.1 651.7,877.1 652.0,876.9 652.3,878.3 652.7,879.4 653.0,879.3 653.3,880.9 653.7,880.9 654.0,882.3 654.0,881.9 654.3,883.7 654.7,882.3 655.0,883.6 655.3,883.4 655.7,885.0 656.0,885.0 656.3,885.8 656.7,885.6 657.0,884.9 657.1,885.2 657.3,884.8 657.7,884.9 658.0,885.4 658.3,885.7 658.7,885.3 659.0,884.8 659.3,883.9 659.7,884.1 660.0,883.1 660.3,883.3 660.7,883.2 661.0,882.3 661.3,881.8 661.7,881.5 662.0,881.7 662.3,880.9 662.5,880.2 662.7,880.6 663.0,880.1 663.3,881.5 663.7,880.4 664.0,879.4 664.3,880.3 664.7,880.5 665.0,880.2 665.3,879.6 665.7,879.9 666.0,879.9 666.3,880.2 666.7,879.7 667.0,880.7 667.3,879.0 667.7,879.8 668.0,878.8 668.3,877.7 668.7,878.0 668.7,877.8 669.0,877.8 669.3,879.0 669.7,877.8 670.0,877.8 670.3,876.7 670.7,876.5 671.0,875.5 671.3,875.9 671.7,875.0 672.0,874.6 672.3,874.6 672.5,876.2 672.7,875.1 673.0,875.4 673.3,874.3 673.7,874.9 674.0,875.7 674.3,875.1 674.7,877.0 675.0,876.9 675.3,877.1 675.7,877.5 676.0,877.9 676.3,878.1 676.7,879.4 677.0,879.5 677.3,880.1 677.7,879.7 677.9,879.7 678.0,880.8 678.3,879.9 678.7,880.6 679.0,881.6 679.3,882.2 679.7,881.4 680.0,882.3 680.3,882.9 680.7,883.2 681.0,883.3 681.3,884.4 681.7,884.2 682.0,884.7 682.3,884.1 682.7,885.5 683.0,884.8 683.3,886.4 683.7,886.5 684.0,886.1 684.3,886.5 684.7,886.5 684.9,886.3 685.0,886.6 685.3,886.3 685.7,886.0 686.0,885.7 686.3,887.1 686.7,886.1 687.0,885.8 687.3,886.1 687.7,885.3 688.0,885.2 688.3,885.7 688.7,885.8 689.0,885.4 689.3,884.0 689.7,884.8 690.0,884.7 690.3,884.9 690.7,883.9 691.0,883.8 691.1,884.4 691.3,883.9 691.7,883.9 692.0,884.6 692.3,885.3 692.7,885.1 693.0,885.9 693.3,885.0 693.7,886.2 694.0,886.0 694.3,885.7 694.7,886.1 694.9,885.9 695.0,886.4 695.3,886.1 695.7,887.5 696.0,886.4 696.3,885.7 696.7,886.5 697.0,886.9 697.3,886.3 697.7,886.9 698.0,885.7 698.3,885.5 698.7,886.9 699.0,885.8 699.3,886.0 699.7,886.0 700.0,886.0 700.3,885.7 700.7,885.6 701.0,886.4 701.3,885.3 701.7,885.7 702.0,886.0 702.3,885.3 702.7,884.5 703.0,885.8 703.3,886.2 703.7,885.5 704.0,884.1 704.2,885.6 704.3,886.3 704.7,884.2 705.0,883.9 705.3,885.5 705.7,886.1 706.0,886.9 706.3,887.4 706.7,887.6 707.0,888.4 707.3,888.8 707.7,889.2 708.0,889.5 708.3,889.8 708.7,890.5 708.8,890.4 709.0,889.8 709.3,890.7 709.7,889.4 710.0,889.5 710.3,889.4 710.7,888.0 711.0,888.4 711.3,888.6 711.7,888.2 712.0,886.9 712.3,886.7 712.7,886.3 712.7,886.6 713.0,886.4 713.3,885.3 713.7,885.9 714.0,885.5 714.3,885.1 714.7,884.4 715.0,884.3 715.3,883.1 715.7,883.8 716.0,883.6 716.3,883.3 716.5,882.5 716.7,884.2 717.0,884.2 717.3,883.1 717.7,884.6 718.0,885.0 718.3,884.4 718.7,886.2 719.0,886.8 719.3,887.3 719.6,887.4 719.7,887.0 720.0,887.4 720.3,888.3 720.7,889.0 721.0,888.5 721.3,888.9 721.7,889.7 722.0,888.3 722.3,889.9 722.7,889.6 722.7,888.4 723.0,890.3 723.3,889.3 723.7,890.4 724.0,890.9 724.3,889.2 724.7,889.2 725.0,890.0 725.3,888.9 725.7,890.5 726.0,890.2 726.3,890.8 726.7,889.0 727.0,890.5 727.3,890.9 727.7,889.5 728.0,891.5 728.3,890.1 728.7,891.2 729.0,890.2 729.3,891.5 729.7,892.1 730.0,890.9 730.3,890.9 730.7,891.8 731.0,890.7 731.3,891.2 731.7,891.9 732.0,891.7 732.0,892.5 732.3,892.1 732.7,892.3 733.0,890.9 733.3,891.2 733.7,889.8 734.0,890.4 734.3,890.6 734.7,890.6 735.0,888.5 735.3,888.8 735.7,888.9 736.0,887.9 736.3,888.3 736.7,888.0 737.0,887.1 737.3,886.8 737.7,886.2 738.0,886.6 738.3,886.9 738.7,886.2 739.0,887.7 739.3,885.0 739.7,885.5 739.7,886.4 740.0,885.1 740.3,886.1 740.7,886.4 741.0,886.0 741.3,885.9 741.7,886.8 742.0,886.6 742.3,887.0 742.7,887.0 743.0,886.3 743.3,886.0 743.7,886.5 744.0,886.8 744.3,886.6 744.7,887.4 745.0,886.9 745.1,887.5 745.3,886.9 745.7,886.3 746.0,887.1 746.3,886.7 746.7,885.7 747.0,885.7 747.3,887.0 747.7,883.4 748.0,885.4 748.3,884.5 748.7,884.2 749.0,883.8 749.3,883.5 749.7,885.0 750.0,883.2 750.3,883.3 750.5,884.0 750.7,883.8 751.0,883.6 751.3,883.7 751.7,883.5 752.0,885.1 752.3,884.3 752.7,884.0 753.0,886.0 753.3,886.2 753.6,886.2 753.7,885.8 754.0,886.9 754.3,886.2 754.7,886.2 755.0,887.7 755.3,888.5 755.7,888.9 756.0,890.0 756.3,889.9 756.7,889.7 756.7,889.8 757.0,890.6 757.3,890.3 757.7,890.5 758.0,889.7 758.3,890.7 758.7,890.3 759.0,891.4 759.3,891.5 759.7,892.1 760.0,892.9 760.3,891.9 760.7,893.0 761.0,891.4 761.3,892.3 761.7,892.9 762.0,893.6 762.1,891.5 762.3,892.1 762.7,892.4 763.0,892.2 763.3,891.6 763.7,891.2 764.0,891.4 764.3,892.2 764.7,891.3 765.0,893.2 765.3,892.8 765.7,890.7 766.0,891.4 766.0,892.4"/>
<polyline clip-path="url(#cp1)" fill="none" stroke="#ff0000" stroke-width="2.9" stroke-linejoin="round" stroke-linecap="round" points="793.1,421.0 793.4,419.8 793.8,420.8 794.1,420.6 794.4,420.7 794.8,420.9 795.1,420.5 795.4,421.1 795.8,421.1 796.1,422.3 796.4,421.6 796.8,421.5 797.1,421.6 797.4,421.6 797.8,421.6 798.1,421.8 798.4,422.1 798.8,421.9 799.1,422.3 799.3,422.0 799.4,422.1 799.8,422.6 800.1,422.4 800.4,422.2 800.8,422.4 801.1,422.8 801.4,423.3 801.8,422.9 802.1,423.0 802.4,423.5 802.8,423.1 803.1,423.4 803.4,423.8 803.8,423.8 804.1,423.8 804.4,424.0 804.8,423.1 805.1,424.2 805.4,423.7 805.8,423.6 806.1,424.3 806.4,424.6 806.8,424.4 807.1,424.4 807.4,424.8 807.8,424.8 808.1,425.3 808.4,425.2 808.5,425.0 808.8,425.2 809.1,424.9 809.4,424.7 809.8,425.1 810.1,425.1 810.4,424.8 810.8,424.6 811.1,424.9 811.4,424.2 811.8,425.2 812.1,425.2 812.4,424.6 812.8,425.2 813.1,424.9 813.4,425.4 813.8,424.5 814.1,424.8 814.4,425.2 814.8,425.3 815.1,424.2 815.4,424.7 815.8,424.9 816.1,424.6 816.4,425.3 816.8,424.5 817.1,425.0 817.4,424.6 817.8,425.4 817.8,425.1 818.1,425.0 818.4,424.6 818.8,425.3 819.1,424.9 819.4,424.7 819.8,424.5 820.1,424.0 820.4,423.4 820.8,423.0 821.1,422.7 821.4,422.7 821.8,421.8 822.1,421.5 822.4,421.2 822.4,421.3 822.8,421.0 823.1,420.2 823.4,419.8 823.8,419.7 824.1,419.5 824.4,418.9 824.8,418.2 825.1,417.5 825.4,417.0 825.8,416.2 826.1,415.6 826.3,414.9 826.4,414.7 826.8,413.6 827.1,412.2 827.4,410.5 827.8,408.7 828.1,406.5 828.4,404.3 828.6,402.6 828.8,401.8 829.1,399.2 829.4,396.5 829.8,393.2 830.1,390.0 830.4,386.2 830.8,381.9 830.9,379.5 831.1,377.3 831.4,371.6 831.8,364.8 832.1,357.6 832.4,350.0 832.5,348.7 832.8,342.9 833.1,336.2 833.4,328.6 833.8,319.5 834.0,310.0 834.1,307.4 834.4,282.2 834.8,243.4 835.1,197.0 835.4,149.1 835.8,105.8 836.1,73.3 836.4,57.4 836.5,56.8 836.8,141.1 837.1,303.8 837.1,310.0 837.4,345.2 837.6,356.3 837.8,365.6 838.1,380.2 838.4,390.8 838.7,396.5 838.8,398.3 839.1,404.4 839.4,409.0 839.7,411.7 839.8,411.9 840.1,413.8 840.4,415.3 840.8,416.7 841.1,417.7 841.4,418.4 841.8,419.1 841.8,418.8 842.1,419.1 842.4,419.6 842.8,419.7 843.1,420.1 843.4,419.2 843.8,420.0 844.1,419.6 844.1,419.7 844.4,419.5 844.8,418.6 845.1,417.6 845.4,416.5 845.8,416.2 845.9,415.6 846.1,415.8 846.4,416.6 846.8,417.3 847.1,418.7 847.4,419.5 847.8,420.3 847.9,419.9 848.1,419.8 848.4,419.7 848.8,419.4 849.1,418.7 849.4,418.3 849.8,417.5 850.1,417.1 850.3,416.4 850.4,416.3 850.8,415.3 851.1,414.3 851.4,413.4 851.8,412.2 852.1,411.1 852.4,409.6 852.8,407.8 853.1,405.9 853.3,404.4 853.4,403.7 853.8,400.1 854.1,395.1 854.4,389.0 854.8,382.3 854.9,379.5 855.1,374.1 855.4,361.3 855.8,346.8 856.1,333.8 856.4,325.8 856.6,324.7 856.8,325.8 857.1,334.4 857.4,348.9 857.8,366.9 858.0,379.5 858.1,388.5 858.4,417.7 858.4,418.1 858.8,422.6 859.1,425.4 859.4,427.1 859.5,427.5 859.8,427.5 860.1,428.6 860.4,429.2 860.8,429.6 861.1,430.4 861.4,430.6 861.8,430.6 862.1,431.3 862.4,431.6 862.8,431.9 863.1,431.7 863.4,432.3 863.4,432.3 863.8,431.9 864.1,432.2 864.4,432.4 864.8,432.4 865.1,433.2 865.4,433.0 865.8,432.8 866.1,433.0 866.4,433.3 866.8,434.1 867.1,433.5 867.4,433.7 867.8,433.9 868.1,433.8 868.4,434.5 868.8,433.6 868.8,434.0 869.1,433.7 869.4,433.7 869.8,433.0 870.1,433.4 870.4,432.7 870.8,432.5 871.1,432.1 871.4,432.1 871.4,432.5 871.8,432.7 872.1,432.9 872.4,433.3 872.8,433.7 873.1,434.0 873.4,434.6 873.8,435.0 874.1,435.1 874.2,435.4 874.4,435.6 874.8,435.4 875.1,435.4 875.4,435.7 875.8,436.1 876.1,435.6 876.4,435.8 876.8,435.9 877.1,436.4 877.4,435.7 877.8,436.4 878.1,436.7 878.4,436.3 878.8,437.0 879.1,436.8 879.4,436.6 879.8,436.8 880.1,436.4 880.4,436.7 880.8,437.4 881.1,436.7 881.4,437.4 881.8,436.9 882.1,437.2 882.4,437.0 882.8,436.4 883.1,436.9 883.4,437.2 883.8,436.9 884.1,436.8 884.4,437.3 884.8,437.1 885.1,436.7 885.4,437.0 885.8,437.5 885.8,437.1 886.1,437.6 886.4,437.8 886.8,437.4 887.1,437.1 887.4,437.1 887.8,437.5 888.1,437.8 888.4,437.7 888.8,437.7 889.1,437.4 889.4,437.6 889.8,437.3 890.1,437.3 890.4,437.0 890.8,437.0 891.1,437.4 891.4,437.3 891.8,437.4 892.1,438.0 892.4,437.9 892.8,438.9 893.1,438.3 893.4,437.9 893.8,438.3 894.1,438.2 894.4,437.9 894.8,438.4 895.1,437.9 895.4,437.2 895.8,438.3 896.1,437.8 896.4,438.4 896.8,437.8 897.1,437.7 897.4,438.5 897.8,437.7 898.1,438.1 898.4,438.5 898.8,438.1 899.1,438.1 899.4,438.2 899.8,438.4 900.1,438.0 900.4,438.4 900.8,438.4 901.1,438.9 901.4,438.1 901.8,437.9 902.1,438.4 902.4,438.0 902.8,438.3 903.1,438.2 903.4,438.6 903.8,438.0 904.1,438.2 904.3,437.5 904.4,438.0 904.8,438.7 905.1,438.0 905.4,438.0 905.8,437.8 906.1,438.2 906.4,438.1 906.8,437.6 907.1,438.1 907.4,438.0 907.8,438.1 908.1,437.8 908.4,438.5 908.8,438.1 909.1,438.0 909.4,437.9 909.8,437.9 910.1,438.2 910.4,437.9 910.8,438.2 911.1,438.0 911.4,438.1 911.8,437.9 912.1,437.5 912.1,436.9 912.4,437.4 912.8,437.4 913.1,437.0 913.4,437.0 913.8,436.6 914.1,436.4 914.4,436.1 914.8,436.3 915.1,435.8 915.4,435.4 915.8,434.9 915.9,435.0 916.1,435.0 916.4,434.1 916.8,432.9 917.1,432.0 917.4,430.7 917.5,430.5 917.8,429.0 918.1,426.8 918.4,424.4 918.8,422.5 919.1,421.2 919.2,421.8 919.4,422.4 919.8,425.6 920.1,429.2 920.4,432.8 920.5,433.7 920.8,434.9 921.1,436.9 921.4,438.4 921.6,438.8 921.8,438.5 922.1,438.7 922.4,439.1 922.8,439.3 923.1,439.1 923.4,439.2 923.8,439.3 924.1,439.7 924.4,439.2 924.8,439.2 925.1,439.6 925.4,439.3 925.8,439.5 926.1,439.8 926.4,440.0 926.8,439.6 927.1,440.2 927.4,439.4 927.8,440.1 928.1,439.5 928.4,439.6 928.8,440.1 929.0,439.8 929.1,439.7 929.4,439.8 929.8,440.1 930.1,439.9 930.4,439.8 930.8,440.1 931.1,439.5 931.4,439.6 931.8,439.5 932.1,440.0 932.4,440.0 932.8,440.1 933.1,439.7 933.4,439.7 933.8,440.0 934.1,439.7 934.4,440.0 934.8,440.0 935.1,439.5 935.4,439.7 935.8,439.7 936.1,440.3 936.4,440.5 936.8,439.8 937.1,439.9 937.4,439.2 937.8,440.0 938.1,440.0 938.4,439.7 938.8,440.3 939.1,439.6 939.4,440.0 939.8,440.1 940.1,439.6 940.4,440.2 940.8,440.2 941.1,439.5 941.4,439.5 941.8,440.1 942.1,439.9 942.4,439.6 942.8,439.9 943.1,440.0 943.4,440.0 943.8,440.3 944.1,440.2 944.4,440.7 944.5,440.6 944.8,440.4 945.1,440.6 945.4,440.6 945.8,440.4 946.1,439.8 946.4,440.4 946.8,440.1 947.1,440.5 947.4,440.0 947.8,440.1 948.1,440.0 948.4,440.3 948.8,439.8 949.1,439.7 949.4,439.8 949.8,439.5 950.1,439.6 950.4,439.5 950.8,439.5 951.1,439.8 951.4,439.1 951.8,439.1 952.1,439.0 952.2,439.2 952.4,438.7 952.8,438.5 953.1,438.2 953.4,437.7 953.8,436.9 954.1,436.1 954.4,435.3 954.5,435.2 954.8,434.7 955.1,433.3 955.4,431.8 955.8,430.6 956.1,429.6 956.2,429.6 956.4,429.9 956.8,431.5 957.1,433.7 957.4,435.9 957.8,437.8 957.9,438.5 958.1,438.4 958.4,439.0 958.8,439.4 959.1,439.9 959.4,439.6 959.8,440.6 959.9,440.1 960.1,440.6 960.4,440.3 960.8,440.1 961.1,440.1 961.4,440.2 961.8,439.6 962.1,439.6 962.4,439.4 962.8,439.0 963.1,439.6 963.4,439.3 963.8,438.9 963.8,439.2 964.1,438.5 964.4,438.1 964.8,437.5 965.1,436.5 965.4,435.0 965.8,434.0 965.8,434.2 966.1,433.7 966.4,432.5 966.8,431.6 967.1,430.9 967.4,430.0 967.7,430.1 967.8,430.3 968.1,431.7 968.4,434.1 968.8,436.7 969.1,438.7 969.2,439.0 969.4,439.6 969.8,440.4 970.1,440.3 970.4,440.3 970.8,441.0 971.1,441.4 971.4,441.6 971.5,441.6 971.8,440.9 972.1,440.9 972.4,441.4 972.8,440.6 973.1,441.3 973.4,440.9 973.8,441.2 974.1,441.2 974.4,441.3 974.8,441.3 975.1,440.8 975.4,441.2 975.8,441.1 976.1,441.1 976.4,441.3 976.8,440.9 977.1,440.7 977.4,440.7 977.8,440.8 978.1,441.0 978.4,440.6 978.8,441.2 979.1,440.9 979.4,440.8 979.8,440.5 980.1,441.0 980.4,441.1 980.8,440.4 981.1,441.1 981.4,441.2 981.6,440.8 981.8,440.8 982.1,441.2 982.4,440.7 982.8,440.1 983.1,440.1 983.4,440.0 983.8,439.8 984.1,439.0 984.4,439.7 984.8,439.1 985.1,439.2 985.4,439.0 985.8,439.1 986.1,438.7 986.4,438.5 986.8,438.8 987.1,439.0 987.4,438.5 987.8,439.1 987.8,438.8 988.1,438.6 988.4,439.2 988.8,438.6 989.1,439.2 989.4,439.0 989.8,439.4 990.1,439.2 990.4,439.6 990.8,440.3 991.1,440.4 991.4,440.7 991.8,440.9 992.1,441.3 992.4,441.1 992.8,441.3 993.1,441.6 993.4,441.5 993.8,441.5 993.9,441.6 994.1,441.5 994.4,441.4 994.8,442.0 995.1,441.8 995.4,441.8 995.8,441.4 996.1,441.3 996.4,441.0 996.8,441.2 997.1,440.7 997.4,441.1 997.8,441.3 998.1,441.5 998.4,441.2 998.8,440.7 999.1,441.0 999.4,440.5 999.8,440.8 1000.1,440.4 1000.4,440.5 1000.8,440.8 1001.1,440.2 1001.4,440.4 1001.7,439.8 1001.8,439.6 1002.1,439.8 1002.4,439.8 1002.8,439.0 1003.1,439.0 1003.4,438.5 1003.8,438.6 1004.1,438.7 1004.4,438.2 1004.8,437.8 1005.1,437.4 1005.4,437.4 1005.8,437.0 1006.1,436.4 1006.3,436.0 1006.4,435.4 1006.8,433.3 1007.1,429.7 1007.4,425.7 1007.8,422.0 1007.8,421.1 1008.1,418.6 1008.4,414.7 1008.8,410.9 1009.1,407.9 1009.4,406.2 1009.5,405.4 1009.8,406.9 1010.1,411.0 1010.4,416.9 1010.8,423.3 1011.1,428.7 1011.2,430.5 1011.4,432.4 1011.8,435.7 1012.1,438.2 1012.4,440.1 1012.5,439.2 1012.8,439.9 1013.1,440.7 1013.4,440.4 1013.8,440.7 1014.1,440.5 1014.4,441.2 1014.8,440.6 1015.1,441.1 1015.4,441.1 1015.8,440.8 1016.1,441.4 1016.4,440.8 1016.8,441.0 1017.1,441.3 1017.4,441.2 1017.8,441.5 1018.1,441.7 1018.4,441.3 1018.7,441.2 1018.8,441.3 1019.1,441.4 1019.4,441.7 1019.8,441.5 1020.1,441.7 1020.4,441.6 1020.8,441.4 1021.1,442.0 1021.4,441.5 1021.8,441.9 1022.1,442.4 1022.4,441.7 1022.8,442.0 1023.1,441.5 1023.4,441.7 1023.8,441.3 1024.1,441.5 1024.4,441.3 1024.8,441.3 1025.1,441.6 1025.4,441.2 1025.8,441.2 1026.1,440.9 1026.4,440.8 1026.8,440.6 1027.1,440.3 1027.4,440.8 1027.8,441.2 1028.1,440.9 1028.4,440.6 1028.8,441.2 1029.1,440.7 1029.4,440.6 1029.5,440.5 1029.8,440.5 1030.1,440.6 1030.4,441.0 1030.8,440.2 1031.1,439.7 1031.4,439.5 1031.8,439.3 1032.1,438.6 1032.4,438.6 1032.8,438.3 1033.1,437.8 1033.3,437.5 1033.4,437.0 1033.8,435.9 1034.1,434.5 1034.4,432.3 1034.8,429.7 1035.1,427.5 1035.3,425.9 1035.4,425.4 1035.8,422.7 1036.1,419.8 1036.4,417.4 1036.8,415.9 1036.9,415.7 1037.1,416.2 1037.4,418.9 1037.8,423.1 1038.1,427.2 1038.4,430.5 1038.4,430.6 1038.8,432.8 1039.1,435.1 1039.4,437.1 1039.8,438.6 1040.0,438.5 1040.1,439.0 1040.4,438.9 1040.8,438.6 1041.1,438.8 1041.4,438.1 1041.8,438.3 1042.1,437.6 1042.4,437.4 1042.6,437.2 1042.8,437.3 1043.1,435.7 1043.4,433.7 1043.8,431.3 1044.1,429.4 1044.1,429.1 1044.4,427.3 1044.8,425.2 1045.1,423.2 1045.4,422.5 1045.5,422.1 1045.8,422.4 1046.1,424.9 1046.4,428.1 1046.8,431.6 1047.1,434.3 1047.2,435.0 1047.4,435.9 1047.8,437.0 1048.1,438.4 1048.4,439.1 1048.8,439.1 1048.8,439.1 1049.1,439.5 1049.4,439.3 1049.8,439.9 1050.1,440.1 1050.4,440.0 1050.8,440.2 1051.1,440.6 1051.4,441.0 1051.8,441.2 1052.1,440.9 1052.4,441.2 1052.8,440.9 1053.1,441.2 1053.4,440.9 1053.8,441.4 1054.1,440.9 1054.4,441.0 1054.8,441.3 1055.1,441.5 1055.4,440.9 1055.7,441.2 1055.8,441.3 1056.1,441.4 1056.4,441.0 1056.8,441.3 1057.1,441.2 1057.4,441.7 1057.8,441.5 1058.1,441.0 1058.4,440.8 1058.8,441.6 1059.1,441.9 1059.4,441.7 1059.8,441.9 1060.1,441.4 1060.4,441.1 1060.8,441.7 1061.1,441.4 1061.4,441.4 1061.8,440.7 1062.1,441.0 1062.4,440.7 1062.8,441.1 1063.1,440.6 1063.4,440.6 1063.8,440.6 1064.1,441.1 1064.4,440.8 1064.8,440.5 1065.1,440.4 1065.4,440.3 1065.8,440.9 1066.1,439.9 1066.4,440.1 1066.8,440.5 1067.1,440.5 1067.4,440.0 1067.8,440.2 1068.1,440.1 1068.1,440.1 1068.4,439.8 1068.8,440.2 1069.1,439.8 1069.4,440.2 1069.8,439.4 1070.1,439.9 1070.4,439.2 1070.8,439.0 1071.1,439.4 1071.4,438.9 1071.8,439.0 1072.1,438.5 1072.4,438.9 1072.8,438.3 1073.1,437.8 1073.4,437.9 1073.8,437.8 1074.1,437.2 1074.3,437.3 1074.4,437.5 1074.8,436.8 1075.1,436.0 1075.4,435.0 1075.8,434.1 1076.1,432.7 1076.4,431.4 1076.6,431.2 1076.8,430.5 1077.1,429.1 1077.4,427.2 1077.8,425.6 1078.1,424.7 1078.1,425.1 1078.4,425.8 1078.8,428.1 1079.1,431.3 1079.4,434.3 1079.8,436.5 1079.8,436.8 1080.1,437.8 1080.4,438.8 1080.8,439.1 1081.1,440.5 1081.4,440.6 1081.8,441.2 1082.0,440.7 1082.1,441.0 1082.4,441.0 1082.8,441.0 1083.1,441.2 1083.4,441.1 1083.8,440.6 1084.1,440.9 1084.4,441.1 1084.8,441.1 1085.1,440.7 1085.4,440.7 1085.8,440.7 1086.1,440.4 1086.4,440.3 1086.8,441.1 1087.1,440.5 1087.4,440.6 1087.8,440.3 1088.1,440.9 1088.4,441.0 1088.8,440.5 1089.1,440.6 1089.4,440.1 1089.7,440.7 1089.8,440.4 1090.1,439.7 1090.4,440.2 1090.8,439.9 1091.1,439.9 1091.4,439.9 1091.8,439.6 1092.1,439.6 1092.4,439.9 1092.8,439.6 1093.1,439.3 1093.4,439.9 1093.8,439.2 1094.1,438.9 1094.4,438.8 1094.8,438.9 1095.1,438.8 1095.4,438.4 1095.8,438.3 1096.1,437.5 1096.4,437.5 1096.7,437.3 1096.8,437.3 1097.1,436.9 1097.4,435.7 1097.8,435.2 1098.1,433.4 1098.4,432.0 1098.8,430.4 1099.0,429.1 1099.1,428.4 1099.4,424.9 1099.8,420.5 1100.1,415.8 1100.4,411.6 1100.8,408.7 1101.0,407.5 1101.1,408.4 1101.4,410.8 1101.8,415.6 1102.1,421.4 1102.4,427.1 1102.8,431.2 1102.9,432.0 1103.1,433.7 1103.4,435.9 1103.8,437.8 1104.1,438.9 1104.4,439.3 1104.4,439.5 1104.8,439.4 1105.1,439.5 1105.4,440.3 1105.8,440.1 1106.1,440.4 1106.4,440.7 1106.8,440.4 1107.1,441.0 1107.4,441.1 1107.8,441.0 1108.1,441.2 1108.4,440.9 1108.8,440.5 1109.1,441.1 1109.4,440.9 1109.8,441.5 1110.1,441.3 1110.4,441.1 1110.8,441.3 1111.1,441.7 1111.3,441.6 1111.4,441.4 1111.8,441.5 1112.1,441.3 1112.4,441.4 1112.8,441.6 1113.1,441.4 1113.4,441.5 1113.8,441.1 1114.1,440.9 1114.4,440.8 1114.8,441.1 1115.1,441.6 1115.4,441.5 1115.8,440.8 1116.1,440.7 1116.4,441.5 1116.8,441.4 1117.1,441.0 1117.4,441.8 1117.8,441.6 1118.1,441.9 1118.4,441.7 1118.8,441.9 1119.1,441.7 1119.4,441.3 1119.8,441.6 1120.1,441.4 1120.4,441.9 1120.8,441.3 1121.1,441.1 1121.4,441.8 1121.8,441.9 1122.1,441.9 1122.4,441.8 1122.4,441.0 1122.8,441.2 1123.1,441.3 1123.4,441.4 1123.8,440.8 1124.1,441.4 1124.4,441.4 1124.8,441.1 1125.1,441.4 1125.4,441.7 1125.8,441.3 1126.1,441.6 1126.4,441.5 1126.8,441.3 1127.1,441.3 1127.4,441.0 1127.8,441.4 1128.1,440.9 1128.4,440.7 1128.8,441.0 1129.1,440.4 1129.4,440.6 1129.8,440.7 1130.1,440.3 1130.4,440.3 1130.8,440.5 1131.1,440.4 1131.4,439.7 1131.8,439.8 1132.1,440.4 1132.4,440.1 1132.8,439.3 1133.1,439.4 1133.2,439.7 1133.4,439.3 1133.8,438.6 1134.1,437.4 1134.4,436.1 1134.7,435.0 1134.8,435.1 1135.1,434.2 1135.4,432.8 1135.8,432.1 1136.1,431.5 1136.3,431.4 1136.4,431.4 1136.8,432.5 1137.1,434.5 1137.4,436.6 1137.8,438.2 1137.8,438.4 1138.1,439.1 1138.4,439.9 1138.8,440.4 1139.1,440.6 1139.4,441.1 1139.4,441.3 1139.8,441.2 1140.1,440.7 1140.4,441.0 1140.8,440.7 1141.1,441.1 1141.4,440.7 1141.8,440.8 1142.1,440.9 1142.4,440.7 1142.8,441.0 1143.1,440.3 1143.4,439.9 1143.8,440.7 1144.1,440.8 1144.4,440.7 1144.8,440.3 1145.1,440.3 1145.4,440.2 1145.8,439.8 1146.1,440.0 1146.4,440.3 1146.8,439.9 1147.1,440.5 1147.1,439.6 1147.4,439.8 1147.8,440.1 1148.1,439.6 1148.4,439.4 1148.8,439.2 1149.1,439.3 1149.4,439.8 1149.8,439.4 1150.1,439.3 1150.4,438.8 1150.8,438.9 1151.1,438.5 1151.4,438.0 1151.8,437.8 1152.1,437.7 1152.4,437.7 1152.5,437.4 1152.8,436.9 1153.1,435.7 1153.4,433.5 1153.8,431.1 1154.1,428.8 1154.4,426.4 1154.5,425.9 1154.8,423.9 1155.1,420.6 1155.4,417.3 1155.8,414.3 1156.1,412.4 1156.3,411.6 1156.4,411.7 1156.8,413.9 1157.1,417.8 1157.4,422.5 1157.8,426.3 1157.9,427.3 1158.1,428.7 1158.4,430.7 1158.8,431.5 1158.8,431.6 1159.1,431.3 1159.4,429.0 1159.7,425.9 1159.8,425.8 1160.1,418.7 1160.4,407.3 1160.8,394.7 1161.0,387.2 1161.1,384.0 1161.4,372.5 1161.8,360.7 1162.1,351.1 1162.4,345.9 1162.5,345.4 1162.8,347.1 1163.1,354.1 1163.4,364.6 1163.8,376.6 1164.1,387.2 1164.1,387.7 1164.4,400.6 1164.8,415.0 1165.1,426.6 1165.3,430.6 1165.4,431.5 1165.8,433.9 1166.1,435.8 1166.4,436.9 1166.8,437.6 1166.9,437.8 1167.1,438.0 1167.4,438.6 1167.8,438.5 1168.1,439.1 1168.4,438.8 1168.8,439.2 1169.1,439.6 1169.4,440.1 1169.8,439.8 1170.1,439.6 1170.4,440.5 1170.8,440.5 1171.1,440.3 1171.4,440.4 1171.8,440.5 1171.8,440.7 1172.1,440.9 1172.4,440.3 1172.8,441.4 1173.1,440.8 1173.4,440.7 1173.8,441.0 1174.1,440.9 1174.4,441.6 1174.8,441.3 1175.1,440.9 1175.4,440.9 1175.8,440.9 1176.1,440.9 1176.4,441.2 1176.8,440.8 1177.1,441.5 1177.4,441.1 1177.8,441.1 1178.1,441.5 1178.4,440.7 1178.8,441.0 1179.1,441.5 1179.4,441.4 1179.8,441.4 1180.1,441.5 1180.4,441.2 1180.8,441.3 1181.1,441.0 1181.4,440.9 1181.8,441.9 1182.1,441.2 1182.4,441.3 1182.6,441.9 1182.8,441.8 1183.1,441.2 1183.4,441.1 1183.8,441.0 1184.1,440.6 1184.4,440.7 1184.8,440.4 1185.1,440.1 1185.4,440.0 1185.7,439.8 1185.8,440.0 1186.1,439.6 1186.4,438.5 1186.8,438.4 1187.1,437.5 1187.4,437.1 1187.7,437.4 1187.8,437.0 1188.1,437.6 1188.4,438.7 1188.8,439.4 1189.1,440.2 1189.4,440.9 1189.6,441.2 1189.8,441.0 1190.1,440.4 1190.4,440.7 1190.8,440.8 1191.1,441.5 1191.4,441.2 1191.8,441.2 1192.1,441.3 1192.4,440.9 1192.8,441.1 1193.1,441.0 1193.4,440.5 1193.8,440.7 1194.1,440.9 1194.4,440.3 1194.8,440.9 1195.1,440.8 1195.4,440.9 1195.8,440.3 1196.1,440.5 1196.4,440.9 1196.5,440.7 1196.8,440.2 1197.1,440.5 1197.4,440.8 1197.8,440.3 1198.1,440.3 1198.4,440.9 1198.8,440.1 1199.1,440.0 1199.4,439.6 1199.8,439.6 1200.1,439.9 1200.4,439.3 1200.8,438.9 1201.1,438.7 1201.4,438.7 1201.8,438.6 1201.9,438.1 1202.1,438.1 1202.4,436.9 1202.8,435.3 1203.1,433.3 1203.4,431.0 1203.8,428.6 1203.9,427.4 1204.1,426.3 1204.4,422.9 1204.8,419.2 1205.1,415.6 1205.4,412.9 1205.8,411.5 1205.8,411.5 1206.1,412.7 1206.4,415.8 1206.8,420.1 1207.1,424.7 1207.4,428.7 1207.6,430.4 1207.8,431.3 1208.1,433.3 1208.4,435.6 1208.8,437.1 1209.1,438.2 1209.2,438.0 1209.4,438.5 1209.8,438.9 1210.1,439.3 1210.4,439.1 1210.8,439.9 1211.1,439.8 1211.4,439.9 1211.8,440.4 1212.1,440.4 1212.4,440.5 1212.8,440.5 1213.1,440.9 1213.4,440.9 1213.8,440.9 1214.1,440.7 1214.4,440.8 1214.8,441.1 1215.1,441.3 1215.1,440.9 1215.4,441.3 1215.8,440.9 1216.1,440.6 1216.4,441.2 1216.8,440.8 1217.1,441.2 1217.4,441.5 1217.8,441.1 1218.1,441.1 1218.4,441.9 1218.8,441.2 1219.1,441.2 1219.4,441.3 1219.8,441.0 1220.1,441.0 1220.4,441.1 1220.8,440.3 1221.1,441.4 1221.4,440.6 1221.8,440.6 1222.1,441.0 1222.4,440.8 1222.8,440.3 1223.1,440.7 1223.4,440.2 1223.8,440.3 1224.1,440.0 1224.3,440.1 1224.4,440.4 1224.8,440.3 1225.1,440.3 1225.4,440.4 1225.8,440.1 1226.1,439.9 1226.4,439.9 1226.8,440.4 1227.1,440.0 1227.4,440.0 1227.8,439.8 1228.1,439.8 1228.4,439.7 1228.8,439.4 1229.1,439.2 1229.4,438.9 1229.8,438.7 1230.1,438.7 1230.4,438.6 1230.5,438.6 1230.8,438.0 1231.1,437.2 1231.4,436.4 1231.8,435.2 1232.1,433.6 1232.4,432.4 1232.8,430.9 1232.8,430.7 1233.1,428.9 1233.4,426.3 1233.8,423.7 1234.1,421.2 1234.4,419.9 1234.5,419.7 1234.8,420.4 1235.1,422.3 1235.4,425.3 1235.8,428.6 1236.1,431.7 1236.4,433.7 1236.4,433.9 1236.8,436.0 1237.1,437.9 1237.4,439.6 1237.8,440.1 1237.9,440.5 1238.1,440.0 1238.4,440.4 1238.8,440.3 1239.1,439.9 1239.4,440.3 1239.8,440.6 1240.1,440.4 1240.4,440.4 1240.8,440.0 1241.1,440.0 1241.4,439.9 1241.8,440.3 1242.1,440.6 1242.4,440.3 1242.8,440.1 1242.9,439.8 1243.1,440.2 1243.4,439.9 1243.8,439.4 1244.1,439.3 1244.4,439.5 1244.8,439.2 1245.1,439.6 1245.4,439.0 1245.8,438.5 1246.1,438.3 1246.4,438.4 1246.8,437.5 1247.1,437.4 1247.4,436.9 1247.5,437.0 1247.8,436.0 1248.1,433.8 1248.4,430.9 1248.8,427.2 1249.1,423.3 1249.4,419.2 1249.5,418.3 1249.8,414.6 1250.1,408.2 1250.4,401.0 1250.8,394.2 1251.1,388.9 1251.4,386.2 1251.5,386.3 1251.8,387.2 1252.1,392.3 1252.4,400.0 1252.8,408.4 1253.1,416.3 1253.4,421.3 1253.4,422.0 1253.8,426.7 1254.1,431.5 1254.4,435.4 1254.8,437.8 1254.9,438.1 1255.1,438.7 1255.4,438.6 1255.8,439.1 1256.1,439.5 1256.4,439.7 1256.8,440.2 1257.1,440.4 1257.4,440.4 1257.8,440.9 1258.1,440.5 1258.4,440.7 1258.8,441.3 1259.1,440.9 1259.4,441.1 1259.8,440.7 1259.9,440.7 1260.1,440.8 1260.4,440.9 1260.8,440.8 1261.1,441.0 1261.4,441.2 1261.8,441.4 1262.1,441.2 1262.4,441.4 1262.8,441.5 1263.1,440.9 1263.4,440.8 1263.8,441.7 1264.1,441.6 1264.4,441.2 1264.8,441.2 1265.1,440.8 1265.4,440.7 1265.8,441.2 1266.1,440.6 1266.4,441.4 1266.8,440.9 1267.1,441.2 1267.4,441.7 1267.8,441.7 1268.1,441.0 1268.4,441.4 1268.8,440.8 1269.1,440.9 1269.1,441.2 1269.4,441.5 1269.8,441.0 1270.1,441.3 1270.4,441.2 1270.8,440.8 1271.1,441.1 1271.4,441.4 1271.8,440.9 1272.1,440.9 1272.4,440.8 1272.8,440.2 1273.1,440.4 1273.4,440.3 1273.8,440.0 1274.1,439.7 1274.4,439.0 1274.5,438.9 1274.8,438.6 1275.1,437.6 1275.4,436.2 1275.8,434.7 1276.1,433.0 1276.4,431.1 1276.5,430.7 1276.8,429.4 1277.1,427.5 1277.4,425.3 1277.8,423.5 1278.1,422.6 1278.2,422.5 1278.4,422.7 1278.8,424.6 1279.1,427.6 1279.4,431.0 1279.8,433.9 1279.9,435.1 1280.1,435.7 1280.4,437.6 1280.8,439.2 1281.1,440.5 1281.4,441.2 1281.5,441.0 1281.8,440.7 1282.1,440.4 1282.4,440.9 1282.8,441.2 1283.1,441.2 1283.4,440.0 1283.8,440.3 1284.1,440.3 1284.4,440.0 1284.8,440.1 1285.1,439.9 1285.4,439.7 1285.8,439.7 1286.1,439.2 1286.1,439.4 1286.4,439.4 1286.8,439.8 1287.1,439.1 1287.4,439.4 1287.8,439.6 1288.1,439.2 1288.4,439.2 1288.8,438.7 1289.1,438.6 1289.4,438.4 1289.8,438.3 1290.0,437.6 1290.1,437.4 1290.4,435.3 1290.8,432.1 1291.1,428.2 1291.4,424.1 1291.7,421.3 1291.8,420.5 1292.1,416.4 1292.4,412.0 1292.8,407.9 1293.1,405.8 1293.2,405.2 1293.4,405.9 1293.8,408.8 1294.1,413.4 1294.4,418.6 1294.8,423.6 1295.1,427.3 1295.1,427.4 1295.4,430.3 1295.8,433.2 1296.1,435.7 1296.4,437.7 1296.8,438.9 1296.9,439.6 1297.1,439.8 1297.4,440.2 1297.8,440.7 1298.1,440.6 1298.4,440.9 1298.8,440.6 1299.1,441.5 1299.4,441.5 1299.8,441.5 1300.1,441.9 1300.4,441.6 1300.8,441.8 1301.1,442.6 1301.4,442.2 1301.6,442.3 1301.8,442.2 1302.1,442.2 1302.4,442.1 1302.8,442.8 1303.1,442.2 1303.4,442.5 1303.8,442.2 1304.1,442.2 1304.4,441.5 1304.8,441.6 1305.1,442.6 1305.4,442.5 1305.8,441.9 1306.1,442.0 1306.4,442.1 1306.8,441.6 1307.1,442.4 1307.4,441.5 1307.8,441.7 1308.1,441.1 1308.4,442.4 1308.8,442.1 1309.1,442.6 1309.4,441.9 1309.8,442.4 1310.1,442.3 1310.4,442.4 1310.8,442.9 1311.1,443.0 1311.4,442.7 1311.8,442.1 1312.1,442.5 1312.4,442.6 1312.4,442.3 1312.8,442.2 1313.1,442.1 1313.4,441.5 1313.8,441.6 1314.1,441.6 1314.4,440.7 1314.8,440.5 1315.1,440.2 1315.4,439.3 1315.8,439.0 1315.8,438.7 1316.1,438.1 1316.4,436.6 1316.8,434.9 1317.1,433.2 1317.3,432.0 1317.4,431.6 1317.8,429.6 1318.1,428.0 1318.4,426.4 1318.7,425.6 1318.8,425.7 1319.1,426.9 1319.4,429.1 1319.8,431.9 1320.1,434.6 1320.4,436.7 1320.4,436.6 1320.8,438.2 1321.1,439.6 1321.4,440.7 1321.8,441.8 1322.0,441.7 1322.1,441.4 1322.4,441.8 1322.8,441.7 1323.1,441.7 1323.4,441.7 1323.8,442.3 1324.1,441.7 1324.4,441.7 1324.8,441.4 1325.1,441.9 1325.4,441.4 1325.8,441.2 1326.1,441.1 1326.4,441.6 1326.8,441.7 1327.1,441.0 1327.4,441.3 1327.8,441.7 1328.1,441.9 1328.4,441.2 1328.8,441.4 1329.1,441.7 1329.4,441.3 1329.4,441.2 1329.8,441.1 1330.1,440.7 1330.4,440.9 1330.8,440.7 1331.1,440.1 1331.4,440.1 1331.8,440.1 1332.1,439.5 1332.4,439.4 1332.8,438.7 1333.1,438.8 1333.2,438.3 1333.4,438.7 1333.8,437.9 1334.1,437.5 1334.4,437.1 1334.8,436.7 1335.1,436.1 1335.4,435.4 1335.6,435.1 1335.8,434.2 1336.1,430.7 1336.4,426.1 1336.8,421.7 1336.8,421.2 1337.1,417.4 1337.4,412.5 1337.8,408.9 1338.0,407.0 1338.1,407.3 1338.4,409.6 1338.8,413.5 1339.1,418.5 1339.4,423.4 1339.8,427.8 1339.9,429.0 1340.1,430.7 1340.4,433.3 1340.8,436.0 1341.1,438.1 1341.4,439.7 1341.7,441.1 1341.8,440.8 1342.1,440.6 1342.4,440.9 1342.8,441.5 1343.1,441.5 1343.4,442.0 1343.8,441.8 1344.1,442.1 1344.4,442.3 1344.8,442.1 1345.1,442.0 1345.4,442.3 1345.8,442.5 1346.1,442.6 1346.4,442.7 1346.4,442.6 1346.8,442.7 1347.1,442.3 1347.4,442.9 1347.8,443.0 1348.1,442.5 1348.4,442.5 1348.8,442.8 1349.1,442.7 1349.4,442.5 1349.8,442.4 1350.1,442.2 1350.4,442.0 1350.8,442.5 1351.1,442.5 1351.4,441.8 1351.8,442.0 1352.1,442.0 1352.4,441.8 1352.8,441.6 1353.1,441.7 1353.3,441.2 1353.4,441.6 1353.8,441.4 1354.1,441.5 1354.4,440.7 1354.8,439.9 1355.1,439.3 1355.4,439.0 1355.6,438.5 1355.8,438.0 1356.1,436.9 1356.4,435.6 1356.8,435.0 1356.9,435.1 1357.1,435.1 1357.4,436.5 1357.8,437.7 1358.1,439.5 1358.4,440.9 1358.7,441.7 1358.8,442.0 1359.1,441.3 1359.4,441.5 1359.8,441.8 1360.1,441.9 1360.4,441.8 1360.8,441.8 1361.1,442.3 1361.4,441.8 1361.8,442.0 1362.1,442.6 1362.4,442.8 1362.8,442.6 1363.1,442.1 1363.4,442.0 1363.4,442.0 1363.8,441.8 1364.1,441.9 1364.4,442.2 1364.8,441.7 1365.1,441.3 1365.4,441.1 1365.8,440.8 1366.1,441.1 1366.4,440.2 1366.8,440.4 1367.1,439.7 1367.2,439.7 1367.4,439.2 1367.8,438.3 1368.1,436.4 1368.4,434.5 1368.8,431.9 1369.1,429.7 1369.2,429.0 1369.4,427.9 1369.8,425.4 1370.1,422.8 1370.4,421.0 1370.8,419.6 1370.9,419.3 1371.1,419.4 1371.4,421.6 1371.8,424.8 1372.1,428.6 1372.4,431.9 1372.6,433.6 1372.8,434.1 1373.1,436.0 1373.4,437.9 1373.8,439.3 1374.1,440.4 1374.4,441.0 1374.5,441.4 1374.8,441.2 1375.1,441.7 1375.4,442.3 1375.8,442.1 1376.1,441.9 1376.4,442.0 1376.8,442.5 1377.1,442.3 1377.4,442.3 1377.8,442.6 1378.1,442.6 1378.4,443.2 1378.8,442.6 1379.1,443.5 1379.4,442.8 1379.8,443.1 1380.1,443.3 1380.4,443.2 1380.4,443.4 1380.8,442.9 1381.1,442.6 1381.4,443.2 1381.8,442.8 1382.1,443.1 1382.4,443.5 1382.8,443.1 1383.1,442.9 1383.4,442.7 1383.8,443.0 1384.1,443.0 1384.4,442.5 1384.8,443.0 1385.1,442.6 1385.4,443.0 1385.8,442.7 1386.1,443.1 1386.4,443.1 1386.8,442.8 1387.1,442.8 1387.4,443.0 1387.8,443.4 1388.1,443.3 1388.1,443.1 1388.4,443.2 1388.8,443.5 1389.1,442.5 1389.4,443.0 1389.8,442.5 1390.1,443.0 1390.4,442.4 1390.8,442.3 1391.1,441.9 1391.4,442.1 1391.8,442.3 1392.1,442.5 1392.4,441.7 1392.8,442.0 1393.1,443.3 1393.4,442.4 1393.5,442.2 1393.8,442.3 1394.1,441.4 1394.4,442.7 1394.8,442.3 1395.1,441.9 1395.4,442.7 1395.8,442.3 1396.1,442.2 1396.4,442.7 1396.8,442.7 1397.1,442.5 1397.4,442.6 1397.8,442.2 1398.1,442.1 1398.4,442.8 1398.8,442.9 1398.9,442.7 1399.1,442.7 1399.4,442.5 1399.8,442.5 1400.1,442.3 1400.4,443.0 1400.8,442.4 1401.1,442.6 1401.4,442.4 1401.8,441.9 1402.1,442.6 1402.4,441.8 1402.8,441.6 1403.1,441.6 1403.4,441.2 1403.5,441.4 1403.8,440.9 1404.1,439.8 1404.4,438.0 1404.8,435.7 1405.1,433.9 1405.4,432.2 1405.4,431.9 1405.8,430.2 1406.1,428.2 1406.4,426.9 1406.8,425.7 1406.8,426.1 1407.1,426.5 1407.4,428.6 1407.8,431.2 1408.1,434.1 1408.4,436.4 1408.5,436.6 1408.8,437.9 1409.1,439.9 1409.4,441.5 1409.8,442.7 1410.0,443.2 1410.1,443.0 1410.4,443.4 1410.8,442.9 1411.1,442.9 1411.4,443.1 1411.8,443.0 1412.1,442.8 1412.4,442.9 1412.8,442.7 1413.1,442.7 1413.4,443.0 1413.8,443.2 1414.1,442.9 1414.4,443.3 1414.8,443.7 1415.1,443.7 1415.4,443.1 1415.8,443.4 1416.1,443.3 1416.4,443.3 1416.8,443.3 1417.1,443.2 1417.4,443.3 1417.4,443.1 1417.8,443.0 1418.1,443.1 1418.4,443.2 1418.8,443.4 1419.1,443.1 1419.4,443.2 1419.8,443.4 1420.1,442.7 1420.4,442.9 1420.8,443.1 1421.1,442.9 1421.4,442.6 1421.8,443.1 1422.1,442.8 1422.4,442.4 1422.8,443.1 1423.1,442.1 1423.4,442.2 1423.8,441.9 1424.1,442.0 1424.4,441.9 1424.4,441.5 1424.8,441.2 1425.1,440.2 1425.4,438.8 1425.8,437.7 1426.1,436.2 1426.4,435.1 1426.4,435.0 1426.8,433.9 1427.1,432.8 1427.4,431.6 1427.8,431.0 1428.1,429.7 1428.3,429.7 1428.4,430.3 1428.8,431.2 1429.1,433.0 1429.4,434.9 1429.8,436.8 1430.1,438.2 1430.1,438.4 1430.4,439.3 1430.8,440.4 1431.1,441.3 1431.4,442.2 1431.8,442.8 1432.1,442.8 1432.1,442.7 1432.4,442.8 1432.8,443.3 1433.1,442.5 1433.4,443.3 1433.8,443.0 1434.1,443.4 1434.4,443.2 1434.8,442.9 1435.1,443.1 1435.4,442.4 1435.8,443.2 1436.1,443.2 1436.4,442.5 1436.8,443.3 1436.8,443.0 1437.4,443.0"/>
<polyline clip-path="url(#cp1)" fill="none" stroke="#000000" stroke-width="2.8" stroke-linejoin="round" stroke-linecap="round" points="793.1,884.3 793.4,884.5 793.8,884.8 794.1,884.7 794.4,884.6 794.8,884.8 795.1,884.8 795.4,885.0 795.8,884.9 796.1,885.2 796.4,885.3 796.8,885.5 797.1,885.5 797.4,885.6 797.8,885.4 798.1,885.9 798.4,885.5 798.8,885.9 799.1,885.8 799.4,885.8 799.8,885.9 800.1,885.9 800.4,886.1 800.8,886.1 801.1,886.4 801.4,886.1 801.8,886.4 802.1,886.4 802.4,886.7 802.4,886.4 802.8,886.7 803.1,886.8 803.4,886.7 803.8,887.1 804.1,887.1 804.4,887.3 804.8,887.3 805.1,887.1 805.4,887.2 805.8,887.3 806.1,887.4 806.4,887.5 806.8,887.3 807.1,887.4 807.4,887.4 807.8,887.5 808.1,887.6 808.4,887.7 808.8,888.0 809.1,887.8 809.4,887.9 809.8,888.1 810.1,888.0 810.4,888.2 810.8,888.3 811.1,888.4 811.4,888.2 811.8,888.5 812.1,888.3 812.4,888.3 812.8,888.4 813.1,888.4 813.2,888.4 813.4,888.3 813.8,888.2 814.1,888.2 814.4,888.0 814.8,888.1 815.1,887.8 815.4,887.6 815.8,887.8 816.1,887.4 816.4,887.1 816.8,887.2 817.1,886.8 817.4,886.7 817.8,886.3 818.1,886.1 818.4,885.8 818.6,885.7 818.8,885.7 819.1,885.5 819.4,885.3 819.8,885.1 820.1,884.5 820.4,884.2 820.8,883.7 821.1,883.2 821.4,882.7 821.8,882.2 822.1,881.7 822.4,881.2 822.4,881.2 822.8,880.7 823.1,880.3 823.4,879.7 823.8,879.2 824.1,878.6 824.4,877.9 824.8,877.1 825.1,876.3 825.4,875.4 825.5,875.2 825.8,874.4 826.1,873.1 826.4,871.6 826.8,869.8 827.1,867.9 827.4,865.7 827.8,863.4 828.1,860.9 828.4,858.2 828.6,856.5 828.8,855.3 829.1,851.9 829.4,847.8 829.8,843.2 830.1,838.2 830.4,832.7 830.5,831.8 830.8,826.5 831.1,818.8 831.4,810.8 831.7,804.0 831.8,803.1 832.1,796.5 832.4,790.4 832.8,783.7 833.1,775.3 833.3,770.0 833.4,762.3 833.8,735.4 834.1,698.1 834.4,655.7 834.8,613.7 835.1,577.4 835.4,552.2 835.7,543.5 835.8,543.8 836.1,604.9 836.4,712.7 836.7,770.0 836.8,785.7 837.1,826.4 837.1,828.7 837.4,846.4 837.8,859.3 837.9,862.7 838.1,866.4 838.4,871.6 838.8,875.4 839.1,877.9 839.1,878.2 839.4,879.6 839.8,881.0 840.1,882.2 840.4,883.2 840.8,883.9 841.0,884.4 841.1,884.5 841.4,885.1 841.8,885.6 842.1,886.2 842.4,886.5 842.8,886.9 843.1,886.9 843.3,886.5 843.4,886.8 843.8,886.9 844.1,886.6 844.4,886.4 844.8,886.1 845.1,886.0 845.4,885.6 845.8,885.2 846.1,884.8 846.4,884.5 846.4,884.4 846.8,883.7 847.1,883.3 847.4,882.6 847.8,881.8 848.1,881.0 848.4,880.0 848.8,878.9 849.1,878.0 849.4,876.9 849.5,876.6 849.8,875.5 850.1,874.1 850.4,872.3 850.8,870.5 851.1,868.2 851.4,865.8 851.8,863.0 851.8,862.7 852.1,859.8 852.4,855.5 852.8,850.4 853.1,844.5 853.3,839.5 853.4,837.8 853.8,829.3 854.1,818.9 854.4,806.9 854.6,800.9 854.8,792.4 855.1,774.3 855.2,770.0 855.4,762.1 855.8,752.7 856.0,750.8 856.1,751.2 856.4,757.4 856.7,770.0 856.8,771.2 857.1,847.2 857.1,850.7 857.4,871.1 857.7,878.1 857.8,879.7 858.1,884.4 858.4,887.5 858.8,888.9 858.8,888.9 859.1,889.5 859.4,890.1 859.8,890.5 860.1,890.9 860.4,891.2 860.8,891.5 861.1,891.5 861.4,891.7 861.8,892.1 862.1,892.2 862.4,892.2 862.6,892.4 862.8,892.3 863.1,892.6 863.4,892.6 863.8,893.0 864.1,893.1 864.4,893.3 864.8,893.4 865.1,893.4 865.4,893.5 865.8,893.7 866.1,893.7 866.4,893.8 866.8,893.9 867.1,894.1 867.4,894.1 867.8,894.3 868.1,894.1 868.4,894.3 868.8,894.1 869.1,894.3 869.4,894.3 869.8,894.5 870.1,894.4 870.4,894.4 870.8,894.5 871.1,894.5 871.4,894.5 871.8,894.6 872.1,894.5 872.4,895.0 872.8,894.7 873.1,894.8 873.4,894.6 873.4,894.6 873.8,894.8 874.1,894.8 874.4,894.9 874.8,894.8 875.1,895.0 875.4,895.2 875.8,894.9 876.1,895.2 876.4,895.1 876.8,895.3 877.1,895.3 877.4,895.5 877.8,895.3 878.1,895.5 878.4,895.7 878.8,895.5 879.1,895.7 879.4,895.7 879.8,895.7 880.1,895.9 880.4,895.9 880.8,896.1 881.1,895.9 881.4,895.9 881.8,895.8 882.1,895.8 882.4,895.9 882.8,895.6 883.1,896.1 883.4,895.9 883.8,895.9 884.1,896.0 884.4,896.2 884.8,896.2 885.1,896.1 885.4,896.2 885.8,896.2 886.1,896.1 886.4,896.2 886.8,896.2 887.1,896.0 887.4,896.4 887.8,896.1 888.1,896.3 888.4,896.2 888.8,896.2 888.9,896.2 889.1,896.4 889.4,896.2 889.8,896.4 890.1,896.7 890.4,896.5 890.8,896.6 891.1,896.8 891.4,896.7 891.8,896.9 892.1,896.8 892.4,897.0 892.8,896.9 893.1,896.8 893.4,897.1 893.8,896.9 894.1,896.8 894.4,896.8 894.8,896.8 895.1,896.9 895.4,897.0 895.8,897.1 896.1,896.8 896.4,896.9 896.8,897.1 897.1,897.0 897.4,897.1 897.8,897.3 898.1,897.2 898.4,897.2 898.8,897.2 899.1,897.4 899.4,897.3 899.8,897.1 900.1,897.2 900.4,897.0 900.8,897.3 901.1,897.3 901.4,897.2 901.8,897.3 902.1,897.2 902.4,897.5 902.8,897.5 903.1,897.5 903.4,897.6 903.8,897.5 904.1,897.5 904.3,897.4 904.4,897.4 904.8,897.8 905.1,897.5 905.4,897.4 905.8,897.5 906.1,897.0 906.4,897.3 906.8,897.3 907.1,897.2 907.4,897.3 907.8,897.0 908.1,897.2 908.4,897.3 908.8,896.9 909.1,897.0 909.4,897.1 909.8,897.0 910.1,896.9 910.4,897.0 910.8,896.9 911.1,896.7 911.3,896.8 911.4,896.6 911.8,896.4 912.1,896.2 912.4,896.3 912.8,895.9 913.1,895.7 913.4,895.0 913.8,894.6 914.1,894.1 914.4,893.5 914.8,892.9 914.8,892.7 915.1,892.1 915.4,891.0 915.8,889.8 916.1,888.5 916.4,886.9 916.8,885.4 917.0,884.2 917.1,883.8 917.4,881.9 917.8,879.9 918.1,877.8 918.4,876.3 918.8,875.6 918.8,875.3 919.1,876.8 919.4,881.9 919.8,888.0 920.1,892.0 920.1,892.1 920.4,894.3 920.8,896.2 921.1,897.3 921.3,897.6 921.4,897.6 921.8,897.8 922.1,897.8 922.4,897.9 922.8,897.9 923.1,898.0 923.4,897.9 923.8,898.0 924.1,898.2 924.4,897.8 924.8,898.1 925.1,898.2 925.4,897.9 925.8,898.1 926.1,897.9 926.4,898.1 926.8,898.0 927.1,898.1 927.4,897.9 927.8,897.9 928.1,898.0 928.4,898.0 928.8,898.0 929.0,898.1 929.1,898.0 929.4,898.2 929.8,898.3 930.1,898.0 930.4,898.3 930.8,898.3 931.1,898.2 931.4,898.2 931.8,898.3 932.1,898.3 932.4,898.4 932.8,898.3 933.1,898.5 933.4,898.4 933.8,898.6 934.1,898.6 934.4,898.4 934.8,898.6 935.1,898.8 935.4,898.5 935.8,898.6 936.1,898.6 936.4,898.6 936.8,898.6 937.1,898.6 937.4,898.8 937.8,898.8 938.1,898.8 938.4,899.0 938.8,898.9 939.1,898.9 939.4,898.8 939.8,899.1 940.1,899.0 940.4,898.6 940.8,898.8 941.1,898.8 941.4,899.0 941.8,899.1 942.1,898.9 942.4,899.0 942.8,899.1 943.1,898.8 943.4,899.1 943.8,898.9 944.1,899.0 944.4,898.9 944.5,898.8 944.8,898.8 945.1,898.9 945.4,899.0 945.8,899.0 946.1,899.2 946.4,899.0 946.8,898.9 947.1,899.0 947.4,898.9 947.8,898.7 948.1,898.7 948.4,898.5 948.8,898.4 949.1,898.2 949.4,898.0 949.8,898.0 950.1,897.7 950.4,897.7 950.7,897.5 950.8,897.6 951.1,897.3 951.4,897.1 951.8,896.9 952.1,896.6 952.4,896.0 952.8,895.5 953.1,895.0 953.4,894.5 953.5,894.3 953.8,893.8 954.1,892.8 954.4,891.8 954.8,890.8 955.1,889.8 955.4,889.1 955.8,888.9 955.8,888.8 956.1,889.6 956.4,891.6 956.8,894.0 957.1,896.0 957.3,896.7 957.4,896.8 957.8,897.3 958.1,897.9 958.4,898.1 958.8,898.4 959.1,898.4 959.2,898.6 959.4,898.6 959.8,898.7 960.1,898.2 960.4,898.6 960.8,898.2 961.1,898.3 961.4,898.2 961.8,898.0 962.1,898.0 962.4,898.1 962.8,897.9 963.0,897.8 963.1,897.9 963.4,897.8 963.8,897.3 964.1,897.2 964.4,896.7 964.8,896.1 965.1,895.8 965.4,895.7 965.4,895.6 965.8,894.9 966.1,894.2 966.4,893.7 966.8,893.3 967.1,893.0 967.2,892.8 967.4,893.0 967.8,894.2 968.1,895.8 968.4,897.3 968.8,898.3 968.9,898.6 969.1,898.5 969.4,898.6 969.8,898.4 970.1,898.8 970.4,898.8 970.8,898.7 971.1,898.5 971.4,898.7 971.8,898.8 972.1,899.0 972.4,898.9 972.8,898.9 973.1,899.0 973.4,899.1 973.8,898.8 974.1,898.8 974.4,898.8 974.8,898.9 975.1,898.8 975.4,898.9 975.4,898.7 975.8,898.9 976.1,898.8 976.4,899.2 976.8,898.9 977.1,899.3 977.4,899.2 977.8,898.9 978.1,899.1 978.4,899.1 978.8,898.9 979.1,899.1 979.4,899.1 979.8,899.1 980.1,898.9 980.4,899.0 980.8,899.0 981.1,898.9 981.4,898.9 981.8,898.9 982.1,898.9 982.4,899.0 982.8,898.7 983.1,899.1 983.4,898.9 983.8,899.0 984.1,899.0 984.4,898.7 984.8,899.2 985.1,898.8 985.4,899.0 985.8,899.0 986.1,899.1 986.4,899.0 986.8,898.8 987.1,899.1 987.4,898.7 987.8,899.0 988.1,899.0 988.4,899.2 988.8,899.0 989.1,899.0 989.4,899.0 989.8,899.0 990.1,899.0 990.4,899.2 990.8,898.9 991.1,899.1 991.4,899.0 991.8,899.2 992.1,899.2 992.4,899.1 992.8,899.2 993.1,899.2 993.4,899.2 993.8,899.2 994.1,899.0 994.4,898.9 994.8,898.8 995.1,899.1 995.4,899.1 995.8,899.0 996.1,899.2 996.4,899.0 996.8,899.0 997.1,899.2 997.4,898.9 997.8,899.1 998.1,899.1 998.4,899.1 998.6,899.3 998.8,899.0 999.1,899.0 999.4,898.8 999.8,898.8 1000.1,898.8 1000.4,898.7 1000.8,898.6 1001.1,898.6 1001.4,898.3 1001.8,898.0 1002.1,898.0 1002.4,897.8 1002.8,897.5 1003.1,897.3 1003.4,897.3 1003.8,896.9 1004.0,896.8 1004.1,896.6 1004.4,896.2 1004.8,895.6 1005.1,895.0 1005.4,894.2 1005.8,893.2 1006.1,892.3 1006.4,891.1 1006.6,890.6 1006.8,889.8 1007.1,887.7 1007.4,884.6 1007.8,881.3 1008.1,877.9 1008.4,874.9 1008.8,872.5 1009.1,871.2 1009.2,870.8 1009.4,872.1 1009.8,877.1 1010.1,883.9 1010.4,890.0 1010.6,892.0 1010.8,893.0 1011.1,895.0 1011.4,896.7 1011.8,897.9 1012.1,898.5 1012.2,898.4 1012.4,898.5 1012.8,898.7 1013.1,898.7 1013.4,898.5 1013.8,898.6 1014.1,898.9 1014.4,898.9 1014.8,899.0 1015.1,898.7 1015.4,898.8 1015.8,898.9 1016.1,898.9 1016.4,899.1 1016.8,899.1 1017.1,899.2 1017.4,899.2 1017.8,899.3 1018.1,899.3 1018.4,899.2 1018.8,899.1 1019.1,899.4 1019.4,899.3 1019.8,899.3 1020.1,899.3 1020.4,899.1 1020.8,899.4 1021.1,899.3 1021.4,899.2 1021.7,899.5 1021.8,899.3 1022.1,899.3 1022.4,899.3 1022.8,899.4 1023.1,898.9 1023.4,899.0 1023.8,899.2 1024.1,899.0 1024.4,898.7 1024.8,899.1 1025.1,899.1 1025.4,899.1 1025.8,899.0 1026.1,898.8 1026.4,898.9 1026.8,898.8 1027.1,898.7 1027.4,898.8 1027.8,898.8 1028.1,898.6 1028.4,898.8 1028.8,898.7 1029.1,898.7 1029.4,898.2 1029.8,898.5 1030.1,898.4 1030.2,898.3 1030.4,898.4 1030.8,898.0 1031.1,898.2 1031.4,897.9 1031.8,897.5 1032.1,897.4 1032.4,897.0 1032.8,896.6 1033.1,896.1 1033.4,895.8 1033.8,895.3 1033.8,895.2 1034.1,894.4 1034.4,893.3 1034.8,891.8 1035.1,890.1 1035.3,888.9 1035.4,888.5 1035.8,886.6 1036.1,884.6 1036.4,883.3 1036.6,883.2 1036.8,883.5 1037.1,885.8 1037.4,889.2 1037.8,892.7 1038.1,895.1 1038.1,895.1 1038.4,896.2 1038.8,897.3 1039.1,898.0 1039.4,898.6 1039.5,898.5 1039.8,898.4 1040.1,898.3 1040.4,898.4 1040.8,898.3 1041.1,897.9 1041.4,897.9 1041.8,897.7 1042.1,897.4 1042.1,897.4 1042.4,897.1 1042.8,896.6 1043.1,896.0 1043.4,895.2 1043.8,894.7 1043.8,894.5 1044.1,893.8 1044.4,892.8 1044.8,892.1 1045.1,891.8 1045.1,891.9 1045.4,892.9 1045.8,895.1 1046.1,897.3 1046.4,898.6 1046.5,898.5 1046.8,898.6 1047.1,898.9 1047.4,898.8 1047.8,898.8 1048.1,898.8 1048.4,898.9 1048.8,899.0 1049.1,898.9 1049.4,898.8 1049.8,898.9 1050.1,898.8 1050.4,898.9 1050.8,898.9 1051.1,898.9 1051.4,898.6 1051.8,899.1 1052.1,899.0 1052.4,899.2 1052.6,899.3 1052.8,898.9 1053.1,899.0 1053.4,899.1 1053.8,899.3 1054.1,899.1 1054.4,899.2 1054.8,899.3 1055.1,899.1 1055.4,899.3 1055.8,899.4 1056.1,899.2 1056.4,899.3 1056.8,899.1 1057.1,898.9 1057.4,899.0 1057.8,899.0 1058.1,899.0 1058.4,899.0 1058.8,899.1 1059.1,899.1 1059.4,899.1 1059.8,899.1 1060.1,899.1 1060.4,899.1 1060.8,899.1 1061.1,899.3 1061.4,898.9 1061.8,899.2 1062.1,898.9 1062.4,899.1 1062.8,899.2 1063.1,899.1 1063.4,899.3 1063.8,899.1 1064.1,899.2 1064.4,899.1 1064.8,899.2 1065.1,899.2 1065.4,899.1 1065.8,899.2 1066.1,899.2 1066.4,899.1 1066.8,899.0 1067.1,898.9 1067.4,898.9 1067.8,898.8 1068.1,898.8 1068.1,898.9 1068.4,898.7 1068.8,899.0 1069.1,898.8 1069.4,898.7 1069.8,898.7 1070.1,898.8 1070.4,898.7 1070.8,898.6 1071.1,898.6 1071.4,898.6 1071.8,898.1 1072.1,898.2 1072.4,897.9 1072.8,897.7 1073.1,897.6 1073.4,897.6 1073.5,897.4 1073.8,897.2 1074.1,896.9 1074.4,896.2 1074.8,895.3 1075.1,894.5 1075.4,893.4 1075.8,892.2 1075.8,892.0 1076.1,890.7 1076.4,888.5 1076.8,885.9 1077.1,883.4 1077.4,881.4 1077.8,880.2 1077.8,880.3 1078.1,881.3 1078.4,884.1 1078.8,888.0 1079.1,891.6 1079.4,893.6 1079.4,893.9 1079.8,895.3 1080.1,896.8 1080.4,897.7 1080.8,898.4 1080.9,898.7 1081.1,898.7 1081.4,898.5 1081.8,898.7 1082.1,898.9 1082.4,898.9 1082.8,898.7 1083.1,899.1 1083.4,898.7 1083.8,899.0 1084.1,898.9 1084.4,899.0 1084.8,899.0 1085.1,899.1 1085.4,899.0 1085.8,899.2 1086.1,899.3 1086.4,899.2 1086.8,899.2 1087.1,899.2 1087.4,899.0 1087.8,899.0 1088.1,899.0 1088.2,899.1 1088.4,899.3 1088.8,899.3 1089.1,899.0 1089.4,899.0 1089.8,898.9 1090.1,898.7 1090.4,899.1 1090.8,898.9 1091.1,898.5 1091.4,898.7 1091.8,898.8 1092.1,898.6 1092.4,898.5 1092.8,898.4 1093.1,898.1 1093.4,898.0 1093.8,897.9 1094.1,897.8 1094.4,897.6 1094.8,897.6 1095.1,897.6 1095.1,897.4 1095.4,897.3 1095.8,896.9 1096.1,896.4 1096.4,896.2 1096.8,895.5 1097.1,894.9 1097.4,894.0 1097.8,893.1 1098.1,892.4 1098.2,891.8 1098.4,891.1 1098.8,888.7 1099.1,885.5 1099.4,881.8 1099.8,878.2 1100.1,874.8 1100.4,872.4 1100.8,871.0 1100.8,871.2 1101.1,872.4 1101.4,877.0 1101.8,883.1 1102.1,888.8 1102.4,892.1 1102.4,892.3 1102.8,894.3 1103.1,896.0 1103.4,897.4 1103.8,898.2 1103.9,898.5 1104.1,898.4 1104.4,898.4 1104.8,898.5 1105.1,898.4 1105.4,898.5 1105.8,898.6 1106.1,898.7 1106.4,898.8 1106.8,898.7 1107.1,898.8 1107.4,898.7 1107.8,898.7 1108.1,898.5 1108.4,898.7 1108.8,898.7 1109.1,899.1 1109.4,898.6 1109.8,898.8 1110.1,898.8 1110.4,898.7 1110.8,898.9 1111.1,898.9 1111.3,898.8 1111.4,898.7 1111.8,898.9 1112.1,898.8 1112.4,899.0 1112.8,898.9 1113.1,899.0 1113.4,898.8 1113.8,899.0 1114.1,898.9 1114.4,898.9 1114.8,898.7 1115.1,898.5 1115.4,898.5 1115.8,898.6 1116.1,898.7 1116.4,898.6 1116.8,899.0 1117.1,898.6 1117.4,898.7 1117.8,898.6 1118.1,898.4 1118.4,898.7 1118.8,898.7 1119.1,898.7 1119.3,898.5 1119.4,898.6 1119.8,898.5 1120.1,898.6 1120.4,898.3 1120.8,898.5 1121.1,898.6 1121.4,898.4 1121.8,898.3 1122.1,898.7 1122.4,898.6 1122.8,898.8 1123.1,898.8 1123.4,898.9 1123.8,898.8 1124.1,898.6 1124.4,899.0 1124.8,898.8 1125.1,899.0 1125.4,898.9 1125.8,899.1 1126.1,898.8 1126.4,899.0 1126.8,899.0 1127.1,898.9 1127.4,899.0 1127.8,899.0 1128.1,898.9 1128.4,899.3 1128.8,899.0 1129.1,899.0 1129.4,899.1 1129.8,899.1 1130.1,899.1 1130.1,899.0 1130.4,898.9 1130.8,898.7 1131.1,898.8 1131.4,898.8 1131.8,898.4 1132.1,898.0 1132.4,898.0 1132.8,897.7 1133.1,897.1 1133.2,897.4 1133.4,897.1 1133.8,896.6 1134.1,896.2 1134.4,895.5 1134.8,894.7 1135.1,894.1 1135.4,893.7 1135.8,893.2 1136.0,893.4 1136.1,893.3 1136.4,894.1 1136.8,895.2 1137.1,896.4 1137.4,897.6 1137.8,898.3 1137.8,898.5 1138.1,898.5 1138.4,898.7 1138.8,898.8 1139.1,899.1 1139.4,898.9 1139.8,899.1 1140.1,899.2 1140.1,899.1 1140.4,899.1 1140.8,899.0 1141.1,899.0 1141.4,899.0 1141.8,898.9 1142.1,898.7 1142.4,899.1 1142.8,898.8 1143.1,899.1 1143.4,898.9 1143.8,899.3 1144.1,899.0 1144.4,898.9 1144.8,899.0 1145.1,898.7 1145.4,898.9 1145.8,898.8 1146.1,898.8 1146.4,898.5 1146.8,898.5 1147.1,898.8 1147.4,898.6 1147.8,898.5 1148.1,898.5 1148.4,898.3 1148.8,898.3 1149.1,898.4 1149.4,898.2 1149.8,898.3 1150.1,898.1 1150.2,897.9 1150.4,898.0 1150.8,898.0 1151.1,897.8 1151.4,897.6 1151.8,897.3 1152.1,897.1 1152.4,896.6 1152.8,896.1 1153.1,895.4 1153.3,895.2 1153.4,894.8 1153.8,893.0 1154.1,890.7 1154.4,888.3 1154.8,886.1 1154.8,885.9 1155.1,884.2 1155.4,882.1 1155.8,880.6 1156.0,879.9 1156.1,879.9 1156.4,882.0 1156.8,885.6 1157.1,889.2 1157.3,890.5 1157.4,891.3 1157.8,893.1 1158.1,894.5 1158.4,894.7 1158.4,894.9 1158.8,894.1 1159.1,892.4 1159.4,890.0 1159.7,887.4 1159.8,887.3 1160.1,882.7 1160.4,875.7 1160.8,867.9 1161.0,862.7 1161.1,860.2 1161.4,850.7 1161.8,840.3 1162.1,831.6 1162.4,826.7 1162.5,826.3 1162.8,828.1 1163.1,835.7 1163.4,846.6 1163.8,857.9 1163.9,862.7 1164.1,868.0 1164.4,879.9 1164.8,890.1 1165.0,893.6 1165.1,894.0 1165.4,895.4 1165.8,896.5 1166.1,897.3 1166.4,897.9 1166.8,898.2 1166.9,898.3 1167.1,898.3 1167.4,898.3 1167.8,898.6 1168.1,898.8 1168.4,898.7 1168.8,899.1 1169.1,899.0 1169.4,899.2 1169.8,899.4 1170.1,899.4 1170.4,899.7 1170.8,899.7 1171.1,899.8 1171.4,899.8 1171.8,899.7 1171.8,899.7 1172.1,899.9 1172.4,900.0 1172.8,900.0 1173.1,899.9 1173.4,900.0 1173.8,900.0 1174.1,899.7 1174.4,899.8 1174.8,899.9 1175.1,899.7 1175.4,899.7 1175.8,899.8 1176.1,899.7 1176.4,899.9 1176.8,899.7 1177.1,899.8 1177.4,900.1 1177.8,899.9 1178.1,899.6 1178.4,899.6 1178.8,899.7 1179.1,899.8 1179.4,899.6 1179.8,899.8 1180.1,899.9 1180.4,899.8 1180.8,899.5 1181.1,899.5 1181.4,899.5 1181.8,899.4 1182.1,899.7 1182.4,899.4 1182.8,899.3 1183.1,899.5 1183.4,899.5 1183.8,899.7 1184.1,899.6 1184.2,899.4 1184.4,899.2 1184.8,899.4 1185.1,899.3 1185.4,899.2 1185.8,898.7 1186.1,898.6 1186.4,898.7 1186.8,898.6 1187.1,898.4 1187.4,898.2 1187.7,898.4 1187.8,898.2 1188.1,898.3 1188.4,898.6 1188.8,898.9 1189.1,899.3 1189.4,899.6 1189.8,899.6 1190.1,899.9 1190.3,900.0 1190.4,899.8 1190.8,899.9 1191.1,899.9 1191.4,899.9 1191.8,899.7 1192.1,899.7 1192.4,899.5 1192.8,899.7 1193.1,899.5 1193.4,899.4 1193.8,899.6 1194.1,899.5 1194.4,899.4 1194.8,899.7 1195.1,899.7 1195.4,899.6 1195.8,899.5 1196.1,899.7 1196.4,899.5 1196.8,899.3 1197.1,899.4 1197.4,899.6 1197.8,899.2 1198.1,899.2 1198.4,899.3 1198.8,899.1 1199.1,898.9 1199.4,898.9 1199.6,898.9 1199.8,898.8 1200.1,898.7 1200.4,898.5 1200.8,898.2 1201.1,897.9 1201.4,897.4 1201.8,896.9 1202.1,896.3 1202.4,895.7 1202.7,895.1 1202.8,895.0 1203.1,893.6 1203.4,891.5 1203.8,889.1 1204.1,886.8 1204.2,885.9 1204.4,884.9 1204.8,882.8 1205.1,880.6 1205.4,879.0 1205.8,877.9 1205.9,877.7 1206.1,878.0 1206.4,879.9 1206.8,883.2 1207.1,887.1 1207.4,890.4 1207.6,892.1 1207.8,892.8 1208.1,894.8 1208.4,896.7 1208.8,898.2 1209.1,899.1 1209.2,899.1 1209.4,899.1 1209.8,899.3 1210.1,899.4 1210.4,899.2 1210.8,899.3 1211.1,899.1 1211.4,899.2 1211.8,899.3 1212.1,899.1 1212.4,899.3 1212.8,899.3 1213.1,899.0 1213.4,899.4 1213.8,899.5 1214.1,899.5 1214.4,899.6 1214.8,899.5 1215.1,899.5 1215.4,899.6 1215.8,899.5 1216.1,899.6 1216.4,899.7 1216.6,899.5 1216.8,899.5 1217.1,899.6 1217.4,899.1 1217.8,898.8 1218.1,898.7 1218.4,898.4 1218.8,898.3 1218.9,898.1 1219.1,898.3 1219.4,898.4 1219.8,898.8 1220.1,898.9 1220.4,899.1 1220.8,899.4 1221.1,899.5 1221.2,899.5 1221.4,899.5 1221.8,899.7 1222.1,899.6 1222.4,899.5 1222.8,899.3 1223.1,899.5 1223.4,899.2 1223.8,899.5 1224.1,899.2 1224.4,899.3 1224.8,899.3 1225.1,899.0 1225.4,899.3 1225.8,899.1 1226.1,899.2 1226.4,899.1 1226.8,899.0 1227.1,899.3 1227.4,899.2 1227.8,899.1 1228.1,898.9 1228.4,899.2 1228.8,899.0 1229.0,899.0 1229.1,898.9 1229.4,898.8 1229.8,898.6 1230.1,898.2 1230.4,897.8 1230.8,897.2 1231.1,896.7 1231.4,896.0 1231.7,895.2 1231.8,895.1 1232.1,894.0 1232.4,892.1 1232.8,890.2 1233.1,888.4 1233.3,887.4 1233.4,886.9 1233.8,885.4 1234.1,883.9 1234.4,883.1 1234.5,883.1 1234.8,883.6 1235.1,885.7 1235.4,888.7 1235.8,891.9 1236.1,894.4 1236.2,895.1 1236.4,896.0 1236.8,897.1 1237.1,898.4 1237.4,899.1 1237.8,899.7 1237.9,899.7 1238.1,899.8 1238.4,899.5 1238.8,899.7 1239.1,899.6 1239.4,899.8 1239.8,899.8 1240.1,899.7 1240.4,899.7 1240.8,899.7 1241.1,899.7 1241.4,899.6 1241.8,899.6 1242.1,899.5 1242.4,899.4 1242.8,899.6 1243.1,899.2 1243.4,899.5 1243.8,899.4 1244.1,899.0 1244.4,899.0 1244.4,899.2 1244.8,898.9 1245.1,898.9 1245.4,898.8 1245.8,898.5 1246.1,898.1 1246.4,897.7 1246.8,897.4 1247.1,896.7 1247.4,896.3 1247.8,895.7 1248.0,895.1 1248.1,894.7 1248.4,892.8 1248.8,889.8 1249.1,886.2 1249.4,882.4 1249.8,878.7 1249.8,878.1 1250.1,875.0 1250.4,870.5 1250.8,866.3 1251.1,863.1 1251.4,862.5 1251.4,862.3 1251.8,864.5 1252.1,869.0 1252.4,874.7 1252.8,880.3 1253.1,884.3 1253.1,884.6 1253.4,888.4 1253.8,892.3 1254.1,895.6 1254.4,897.7 1254.6,898.3 1254.8,898.4 1255.1,898.4 1255.4,898.9 1255.8,898.7 1256.1,899.1 1256.4,899.2 1256.8,899.3 1257.1,899.6 1257.4,899.6 1257.8,899.8 1258.1,900.2 1258.4,900.2 1258.8,900.4 1259.1,900.4 1259.4,900.1 1259.8,900.5 1259.9,900.4 1260.1,900.3 1260.4,900.2 1260.8,900.1 1261.1,900.0 1261.4,900.1 1261.8,900.2 1262.1,900.1 1262.4,900.2 1262.8,900.0 1263.1,900.1 1263.4,900.1 1263.8,900.2 1264.1,900.1 1264.4,900.1 1264.8,900.1 1265.1,900.1 1265.4,900.1 1265.8,900.2 1266.1,900.1 1266.4,900.0 1266.8,900.1 1267.1,900.1 1267.4,900.1 1267.8,899.9 1268.1,900.1 1268.4,900.0 1268.8,900.0 1269.1,900.0 1269.4,900.1 1269.8,900.1 1270.1,900.2 1270.4,900.1 1270.7,900.1 1270.8,900.2 1271.1,900.0 1271.4,900.1 1271.8,899.9 1272.1,899.8 1272.4,899.4 1272.8,899.3 1273.1,899.0 1273.4,898.6 1273.8,898.4 1274.1,898.2 1274.4,897.8 1274.8,897.5 1275.0,897.4 1275.1,897.3 1275.4,896.7 1275.8,895.6 1276.1,894.6 1276.4,893.3 1276.8,892.4 1276.9,891.9 1277.1,891.2 1277.4,889.9 1277.8,888.7 1278.1,887.9 1278.1,888.3 1278.4,889.0 1278.8,891.0 1279.1,893.5 1279.4,895.7 1279.6,896.7 1279.8,897.0 1280.1,898.4 1280.4,899.2 1280.8,900.1 1281.1,900.6 1281.2,900.5 1281.4,900.4 1281.8,900.4 1282.1,900.5 1282.4,900.6 1282.8,900.4 1283.1,900.5 1283.4,900.4 1283.8,900.4 1284.1,900.2 1284.4,900.4 1284.8,900.4 1285.1,900.3 1285.4,900.3 1285.8,900.2 1286.1,900.2 1286.4,900.0 1286.8,899.9 1287.1,899.8 1287.4,899.8 1287.7,899.8 1287.8,899.6 1288.1,899.5 1288.4,899.2 1288.8,898.8 1289.1,898.5 1289.4,898.0 1289.8,897.4 1290.1,896.7 1290.4,895.9 1290.4,896.0 1290.8,894.5 1291.1,892.2 1291.4,889.2 1291.8,886.3 1292.0,884.4 1292.1,883.7 1292.4,880.8 1292.8,878.0 1293.1,875.9 1293.4,875.2 1293.4,875.3 1293.8,876.6 1294.1,879.8 1294.4,883.7 1294.8,887.7 1295.1,890.6 1295.1,890.7 1295.4,892.8 1295.8,895.1 1296.1,897.0 1296.4,898.7 1296.8,899.8 1296.9,900.0 1297.1,899.9 1297.4,900.1 1297.8,900.3 1298.1,900.4 1298.4,900.5 1298.8,900.5 1299.1,900.6 1299.4,900.7 1299.8,900.9 1300.1,900.9 1300.4,901.0 1300.8,900.8 1301.1,900.9 1301.4,900.9 1301.6,901.0 1301.8,900.9 1302.1,900.9 1302.4,901.2 1302.8,900.9 1303.1,900.8 1303.4,900.9 1303.8,901.2 1304.1,901.0 1304.4,900.8 1304.8,900.9 1305.1,900.9 1305.4,900.9 1305.8,900.7 1306.1,900.8 1306.4,900.9 1306.8,900.8 1307.1,901.0 1307.4,901.0 1307.8,901.2 1308.1,901.2 1308.4,901.1 1308.8,901.1 1309.1,901.1 1309.4,901.1 1309.8,901.0 1310.1,900.8 1310.4,900.9 1310.8,901.0 1311.1,900.9 1311.4,901.0 1311.8,901.1 1312.1,900.9 1312.4,900.9 1312.4,900.9 1312.8,901.1 1313.1,901.0 1313.4,900.7 1313.8,900.7 1314.1,900.2 1314.4,899.9 1314.8,899.5 1315.1,899.2 1315.4,898.6 1315.8,898.3 1315.8,898.1 1316.1,897.5 1316.4,896.6 1316.8,895.5 1317.1,894.4 1317.3,893.5 1317.4,893.2 1317.8,892.1 1318.1,890.7 1318.4,889.7 1318.7,889.3 1318.8,889.2 1319.1,890.3 1319.4,892.3 1319.8,894.6 1320.1,896.7 1320.4,898.2 1320.4,898.2 1320.8,899.1 1321.1,900.0 1321.4,900.6 1321.8,901.0 1322.0,901.2 1322.1,900.8 1322.4,900.9 1322.8,901.0 1323.1,900.9 1323.4,901.2 1323.8,900.8 1324.1,901.1 1324.4,901.1 1324.8,901.1 1325.1,901.0 1325.4,900.9 1325.8,900.8 1326.1,901.0 1326.4,900.8 1326.8,900.7 1327.1,900.7 1327.4,900.7 1327.8,900.9 1328.1,901.0 1328.4,900.8 1328.8,900.8 1329.1,900.7 1329.4,900.8 1329.8,900.8 1330.1,900.7 1330.4,900.8 1330.8,900.4 1330.9,900.6 1331.1,900.4 1331.4,900.6 1331.8,900.5 1332.1,900.4 1332.4,900.2 1332.8,899.9 1333.1,899.5 1333.4,899.3 1333.8,898.8 1334.1,898.5 1334.4,897.9 1334.8,897.5 1334.8,897.5 1335.1,896.6 1335.4,895.2 1335.8,893.3 1336.1,891.0 1336.4,888.8 1336.6,887.4 1336.8,886.6 1337.1,883.8 1337.4,880.7 1337.8,878.1 1338.1,876.7 1338.2,876.5 1338.4,877.2 1338.8,879.8 1339.1,883.7 1339.4,887.7 1339.8,891.1 1339.9,892.1 1340.1,893.3 1340.4,895.3 1340.8,897.3 1341.1,898.9 1341.4,900.2 1341.7,900.4 1341.8,900.5 1342.1,900.8 1342.4,900.8 1342.8,900.9 1343.1,900.9 1343.4,901.1 1343.8,901.2 1344.1,901.3 1344.4,901.3 1344.8,901.4 1345.1,901.3 1345.4,901.2 1345.8,901.5 1346.1,901.2 1346.4,901.5 1346.8,901.5 1347.1,901.4 1347.4,901.5 1347.8,901.5 1347.9,901.5 1348.1,901.4 1348.4,901.5 1348.8,901.3 1349.1,901.4 1349.4,901.3 1349.8,901.3 1350.1,901.3 1350.4,901.2 1350.8,901.3 1351.1,901.3 1351.4,900.9 1351.8,901.0 1352.1,901.3 1352.4,901.0 1352.8,901.2 1353.1,900.9 1353.4,900.8 1353.8,900.6 1354.1,900.5 1354.1,900.6 1354.4,900.4 1354.8,899.9 1355.1,899.2 1355.4,898.5 1355.8,897.8 1356.0,897.5 1356.1,897.3 1356.4,896.6 1356.8,896.0 1357.1,895.7 1357.2,895.5 1357.4,895.8 1357.8,896.6 1358.1,897.8 1358.4,899.1 1358.8,900.1 1359.0,900.7 1359.1,900.7 1359.4,901.0 1359.8,901.1 1360.1,901.3 1360.4,901.5 1360.8,901.8 1361.1,901.9 1361.4,901.8 1361.8,902.0 1361.8,901.7 1362.1,901.9 1362.4,901.8 1362.8,901.7 1363.1,901.7 1363.4,901.6 1363.8,901.4 1364.1,901.3 1364.4,901.2 1364.8,901.3 1365.1,901.0 1365.4,901.0 1365.8,901.0 1366.1,900.9 1366.4,900.8 1366.5,900.6 1366.8,900.4 1367.1,899.9 1367.4,899.0 1367.8,898.3 1368.1,897.2 1368.4,896.2 1368.8,895.2 1368.8,895.1 1369.1,893.8 1369.4,892.0 1369.8,889.9 1370.1,887.8 1370.4,886.2 1370.8,885.3 1370.9,885.1 1371.1,885.2 1371.4,886.6 1371.8,889.0 1372.1,891.6 1372.4,894.0 1372.6,895.1 1372.8,895.6 1373.1,897.1 1373.4,898.4 1373.8,899.6 1374.1,900.6 1374.4,900.9 1374.5,901.1 1374.8,900.8 1375.1,901.2 1375.4,900.9 1375.8,901.1 1376.1,901.2 1376.4,901.3 1376.8,901.3 1377.1,901.5 1377.4,901.6 1377.8,901.6 1378.1,901.5 1378.4,901.5 1378.8,901.2 1379.1,901.5 1379.4,901.4 1379.8,901.6 1380.1,901.4 1380.4,901.5 1380.8,901.5 1381.1,901.7 1381.4,901.6 1381.8,901.5 1381.9,901.4 1382.1,901.6 1382.4,901.6 1382.8,901.7 1383.1,901.8 1383.4,901.9 1383.8,902.0 1384.1,901.8 1384.4,901.8 1384.8,902.0 1385.1,901.8 1385.4,901.8 1385.8,901.7 1386.1,901.7 1386.4,901.7 1386.8,901.5 1387.1,901.6 1387.4,901.5 1387.8,901.5 1388.1,901.4 1388.4,901.4 1388.8,901.6 1389.1,901.7 1389.4,901.5 1389.8,901.6 1390.1,901.4 1390.4,901.6 1390.8,901.8 1391.1,901.4 1391.2,901.5 1391.4,901.4 1391.8,901.4 1392.1,901.2 1392.4,901.2 1392.8,900.8 1393.1,900.9 1393.4,900.7 1393.8,900.7 1394.0,900.9 1394.1,900.5 1394.4,900.5 1394.8,900.6 1395.1,900.9 1395.4,901.0 1395.8,901.0 1396.1,901.3 1396.4,901.4 1396.8,901.7 1397.1,901.7 1397.4,901.6 1397.4,901.6 1397.8,901.4 1398.1,901.6 1398.4,901.8 1398.8,901.6 1399.1,901.5 1399.4,901.6 1399.8,901.6 1400.1,901.7 1400.4,901.3 1400.8,901.3 1401.1,901.2 1401.4,901.2 1401.8,901.4 1402.1,901.2 1402.4,901.0 1402.8,901.2 1402.8,901.3 1403.1,900.9 1403.4,900.2 1403.8,899.5 1404.1,898.8 1404.4,897.7 1404.8,896.7 1405.1,895.8 1405.1,896.0 1405.4,894.7 1405.8,893.4 1406.1,892.0 1406.4,890.9 1406.8,890.4 1406.8,890.6 1407.1,890.9 1407.4,892.4 1407.8,894.0 1408.1,895.9 1408.4,897.3 1408.5,897.4 1408.8,898.3 1409.1,899.2 1409.4,900.0 1409.8,900.8 1410.1,901.2 1410.4,901.6 1410.5,901.4 1410.8,901.7 1411.1,901.8 1411.4,901.8 1411.8,901.6 1412.1,901.7 1412.4,902.0 1412.8,902.0 1413.1,902.0 1413.4,901.7 1413.8,901.9 1414.1,902.2 1414.4,902.0 1414.8,901.9 1415.1,902.0 1415.4,902.2 1415.8,902.1 1416.1,901.8 1416.4,901.8 1416.8,901.9 1417.1,902.1 1417.4,901.9 1417.8,901.9 1418.1,901.7 1418.4,902.0 1418.8,902.1 1419.0,902.2 1419.1,901.9 1419.4,902.2 1419.8,901.9 1420.1,901.9 1420.4,902.0 1420.8,901.8 1421.1,901.9 1421.4,901.8 1421.8,901.8 1422.1,901.8 1422.4,901.6 1422.8,901.5 1423.1,901.4 1423.4,901.1 1423.8,901.2 1424.1,901.3 1424.4,901.0 1424.4,901.0 1424.8,900.6 1425.1,900.2 1425.4,899.6 1425.8,898.8 1426.1,898.1 1426.4,897.2 1426.7,896.7 1426.8,896.5 1427.1,895.9 1427.4,894.9 1427.8,894.1 1428.1,893.4 1428.4,893.2 1428.4,893.3 1428.8,893.6 1429.1,894.5 1429.4,895.5 1429.8,896.8 1430.1,897.8 1430.3,898.1 1430.4,898.6 1430.8,899.2 1431.1,900.0 1431.4,900.6 1431.8,901.1 1432.1,901.7 1432.4,901.6 1432.4,901.7 1432.8,901.8 1433.1,901.6 1433.4,901.5 1433.8,901.7 1434.1,901.7 1434.4,901.6 1434.8,901.7 1435.1,901.8 1435.4,901.8 1435.8,901.8 1436.1,901.7 1436.4,901.6 1436.8,901.5 1436.8,901.4 1437.4,901.4"/>
<polyline clip-path="url(#cp2)" fill="none" stroke="#ff0000" stroke-width="2.8" stroke-linejoin="round" stroke-linecap="round" points="1464.0,397.6 1464.3,397.6 1464.7,397.5 1465.0,398.7 1465.3,399.6 1465.7,400.4 1466.0,399.9 1466.3,399.6 1466.7,399.6 1467.0,401.0 1467.3,401.8 1467.7,401.0 1468.0,400.0 1468.3,400.5 1468.7,402.7 1469.0,401.9 1469.3,400.6 1469.7,402.2 1470.0,401.5 1470.3,402.1 1470.7,402.4 1470.8,402.2 1471.0,403.3 1471.3,403.0 1471.7,402.7 1472.0,403.7 1472.3,404.2 1472.7,402.4 1473.0,403.6 1473.3,403.2 1473.7,404.0 1474.0,403.2 1474.3,404.5 1474.7,404.7 1475.0,404.7 1475.3,404.2 1475.7,405.0 1476.0,404.6 1476.3,404.6 1476.7,406.1 1477.0,405.2 1477.3,407.2 1477.7,407.0 1478.0,404.8 1478.3,406.8 1478.7,405.7 1479.0,406.8 1479.3,407.0 1479.7,405.5 1480.0,407.2 1480.1,407.3 1480.3,408.5 1480.7,406.9 1481.0,408.6 1481.3,407.2 1481.7,408.0 1482.0,407.8 1482.3,410.0 1482.7,409.5 1483.0,411.3 1483.3,410.0 1483.7,410.4 1484.0,410.5 1484.3,409.3 1484.7,409.8 1485.0,411.1 1485.3,409.6 1485.7,410.2 1486.0,410.0 1486.3,410.6 1486.7,409.7 1487.0,409.9 1487.3,410.2 1487.7,410.1 1488.0,409.4 1488.3,411.1 1488.7,409.3 1489.0,409.6 1489.3,409.7 1489.7,411.9 1490.0,410.9 1490.3,410.5 1490.7,410.6 1490.9,412.2 1491.0,411.0 1491.3,411.0 1491.7,412.8 1492.0,411.3 1492.3,412.1 1492.7,412.4 1493.0,412.0 1493.3,412.3 1493.7,413.5 1494.0,411.8 1494.3,411.2 1494.7,410.7 1495.0,412.2 1495.3,412.2 1495.7,412.8 1496.0,412.3 1496.3,412.4 1496.7,412.3 1497.0,412.6 1497.3,413.2 1497.7,412.7 1498.0,413.2 1498.3,414.9 1498.7,413.7 1499.0,412.0 1499.3,415.1 1499.7,414.0 1500.0,413.0 1500.3,414.9 1500.7,414.2 1501.0,413.7 1501.3,413.8 1501.7,413.6 1502.0,414.6 1502.3,415.7 1502.7,414.5 1503.0,415.3 1503.3,416.8 1503.7,414.1 1504.0,415.5 1504.3,415.0 1504.7,414.4 1505.0,414.4 1505.3,415.3 1505.7,415.8 1506.0,414.9 1506.3,415.4 1506.3,415.9 1506.7,415.5 1507.0,416.1 1507.3,415.8 1507.7,415.9 1508.0,417.3 1508.3,416.4 1508.7,416.1 1509.0,416.8 1509.3,415.4 1509.7,416.0 1510.0,417.2 1510.3,417.1 1510.7,418.0 1511.0,416.6 1511.3,415.4 1511.7,418.6 1512.0,417.9 1512.3,416.1 1512.7,418.5 1513.0,417.3 1513.3,415.7 1513.7,417.0 1514.0,416.8 1514.3,418.7 1514.7,416.5 1515.0,417.1 1515.3,417.1 1515.7,417.1 1516.0,416.6 1516.3,417.8 1516.7,418.7 1517.0,418.3 1517.3,417.0 1517.7,416.9 1518.0,418.2 1518.3,417.6 1518.7,417.7 1519.0,416.8 1519.3,420.3 1519.7,419.4 1520.0,417.6 1520.3,419.4 1520.7,419.7 1521.0,416.2 1521.3,417.9 1521.7,418.1 1521.8,419.1 1522.0,418.4 1522.3,418.4 1522.7,418.7 1523.0,420.7 1523.3,421.1 1523.7,418.7 1524.0,418.4 1524.3,421.8 1524.7,418.4 1525.0,418.8 1525.3,419.5 1525.7,420.0 1526.0,420.6 1526.3,420.1 1526.7,419.0 1527.0,420.4 1527.3,420.1 1527.7,421.6 1528.0,419.7 1528.3,418.3 1528.7,418.6 1529.0,420.9 1529.3,419.1 1529.7,417.6 1530.0,419.1 1530.3,419.7 1530.7,420.8 1531.0,418.6 1531.3,420.2 1531.7,420.2 1532.0,418.7 1532.3,419.2 1532.7,421.1 1533.0,421.0 1533.3,420.2 1533.7,419.7 1534.0,420.5 1534.2,419.3 1534.3,419.4 1534.7,418.6 1535.0,419.5 1535.3,419.4 1535.7,422.2 1536.0,419.3 1536.3,420.9 1536.7,421.0 1537.0,419.6 1537.3,420.9 1537.7,417.7 1538.0,419.9 1538.3,420.6 1538.7,417.4 1539.0,418.5 1539.3,420.5 1539.7,419.1 1540.0,418.3 1540.3,419.0 1540.7,418.9 1541.0,420.1 1541.3,420.0 1541.7,419.4 1542.0,419.1 1542.3,419.7 1542.7,421.0 1543.0,420.1 1543.3,420.3 1543.4,419.4 1543.7,418.2 1544.0,418.5 1544.3,419.3 1544.7,418.6 1545.0,417.6 1545.3,416.8 1545.7,417.9 1546.0,417.4 1546.3,417.1 1546.7,416.8 1547.0,416.8 1547.3,416.4 1547.3,416.8 1547.7,416.0 1548.0,415.4 1548.3,414.2 1548.7,412.7 1549.0,411.6 1549.3,410.6 1549.7,408.8 1550.0,407.5 1550.3,406.0 1550.4,405.1 1550.7,402.9 1551.0,400.3 1551.3,396.2 1551.7,392.0 1552.0,387.1 1552.3,383.0 1552.4,382.0 1552.7,377.7 1553.0,371.8 1553.3,366.5 1553.6,363.4 1553.7,363.2 1554.0,361.1 1554.3,360.7 1554.7,359.8 1554.7,359.9 1555.0,360.4 1555.3,362.9 1555.7,367.0 1555.8,368.0 1556.0,370.0 1556.3,373.8 1556.7,376.3 1556.9,378.1 1557.0,376.7 1557.3,374.6 1557.7,370.7 1558.0,366.4 1558.1,365.0 1558.3,361.2 1558.7,353.8 1559.0,347.4 1559.3,343.4 1559.3,345.4 1559.7,346.3 1560.0,352.2 1560.3,359.6 1560.4,361.8 1560.7,368.5 1561.0,380.6 1561.3,391.9 1561.5,396.0 1561.7,398.3 1562.0,403.2 1562.3,407.4 1562.7,410.7 1563.0,413.3 1563.2,414.1 1563.3,414.3 1563.7,416.1 1564.0,415.5 1564.3,416.9 1564.7,419.4 1565.0,419.6 1565.3,419.8 1565.7,420.2 1566.0,421.4 1566.3,420.7 1566.6,420.3 1566.7,419.0 1567.0,420.0 1567.3,419.4 1567.7,419.5 1568.0,419.6 1568.3,420.4 1568.7,420.2 1569.0,421.5 1569.3,419.6 1569.7,420.8 1570.0,422.8 1570.3,421.2 1570.7,422.4 1571.0,422.5 1571.3,422.9 1571.7,422.4 1572.0,420.4 1572.3,421.5 1572.7,421.3 1573.0,420.1 1573.3,421.1 1573.7,420.3 1574.0,419.9 1574.3,421.8 1574.7,421.5 1575.0,421.0 1575.3,420.8 1575.7,421.3 1576.0,421.5 1576.3,421.6 1576.7,422.0 1577.0,421.7 1577.3,422.6 1577.4,422.8 1577.7,422.7 1578.0,421.8 1578.3,421.9 1578.7,423.0 1579.0,422.4 1579.3,422.6 1579.7,420.3 1580.0,420.1 1580.3,422.9 1580.7,423.0 1581.0,424.0 1581.3,423.5 1581.7,423.3 1582.0,423.3 1582.3,422.2 1582.7,424.5 1583.0,423.2 1583.3,424.3 1583.7,423.9 1584.0,423.9 1584.3,424.4 1584.7,423.1 1585.0,423.2 1585.3,422.7 1585.7,423.2 1586.0,425.2 1586.3,423.3 1586.7,424.8 1587.0,424.6 1587.3,424.6 1587.7,424.7 1588.0,423.0 1588.2,424.4 1588.3,425.6 1588.7,423.2 1589.0,423.8 1589.3,423.1 1589.7,424.0 1590.0,422.5 1590.3,425.1 1590.7,423.1 1591.0,421.9 1591.3,425.1 1591.7,424.3 1592.0,423.8 1592.3,423.7 1592.7,422.7 1593.0,422.8 1593.3,423.7 1593.7,423.8 1594.0,423.8 1594.3,423.1 1594.7,422.5 1595.0,422.7 1595.3,424.0 1595.7,424.3 1596.0,422.6 1596.3,422.4 1596.7,424.1 1597.0,423.7 1597.3,423.8 1597.7,422.1 1598.0,423.1 1598.3,423.1 1598.7,423.9 1599.0,422.1 1599.0,424.9 1599.3,423.9 1599.7,423.8 1600.0,422.1 1600.3,423.0 1600.7,424.1 1601.0,421.3 1601.3,422.8 1601.7,423.0 1602.0,421.7 1602.3,422.8 1602.7,421.7 1603.0,422.8 1603.3,422.0 1603.7,421.6 1604.0,422.8 1604.3,421.7 1604.7,421.9 1605.0,419.8 1605.2,420.0 1605.3,421.1 1605.7,420.7 1606.0,419.7 1606.3,419.7 1606.7,418.0 1607.0,418.2 1607.3,416.7 1607.7,416.8 1608.0,415.5 1608.3,414.6 1608.7,413.9 1609.0,413.7 1609.1,412.2 1609.3,411.5 1609.7,410.5 1610.0,408.0 1610.3,406.2 1610.7,403.1 1611.0,400.0 1611.3,396.7 1611.4,396.2 1611.7,392.9 1612.0,387.9 1612.3,382.0 1612.7,375.1 1613.0,367.9 1613.3,362.0 1613.3,360.3 1613.7,350.7 1614.0,339.8 1614.3,328.5 1614.5,323.2 1614.7,318.2 1615.0,308.6 1615.3,300.0 1615.3,298.0 1615.7,283.2 1616.0,267.2 1616.3,255.9 1616.5,254.0 1616.7,254.3 1617.0,262.4 1617.3,275.9 1617.7,290.8 1617.9,300.0 1618.0,303.4 1618.3,314.5 1618.7,325.5 1618.8,331.0 1619.0,337.0 1619.3,349.8 1619.7,361.9 1619.9,369.5 1620.0,372.1 1620.3,381.6 1620.7,390.5 1621.0,397.8 1621.3,403.7 1621.4,405.1 1621.7,407.1 1622.0,410.1 1622.3,412.7 1622.7,414.5 1623.0,416.7 1623.3,417.8 1623.7,418.2 1623.8,419.1 1624.0,420.2 1624.3,418.8 1624.7,419.2 1625.0,419.6 1625.3,422.6 1625.7,421.5 1626.0,422.0 1626.3,421.7 1626.7,421.8 1627.0,421.1 1627.3,423.0 1627.7,423.2 1628.0,421.4 1628.3,422.2 1628.7,422.5 1629.0,423.2 1629.3,423.5 1629.7,424.4 1629.9,424.7 1630.0,424.4 1630.3,424.7 1630.7,422.5 1631.0,423.2 1631.3,424.8 1631.7,424.1 1632.0,424.0 1632.3,422.3 1632.7,422.5 1633.0,425.0 1633.3,424.7 1633.7,424.1 1634.0,424.0 1634.3,422.8 1634.7,424.8 1635.0,425.4 1635.3,426.0 1635.7,424.6 1636.0,424.4 1636.3,423.7 1636.7,425.9 1637.0,426.4 1637.3,424.3 1637.7,425.2 1638.0,425.0 1638.3,424.5 1638.7,422.7 1639.0,424.9 1639.3,426.0 1639.7,424.2 1640.0,425.0 1640.3,422.7 1640.7,427.2 1641.0,426.5 1641.3,426.0 1641.7,425.7 1642.0,425.4 1642.3,425.9 1642.7,425.7 1643.0,425.7 1643.3,425.9 1643.7,426.1 1644.0,427.5 1644.3,424.6 1644.7,426.3 1645.0,425.4 1645.3,424.9 1645.4,423.6 1645.7,426.6 1646.0,425.0 1646.3,425.2 1646.7,426.4 1647.0,424.9 1647.3,426.0 1647.7,425.9 1648.0,426.7 1648.3,426.9 1648.7,425.1 1649.0,426.8 1649.3,425.9 1649.7,426.1 1650.0,425.8 1650.3,426.6 1650.7,424.6 1651.0,425.8 1651.3,426.4 1651.7,424.9 1652.0,426.8 1652.3,424.1 1652.7,424.9 1653.0,424.1 1653.3,423.9 1653.7,423.4 1654.0,423.9 1654.3,424.3 1654.7,423.5 1655.0,425.0 1655.3,425.4 1655.7,422.5 1656.0,424.6 1656.3,423.9 1656.7,423.8 1657.0,425.8 1657.3,424.5 1657.7,423.6 1658.0,423.4 1658.3,421.1 1658.7,424.1 1659.0,422.7 1659.3,423.8 1659.3,423.9 1659.7,424.9 1660.0,426.0 1660.3,425.0 1660.7,425.3 1661.0,423.8 1661.3,424.4 1661.7,424.6 1662.0,422.4 1662.3,425.6 1662.7,423.0 1663.0,422.5 1663.3,425.3 1663.7,425.9 1664.0,423.5 1664.3,423.8 1664.7,427.4 1665.0,424.8 1665.3,422.9 1665.7,424.2 1666.0,426.6 1666.3,425.2 1666.7,425.2 1667.0,425.5 1667.3,424.9 1667.7,423.8 1668.0,422.6 1668.3,424.6 1668.6,423.2 1668.7,424.4 1669.0,426.3 1669.3,425.3 1669.7,424.9 1670.0,424.9 1670.3,425.5 1670.7,425.6 1671.0,423.5 1671.3,424.8 1671.7,426.0 1672.0,425.1 1672.3,423.6 1672.7,423.6 1673.0,422.2 1673.3,423.1 1673.7,424.9 1674.0,423.3 1674.3,422.4 1674.7,422.5 1674.7,422.9 1675.0,422.8 1675.3,422.4 1675.7,421.8 1676.0,422.4 1676.3,422.6 1676.7,420.7 1677.0,420.2 1677.3,420.8 1677.7,418.7 1678.0,418.6 1678.3,418.0 1678.6,417.7 1678.7,417.4 1679.0,416.2 1679.3,415.6 1679.7,413.7 1680.0,412.0 1680.3,410.3 1680.7,409.2 1681.0,406.4 1681.2,405.3 1681.3,404.6 1681.7,401.5 1682.0,397.3 1682.3,392.6 1682.7,387.4 1683.0,381.7 1683.2,377.1 1683.3,375.9 1683.7,368.6 1684.0,360.6 1684.3,351.6 1684.7,342.2 1684.8,338.7 1685.0,332.9 1685.3,322.3 1685.7,311.6 1686.0,300.9 1686.0,300.0 1686.3,290.9 1686.7,281.3 1687.0,271.9 1687.3,262.4 1687.7,252.4 1688.0,241.5 1688.3,229.3 1688.5,222.7 1688.7,214.5 1689.0,192.8 1689.3,167.3 1689.7,142.1 1690.0,121.3 1690.3,109.0 1690.5,107.2 1690.7,111.5 1691.0,134.1 1691.3,169.2 1691.7,207.3 1691.8,222.8 1692.0,243.3 1692.3,283.1 1692.5,300.0 1692.7,309.4 1693.0,327.0 1693.3,338.6 1693.3,340.0 1693.7,350.6 1694.0,359.4 1694.3,365.8 1694.4,366.4 1694.7,370.9 1695.0,375.0 1695.3,376.1 1695.3,376.5 1695.7,374.8 1696.0,371.0 1696.3,367.1 1696.4,366.4 1696.7,362.4 1697.0,356.8 1697.3,350.3 1697.7,343.9 1697.9,338.7 1698.0,337.3 1698.3,329.2 1698.7,320.8 1699.0,314.3 1699.3,311.2 1699.3,312.3 1699.7,315.7 1700.0,325.6 1700.3,336.7 1700.4,338.7 1700.7,347.8 1701.0,361.2 1701.3,373.1 1701.5,377.2 1701.7,381.6 1702.0,388.9 1702.3,395.3 1702.7,400.8 1703.0,405.2 1703.3,408.3 1703.3,407.8 1703.7,409.5 1704.0,412.0 1704.3,413.6 1704.7,415.5 1705.0,416.6 1705.3,417.9 1705.7,419.4 1706.0,419.9 1706.3,420.3 1706.4,421.7 1706.7,420.3 1707.0,420.7 1707.3,422.3 1707.7,420.6 1708.0,420.4 1708.3,423.1 1708.7,422.4 1709.0,422.7 1709.3,422.8 1709.7,423.1 1710.0,421.8 1710.3,422.1 1710.3,421.0 1710.7,422.2 1711.0,422.1 1711.3,421.3 1711.7,422.1 1712.0,423.7 1712.3,420.2 1712.7,421.5 1713.0,421.3 1713.3,421.1 1713.7,419.4 1714.0,420.5 1714.3,419.8 1714.7,418.9 1714.9,418.5 1715.0,418.9 1715.3,419.0 1715.7,418.6 1716.0,419.1 1716.3,417.0 1716.7,417.0 1717.0,415.9 1717.3,415.8 1717.7,414.8 1718.0,413.6 1718.3,412.3 1718.7,411.6 1718.8,411.6 1719.0,411.1 1719.3,409.0 1719.7,406.2 1720.0,403.7 1720.3,400.8 1720.7,397.5 1721.0,393.9 1721.1,392.9 1721.3,389.7 1721.7,383.9 1722.0,377.4 1722.3,371.4 1722.6,366.2 1722.7,366.2 1723.0,361.4 1723.3,356.6 1723.7,354.6 1723.7,354.5 1724.0,356.1 1724.3,359.7 1724.7,364.6 1725.0,369.6 1725.0,370.1 1725.3,375.5 1725.7,381.7 1726.0,388.1 1726.3,393.6 1726.5,395.9 1726.7,397.5 1727.0,401.3 1727.3,404.5 1727.7,407.7 1728.0,410.7 1728.3,412.9 1728.7,414.8 1728.8,416.6 1729.0,416.5 1729.3,417.2 1729.7,417.8 1730.0,419.4 1730.3,420.0 1730.7,420.3 1731.0,422.5 1731.3,422.0 1731.6,422.9 1731.7,425.5 1732.0,422.7 1732.3,422.3 1732.7,421.8 1733.0,420.8 1733.3,419.7 1733.7,419.0 1734.0,418.7 1734.2,417.4 1734.3,416.6 1734.7,415.2 1735.0,413.4 1735.3,411.8 1735.7,410.5 1735.8,410.1 1736.0,409.8 1736.3,408.1 1736.7,407.9 1737.0,407.2 1737.2,407.5 1737.3,406.1 1737.7,408.9 1738.0,410.5 1738.3,412.9 1738.6,414.6 1738.7,414.5 1739.0,416.6 1739.3,417.2 1739.7,417.7 1740.0,419.2 1740.3,419.7 1740.7,421.5 1740.9,422.1 1741.0,421.2 1741.3,420.0 1741.7,419.9 1742.0,419.6 1742.3,417.8 1742.7,416.8 1743.0,416.4 1743.0,416.2 1743.3,414.5 1743.7,412.5 1744.0,409.6 1744.3,407.5 1744.7,404.1 1745.0,400.6 1745.0,400.2 1745.3,397.1 1745.7,393.2 1746.0,388.2 1746.3,383.0 1746.7,379.0 1747.0,375.0 1747.1,374.0 1747.3,371.0 1747.7,369.0 1748.0,366.1 1748.3,363.8 1748.6,361.8 1748.7,361.8 1749.0,359.2 1749.3,356.2 1749.7,353.4 1750.0,351.6 1750.3,350.8 1750.4,348.9 1750.7,351.1 1751.0,353.3 1751.3,357.7 1751.7,362.7 1752.0,368.0 1752.0,368.1 1752.3,374.3 1752.7,381.8 1753.0,389.9 1753.3,397.1 1753.5,400.4 1753.7,402.2 1754.0,406.1 1754.3,410.3 1754.7,414.1 1755.0,417.2 1755.3,419.6 1755.7,421.8 1755.9,422.5 1756.0,421.5 1756.3,423.3 1756.7,424.0 1757.0,424.4 1757.3,424.7 1757.7,425.6 1758.0,426.2 1758.3,426.4 1758.7,427.5 1759.0,427.5 1759.3,426.5 1759.7,426.6 1759.7,428.2 1760.0,427.1 1760.3,428.1 1760.7,428.6 1761.0,429.2 1761.3,428.9 1761.7,429.7 1762.0,428.1 1762.3,429.1 1762.7,427.9 1763.0,428.7 1763.3,428.6 1763.7,427.7 1764.0,426.3 1764.3,429.6 1764.7,429.2 1765.0,429.0 1765.3,428.4 1765.7,428.8 1766.0,429.7 1766.3,429.4 1766.7,430.6 1767.0,429.7 1767.3,428.8 1767.7,430.2 1768.0,429.0 1768.3,429.8 1768.7,427.7 1769.0,429.2 1769.0,430.0 1769.3,428.9 1769.7,429.6 1770.0,430.3 1770.3,429.9 1770.7,431.6 1771.0,429.6 1771.3,429.7 1771.7,429.7 1772.0,427.9 1772.3,428.2 1772.7,430.2 1773.0,429.3 1773.3,430.9 1773.7,429.4 1774.0,429.3 1774.3,430.6 1774.7,429.9 1775.0,431.3 1775.3,428.8 1775.7,430.3 1776.0,430.6 1776.3,430.4 1776.7,431.0 1777.0,430.8 1777.3,429.8 1777.7,429.2 1778.0,430.6 1778.3,429.7 1778.3,430.6 1778.7,430.9 1779.0,429.9 1779.3,428.9 1779.7,429.6 1780.0,430.6 1780.3,429.7 1780.7,431.1 1781.0,430.0 1781.3,430.1 1781.7,429.5 1782.0,430.1 1782.3,431.3 1782.7,430.1 1783.0,430.3 1783.3,430.1 1783.7,431.6 1784.0,429.6 1784.3,430.4 1784.7,431.9 1785.0,432.3 1785.3,430.7 1785.7,431.8 1786.0,429.0 1786.3,431.6 1786.7,431.2 1787.0,429.8 1787.3,429.4 1787.7,430.6 1788.0,431.4 1788.3,431.4 1788.7,431.1 1789.0,431.7 1789.3,431.6 1789.3,429.6 1789.7,430.6 1790.0,430.6 1790.3,432.2 1790.7,430.8 1791.0,432.3 1791.3,431.3 1791.7,433.4 1792.0,431.0 1792.3,431.0 1792.7,430.8 1793.0,431.1 1793.3,433.2 1793.7,430.4 1794.0,430.0 1794.3,430.6 1794.7,431.2 1795.0,429.6 1795.3,431.2 1795.7,431.1 1796.0,430.1 1796.3,430.0 1796.7,429.3 1797.0,429.6 1797.0,429.1 1797.3,430.7 1797.7,430.9 1798.0,429.1 1798.3,429.2 1798.7,427.5 1799.0,428.6 1799.3,429.2 1799.7,429.0 1800.0,428.7 1800.3,429.1 1800.7,428.2 1801.0,427.5 1801.3,428.8 1801.7,425.7 1802.0,426.1 1802.3,426.2 1802.7,426.1 1803.0,425.9 1803.2,426.3 1803.3,425.9 1803.7,426.0 1804.0,425.7 1804.3,424.6 1804.7,423.7 1805.0,422.1 1805.3,420.8 1805.7,419.9 1806.0,418.9 1806.3,417.6 1806.3,417.5 1806.7,415.5 1807.0,413.0 1807.3,409.8 1807.7,407.2 1808.0,404.0 1808.3,401.3 1808.6,398.9 1808.7,398.2 1809.0,394.9 1809.3,391.5 1809.7,387.9 1810.0,385.6 1810.3,384.4 1810.4,385.4 1810.7,384.5 1811.0,386.8 1811.3,390.3 1811.7,393.7 1812.0,397.8 1812.3,400.8 1812.4,401.8 1812.7,403.6 1813.0,406.5 1813.3,408.9 1813.7,411.0 1814.0,413.6 1814.3,413.5 1814.3,414.1 1814.7,413.2 1815.0,411.5 1815.3,408.9 1815.7,406.2 1816.0,402.9 1816.3,400.5 1816.3,400.2 1816.7,396.5 1817.0,392.2 1817.3,387.3 1817.7,383.4 1817.9,381.6 1818.0,381.3 1818.3,379.8 1818.7,377.5 1819.0,377.1 1819.2,376.2 1819.3,376.6 1819.7,378.3 1820.0,381.4 1820.3,385.8 1820.7,389.6 1820.9,393.0 1821.0,393.3 1821.3,396.1 1821.7,399.2 1822.0,402.1 1822.3,404.6 1822.7,406.3 1822.9,406.7 1823.0,406.8 1823.3,405.5 1823.7,403.8 1824.0,401.1 1824.3,397.8 1824.5,395.8 1824.7,393.3 1825.0,383.8 1825.3,372.6 1825.7,363.3 1825.7,361.9 1826.0,357.1 1826.3,350.9 1826.7,345.5 1827.0,342.1 1827.3,342.3 1827.3,341.5 1827.7,344.7 1828.0,351.9 1828.3,361.0 1828.7,369.5 1828.7,369.7 1829.0,377.9 1829.3,387.5 1829.7,396.9 1830.0,404.8 1830.2,408.3 1830.3,409.0 1830.7,413.0 1831.0,416.5 1831.3,419.1 1831.7,420.8 1832.0,422.8 1832.2,423.3 1832.3,423.5 1832.7,425.1 1833.0,426.0 1833.3,426.0 1833.7,426.5 1834.0,426.8 1834.3,427.0 1834.7,429.4 1834.8,430.1 1835.0,428.4 1835.3,429.0 1835.7,427.4 1836.0,427.6 1836.3,428.0 1836.7,427.3 1837.0,426.7 1837.3,425.2 1837.7,425.0 1838.0,425.3 1838.3,424.9 1838.7,424.9 1838.7,424.5 1839.0,424.6 1839.3,424.6 1839.7,424.7 1840.0,424.1 1840.3,423.4 1840.7,423.3 1841.0,423.8 1841.3,422.8 1841.7,421.9 1841.8,421.7 1842.0,421.9 1842.3,420.5 1842.7,418.7 1843.0,415.9 1843.3,413.9 1843.7,411.0 1844.0,408.8 1844.1,407.9 1844.3,406.9 1844.7,404.7 1845.0,402.0 1845.3,399.7 1845.7,397.5 1846.0,397.3 1846.1,396.9 1846.3,397.3 1846.7,399.1 1847.0,401.9 1847.3,405.4 1847.7,408.8 1848.0,411.5 1848.0,411.3 1848.3,413.6 1848.7,415.6 1849.0,417.7 1849.3,419.3 1849.7,421.7 1850.0,423.1 1850.3,424.5 1850.3,423.5 1850.7,424.6 1851.0,424.8 1851.3,426.0 1851.7,426.5 1852.0,427.5 1852.3,427.5 1852.7,428.5 1853.0,428.0 1853.3,429.2 1853.4,428.5 1853.7,428.3 1854.0,428.2 1854.3,427.7 1854.7,426.0 1855.0,425.0 1855.3,425.0 1855.7,424.0 1855.7,422.9 1856.0,422.4 1856.3,421.8 1856.7,421.2 1857.0,420.2 1857.3,420.0 1857.7,420.2 1857.7,421.4 1858.0,418.3 1858.3,419.8 1858.7,421.1 1859.0,420.9 1859.3,421.6 1859.6,422.9 1859.7,423.5 1860.0,424.2 1860.3,423.1 1860.7,423.9 1861.0,424.8 1861.1,424.5 1861.3,425.1 1861.7,424.3 1862.0,423.8 1862.3,421.8 1862.7,420.7 1863.0,419.7 1863.3,420.2 1863.4,418.3 1863.7,419.6 1864.0,419.1 1864.3,419.3 1864.7,421.3 1865.0,421.8 1865.3,423.1 1865.7,423.4 1865.7,423.9 1866.0,424.4 1866.3,425.8 1866.7,426.9 1867.0,429.1 1867.3,429.0 1867.7,431.4 1867.8,429.9 1868.0,430.8 1868.3,430.0 1868.7,430.0 1869.0,430.6 1869.3,429.3 1869.7,428.2 1870.0,428.8 1870.3,428.8 1870.4,426.6 1870.7,428.6 1871.0,428.0 1871.3,425.8 1871.7,425.8 1872.0,425.5 1872.3,423.7 1872.7,423.4 1873.0,423.0 1873.3,423.6 1873.5,424.3 1873.7,423.3 1874.0,423.7 1874.3,424.7 1874.7,425.1 1875.0,425.5 1875.3,426.9 1875.5,425.5 1875.7,426.7 1876.0,426.9 1876.3,427.4 1876.7,428.4 1877.0,428.9 1877.3,431.1 1877.6,429.9 1877.7,429.5 1878.0,429.5 1878.3,427.8 1878.7,425.3 1879.0,424.1 1879.3,422.5 1879.6,420.4 1879.7,420.7 1880.0,418.7 1880.3,417.0 1880.7,414.5 1881.0,412.4 1881.3,411.1 1881.7,409.9 1881.7,410.4 1882.0,408.4 1882.3,406.8 1882.7,406.4 1883.0,405.2 1883.2,406.7 1883.3,404.9 1883.7,404.8 1884.0,406.6 1884.3,408.0 1884.7,409.3 1885.0,410.6 1885.1,410.9 1885.3,411.8 1885.7,412.6 1886.0,414.0 1886.3,414.6 1886.6,414.7 1886.7,414.6 1887.0,412.8 1887.3,411.6 1887.7,410.1 1888.0,408.8 1888.1,407.5 1888.3,407.2 1888.7,405.9 1889.0,405.1 1889.3,403.4 1889.7,402.3 1889.7,403.9 1890.0,403.6 1890.3,405.8 1890.7,409.3 1891.0,412.5 1891.3,415.9 1891.5,417.5 1891.7,418.5 1892.0,420.1 1892.3,422.1 1892.7,424.4 1893.0,426.2 1893.3,427.9 1893.7,428.9 1894.0,430.1 1894.0,430.2 1894.3,430.4 1894.7,430.0 1895.0,431.8 1895.3,430.4 1895.7,431.6 1896.0,432.7 1896.3,431.9 1896.7,433.7 1897.0,434.4 1897.3,434.4 1897.7,433.7 1898.0,434.3 1898.3,433.1 1898.7,434.0 1899.0,434.1 1899.0,433.8 1899.3,433.8 1899.7,433.4 1900.0,431.8 1900.3,433.5 1900.7,433.1 1901.0,434.0 1901.3,432.6 1901.7,431.7 1902.0,431.7 1902.3,431.0 1902.7,430.0 1903.0,429.2 1903.3,428.0 1903.6,428.4 1903.7,429.0 1904.0,426.4 1904.3,425.3 1904.7,424.1 1905.0,422.1 1905.3,420.3 1905.7,417.9 1905.9,417.3 1906.0,417.4 1906.3,416.1 1906.7,414.7 1907.0,413.0 1907.3,413.2 1907.5,411.7 1907.7,412.1 1908.0,412.4 1908.3,414.6 1908.7,414.0 1909.0,414.8 1909.3,413.6 1909.7,416.5 1909.8,415.9 1910.0,414.2 1910.3,413.4 1910.7,412.9 1911.0,410.1 1911.3,408.8 1911.6,406.4 1911.7,405.6 1912.0,404.5 1912.3,401.7 1912.7,399.3 1913.0,397.0 1913.3,396.0 1913.3,397.1 1913.7,397.0 1914.0,399.1 1914.3,402.9 1914.7,406.1 1915.0,409.8 1915.2,411.0 1915.3,412.2 1915.7,415.3 1916.0,418.2 1916.3,422.0 1916.7,424.1 1917.0,425.8 1917.2,427.7 1917.3,426.7 1917.7,427.0 1918.0,426.1 1918.3,425.8 1918.7,424.8 1919.0,424.5 1919.0,423.6 1919.3,422.5 1919.7,419.4 1920.0,416.6 1920.3,413.1 1920.6,413.0 1920.7,413.1 1921.0,412.8 1921.3,412.3 1921.7,413.3 1922.0,414.1 1922.1,411.6 1922.3,411.5 1922.7,413.8 1923.0,416.7 1923.3,419.7 1923.7,422.0 1923.7,422.5 1924.0,423.6 1924.3,425.4 1924.7,427.0 1925.0,428.0 1925.3,429.5 1925.7,432.0 1926.0,431.3 1926.0,430.7 1926.3,430.5 1926.7,433.1 1927.0,432.7 1927.3,432.9 1927.7,435.5 1928.0,435.2 1928.3,433.0 1928.7,434.4 1929.0,435.8 1929.1,435.7 1929.3,433.8 1929.7,436.3 1930.0,436.0 1930.3,433.3 1930.7,432.5 1931.0,432.5 1931.3,433.6 1931.7,433.5 1932.0,432.5 1932.3,431.6 1932.7,431.5 1932.9,431.5 1933.0,430.4 1933.3,429.7 1933.7,429.5 1934.0,428.8 1934.3,426.9 1934.7,425.3 1935.0,423.3 1935.3,422.4 1935.3,421.3 1935.7,419.7 1936.0,417.0 1936.3,414.6 1936.7,412.0 1936.8,411.5 1937.0,410.2 1937.3,407.9 1937.7,406.5 1938.0,405.2 1938.0,404.6 1938.3,405.8 1938.7,408.7 1939.0,411.7 1939.3,415.1 1939.6,417.2 1939.7,417.8 1940.0,419.9 1940.3,422.8 1940.7,423.9 1941.0,426.6 1941.3,428.0 1941.7,429.7 1941.9,428.8 1942.0,430.6 1942.3,429.4 1942.7,431.1 1943.0,431.3 1943.3,431.3 1943.7,430.9 1944.0,431.0 1944.3,431.9 1944.5,431.0 1944.7,430.0 1945.0,430.3 1945.3,432.0 1945.7,431.5 1946.0,430.8 1946.3,429.9 1946.7,429.4 1947.0,428.6 1947.3,427.7 1947.6,426.5 1947.7,426.5 1948.0,425.1 1948.3,423.7 1948.7,421.3 1949.0,419.2 1949.3,417.2 1949.7,414.5 1949.9,413.2 1950.0,413.1 1950.3,410.1 1950.7,408.2 1951.0,407.1 1951.3,405.2 1951.5,405.4 1951.7,405.1 1952.0,403.8 1952.3,404.2 1952.7,405.0 1952.7,404.2 1953.0,403.3 1953.3,405.1 1953.7,407.2 1954.0,410.1 1954.3,411.7 1954.6,412.6 1954.7,413.2 1955.0,414.5 1955.3,415.1 1955.7,416.3 1956.0,417.0 1956.3,418.0 1956.6,418.4 1956.7,417.5 1957.0,416.3 1957.3,414.9 1957.7,412.4 1958.0,410.7 1958.3,408.7 1958.4,408.1 1958.7,406.3 1959.0,406.6 1959.3,404.8 1959.7,403.4 1960.0,401.8 1960.3,401.3 1960.7,403.0 1960.8,400.0 1961.0,401.2 1961.3,402.9 1961.7,405.6 1962.0,409.0 1962.3,411.8 1962.6,414.4 1962.7,414.2 1963.0,417.2 1963.3,419.2 1963.7,421.0 1964.0,422.7 1964.3,425.2 1964.7,426.9 1965.0,427.5 1965.1,429.1 1965.3,429.0 1965.7,429.4 1966.0,429.7 1966.3,431.2 1966.7,431.8 1967.0,432.9 1967.3,433.7 1967.7,433.5 1968.0,434.2 1968.3,435.2 1968.7,434.8 1969.0,434.1 1969.3,435.0 1969.3,433.8 1969.7,434.6 1970.0,434.1 1970.3,433.1 1970.7,433.9 1971.0,433.0 1971.3,432.8 1971.7,431.0 1972.0,431.6 1972.3,430.8 1972.7,429.2 1973.0,428.6 1973.1,428.3 1973.3,427.7 1973.7,426.9 1974.0,424.9 1974.3,423.2 1974.7,421.7 1975.0,420.4 1975.3,417.7 1975.7,415.5 1975.9,414.0 1976.0,413.7 1976.3,411.3 1976.7,407.9 1977.0,404.9 1977.3,402.0 1977.7,399.5 1977.8,398.8 1978.0,397.6 1978.3,395.4 1978.7,393.3 1979.0,395.3 1979.0,391.7 1979.3,394.0 1979.7,397.8 1980.0,401.8 1980.3,405.9 1980.5,408.2 1980.7,409.5 1981.0,412.6 1981.3,415.9 1981.7,419.1 1982.0,422.1 1982.3,424.5 1982.7,426.9 1982.7,426.7 1983.0,427.9 1983.3,428.7 1983.7,430.5 1984.0,430.3 1984.3,432.2 1984.7,433.2 1985.0,433.2 1985.3,433.6 1985.7,435.1 1986.0,434.6 1986.2,434.7 1986.3,435.6 1986.7,434.8 1987.0,435.9 1987.3,438.0 1987.7,435.8 1988.0,437.1 1988.3,435.4 1988.7,436.5 1989.0,436.2 1989.3,436.4 1989.7,437.3 1990.0,438.8 1990.1,436.6 1990.3,437.9 1990.7,436.8 1991.0,436.8 1991.3,435.5 1991.7,435.0 1992.0,435.0 1992.3,434.3 1992.7,434.4 1993.0,433.3 1993.3,433.6 1993.7,433.2 1994.0,433.7 1994.3,433.1 1994.7,431.8 1994.7,431.1 1995.0,431.3 1995.3,430.6 1995.7,429.2 1996.0,427.9 1996.3,426.3 1996.7,425.7 1997.0,425.0 1997.3,422.8 1997.7,421.4 1997.8,420.5 1998.0,419.8 1998.3,417.7 1998.7,414.4 1999.0,412.0 1999.3,409.1 1999.7,406.1 2000.0,403.6 2000.2,402.0 2000.3,400.9 2000.7,398.1 2001.0,394.6 2001.3,391.9 2001.7,389.6 2002.0,388.8 2002.2,386.3 2002.3,387.4 2002.7,389.1 2003.0,391.1 2003.3,393.1 2003.7,394.9 2004.0,397.7 2004.3,399.0 2004.3,398.7 2004.7,400.5 2005.0,402.1 2005.3,402.9 2005.7,403.5 2006.0,405.0 2006.3,406.4 2006.3,406.8 2006.7,406.9 2007.0,408.4 2007.3,408.7 2007.7,410.4 2007.9,410.8 2008.0,411.7 2008.3,413.7 2008.7,416.6 2009.0,419.1 2009.3,421.0 2009.4,422.6 2009.7,423.5 2010.0,424.5 2010.3,425.3 2010.7,427.2 2011.0,427.2 2011.3,428.3 2011.7,429.4 2011.7,428.6 2012.0,429.1 2012.3,427.3 2012.7,426.0 2013.0,424.6 2013.3,422.7 2013.6,421.6 2013.7,422.2 2014.0,419.8 2014.3,419.4 2014.7,417.8 2015.0,417.4 2015.3,417.5 2015.3,417.2 2015.7,418.0 2016.0,419.5 2016.3,422.4 2016.7,425.5 2017.0,427.4 2017.1,428.8 2017.3,429.3 2017.7,430.0 2018.0,430.8 2018.3,431.5 2018.7,434.3 2019.0,433.5 2019.3,434.3 2019.7,436.1 2020.0,436.3 2020.2,436.3 2020.3,436.2 2020.7,435.9 2021.0,435.6 2021.3,435.8 2021.7,437.0 2022.0,437.5 2022.3,437.8 2022.7,436.9 2023.0,435.1 2023.3,437.7 2023.7,437.3 2024.0,435.2 2024.3,439.1 2024.7,438.2 2025.0,438.1 2025.3,438.5 2025.7,438.5 2026.0,438.7 2026.3,438.6 2026.7,438.5 2027.0,439.1 2027.2,438.8 2027.3,440.7 2027.7,438.2 2028.0,437.4 2028.3,437.0 2028.7,437.4 2029.0,436.8 2029.3,436.5 2029.7,435.8 2030.0,435.5 2030.3,435.7 2030.7,435.8 2031.0,434.8 2031.1,434.4 2031.3,433.5 2031.7,433.0 2032.0,433.3 2032.3,432.6 2032.7,432.1 2033.0,430.9 2033.3,431.1 2033.7,429.3 2034.0,429.5 2034.1,429.6 2034.3,430.7 2034.7,429.4 2035.0,428.9 2035.3,429.9 2035.7,429.4 2036.0,430.4 2036.3,429.8 2036.7,429.7 2037.0,429.3 2037.3,430.1 2037.7,428.8 2038.0,428.1 2038.0,430.4 2038.3,429.2 2038.7,429.3 2039.0,429.2 2039.3,428.8 2039.7,426.0 2040.0,426.2 2040.3,426.4 2040.7,424.0 2041.0,424.1 2041.1,423.4 2041.3,422.4 2041.7,421.4 2042.0,419.4 2042.3,418.7 2042.7,417.7 2043.0,415.4 2043.3,415.1 2043.4,416.9 2043.7,416.4 2044.0,417.4 2044.3,419.7 2044.7,420.4 2045.0,422.0 2045.0,422.2 2045.3,422.9 2045.7,424.3 2046.0,423.6 2046.3,425.0 2046.5,424.3 2046.7,425.6 2047.0,424.3 2047.3,421.9 2047.7,419.5 2048.0,417.4 2048.3,415.0 2048.5,414.1 2048.7,413.6 2049.0,411.4 2049.3,410.2 2049.7,407.9 2050.0,406.5 2050.2,405.6 2050.3,406.4 2050.7,408.2 2051.0,410.1 2051.3,412.7 2051.7,415.0 2051.9,416.0 2052.0,415.8 2052.3,417.4 2052.7,418.8 2053.0,419.4 2053.3,421.4 2053.7,421.6 2054.0,422.7 2054.2,422.5 2054.3,423.5 2054.7,424.0 2055.0,421.1 2055.3,420.5 2055.7,420.0 2056.0,417.5 2056.3,416.6 2056.5,416.1 2056.7,416.0 2057.0,414.2 2057.3,414.1 2057.7,413.3 2058.0,413.5 2058.3,411.5 2058.7,410.7 2059.0,411.3 2059.0,408.6 2059.3,411.4 2059.7,412.4 2060.0,412.3 2060.3,413.2 2060.7,414.2 2061.0,415.5 2061.2,415.5 2061.3,417.1 2061.7,417.8 2062.0,419.6 2062.3,422.2 2062.7,423.5 2063.0,425.0 2063.3,427.1 2063.5,426.8 2063.7,427.4 2064.0,427.1 2064.3,426.8 2064.7,428.4 2065.0,429.7 2065.3,428.4 2065.5,429.2 2065.7,429.4 2066.0,428.8 2066.3,428.3 2066.7,428.2 2067.0,427.4 2067.3,426.5 2067.7,427.8 2067.7,427.6 2068.0,427.4 2068.3,428.4 2068.7,428.3 2069.0,430.8 2069.3,432.2 2069.7,432.4 2070.0,435.4 2070.1,434.6 2070.3,434.2 2070.7,434.5 2071.0,435.3 2071.3,435.3 2071.7,434.3 2072.0,435.4 2072.3,436.3 2072.7,436.5 2073.0,436.8 2073.3,435.0 2073.5,435.3 2073.7,436.3 2074.0,435.3 2074.3,435.7 2074.7,434.6 2075.0,435.0 2075.3,434.1 2075.7,433.8 2076.0,432.8 2076.3,431.6 2076.6,430.7 2076.7,431.3 2077.0,430.2 2077.3,428.8 2077.7,428.1 2078.0,427.6 2078.3,426.8 2078.7,425.7 2079.0,425.6 2079.3,424.2 2079.4,424.4 2079.7,424.1 2080.0,425.2 2080.3,427.3 2080.7,428.2 2081.0,429.5 2081.3,431.3 2081.3,431.1 2081.7,430.2 2082.0,431.8 2082.3,431.5 2082.7,433.2 2083.0,431.9 2083.3,432.9 2083.7,433.3 2084.0,435.9 2084.3,432.5 2084.4,435.3 2084.7,435.0 2085.0,433.9 2085.3,434.0 2085.7,434.6 2086.0,432.6 2086.3,431.7 2086.7,432.1 2087.0,431.1 2087.3,429.4 2087.4,429.9 2087.7,429.5 2088.0,427.9 2088.3,426.9 2088.7,425.7 2089.0,424.1 2089.3,423.3 2089.7,421.7 2090.0,419.3 2090.2,418.9 2090.3,418.7 2090.7,416.4 2091.0,414.6 2091.3,412.5 2091.7,409.7 2092.0,408.1 2092.3,405.6 2092.7,405.8 2093.0,404.6 2093.0,403.9 2093.3,404.9 2093.7,406.9 2094.0,410.2 2094.3,412.6 2094.7,415.5 2095.0,418.0 2095.2,418.6 2095.3,420.1 2095.7,420.7 2096.0,423.5 2096.3,424.5 2096.7,426.2 2097.0,427.5 2097.3,428.6 2097.5,427.6 2097.7,428.9 2098.0,428.8 2098.3,429.1 2098.7,429.3 2099.0,430.6 2099.3,430.4 2099.7,431.3 2100.0,431.3 2100.3,429.0 2100.7,430.7 2101.0,431.8 2101.3,430.1 2101.7,429.3 2102.0,428.6 2102.1,432.8 2102.3,430.2 2102.7,430.7 2103.0,429.4 2103.3,429.5 2103.7,429.5 2104.0,427.1 2104.3,427.5 2104.4,426.9 2104.7,425.8 2105.0,426.5 2105.3,427.1 2105.7,428.1 2106.0,428.0 2106.3,426.7 2106.7,425.1 2107.0,427.4 2107.3,426.8 2108.2,426.8"/>
<polyline clip-path="url(#cp2)" fill="none" stroke="#000000" stroke-width="2.9" stroke-linejoin="round" stroke-linecap="round" points="1464.0,856.4 1464.3,856.4 1464.7,857.0 1465.0,854.2 1465.3,856.0 1465.7,856.9 1466.0,857.3 1466.3,857.0 1466.7,857.8 1467.0,857.2 1467.3,857.6 1467.7,857.5 1468.0,856.8 1468.3,857.1 1468.7,858.0 1469.0,857.5 1469.3,858.9 1469.3,859.0 1469.7,859.5 1470.0,858.5 1470.3,859.7 1470.7,858.3 1471.0,858.5 1471.3,859.2 1471.7,859.4 1472.0,858.1 1472.3,858.0 1472.7,859.5 1473.0,858.6 1473.3,860.2 1473.7,859.7 1474.0,859.8 1474.3,860.0 1474.7,860.7 1475.0,860.2 1475.3,861.2 1475.4,860.2 1475.7,860.5 1476.0,860.4 1476.3,861.3 1476.7,861.1 1477.0,860.8 1477.3,862.7 1477.7,861.5 1478.0,861.9 1478.3,862.5 1478.7,863.6 1479.0,862.8 1479.3,863.7 1479.7,863.6 1480.0,862.8 1480.3,864.5 1480.7,864.8 1481.0,864.2 1481.3,864.4 1481.6,863.5 1481.7,863.4 1482.0,864.3 1482.3,865.0 1482.7,864.2 1483.0,864.8 1483.3,865.3 1483.7,864.8 1484.0,865.3 1484.3,866.1 1484.7,864.3 1485.0,865.9 1485.3,864.0 1485.7,865.9 1486.0,865.8 1486.3,865.2 1486.7,864.8 1487.0,865.5 1487.3,865.2 1487.7,865.4 1488.0,864.5 1488.3,865.5 1488.7,864.2 1489.0,864.8 1489.3,864.8 1489.7,866.1 1490.0,864.1 1490.3,865.1 1490.7,866.5 1490.9,865.2 1491.0,864.8 1491.3,866.1 1491.7,865.6 1492.0,866.4 1492.3,864.9 1492.7,865.5 1493.0,865.7 1493.3,865.8 1493.7,864.1 1494.0,865.8 1494.3,864.1 1494.7,863.6 1495.0,863.9 1495.3,864.7 1495.5,864.2 1495.7,864.7 1496.0,864.6 1496.3,864.4 1496.7,863.8 1497.0,865.3 1497.3,862.2 1497.7,862.5 1497.9,863.6 1498.0,863.6 1498.3,864.7 1498.7,867.0 1499.0,868.8 1499.3,868.9 1499.4,870.5 1499.7,871.1 1500.0,871.4 1500.3,870.8 1500.7,871.5 1501.0,871.0 1501.3,872.1 1501.7,871.7 1502.0,872.5 1502.3,872.1 1502.7,873.1 1503.0,873.0 1503.3,873.3 1503.7,871.4 1504.0,871.3 1504.3,873.0 1504.7,872.4 1505.0,873.1 1505.3,873.1 1505.7,873.1 1506.0,873.7 1506.3,873.5 1506.3,873.4 1506.7,872.6 1507.0,874.5 1507.3,873.5 1507.7,874.3 1508.0,874.0 1508.3,874.8 1508.7,874.2 1509.0,874.5 1509.3,874.6 1509.7,874.1 1510.0,874.3 1510.3,874.7 1510.7,874.8 1511.0,874.3 1511.3,876.8 1511.7,874.6 1512.0,875.3 1512.3,877.4 1512.7,875.4 1513.0,876.5 1513.3,876.5 1513.7,876.1 1514.0,875.3 1514.1,875.2 1514.3,876.4 1514.7,876.8 1515.0,875.1 1515.3,876.9 1515.7,876.5 1516.0,877.8 1516.3,877.4 1516.7,876.9 1517.0,877.4 1517.3,877.9 1517.7,879.0 1518.0,880.3 1518.3,878.6 1518.7,878.6 1519.0,879.1 1519.3,878.7 1519.7,879.3 1520.0,879.2 1520.3,878.9 1520.7,878.3 1521.0,879.0 1521.3,879.6 1521.7,879.0 1522.0,880.1 1522.3,879.8 1522.7,879.1 1523.0,880.6 1523.3,878.7 1523.7,880.5 1524.0,881.2 1524.3,879.8 1524.7,880.1 1524.9,881.0 1525.0,881.5 1525.3,880.9 1525.7,880.9 1526.0,881.5 1526.3,881.1 1526.7,880.2 1527.0,881.0 1527.3,881.2 1527.7,880.3 1528.0,881.7 1528.3,880.9 1528.7,882.0 1529.0,880.5 1529.3,881.0 1529.7,880.7 1530.0,882.7 1530.3,882.8 1530.7,883.1 1531.0,883.2 1531.3,882.9 1531.7,883.0 1532.0,881.3 1532.3,882.9 1532.7,882.4 1533.0,882.6 1533.3,882.1 1533.7,884.2 1534.0,883.5 1534.3,882.4 1534.7,884.0 1535.0,883.5 1535.3,882.7 1535.7,883.2 1535.7,882.7 1536.0,881.4 1536.3,882.0 1536.7,883.6 1537.0,883.4 1537.3,883.4 1537.7,882.2 1538.0,882.7 1538.3,883.1 1538.7,883.5 1539.0,882.1 1539.3,881.8 1539.7,883.4 1540.0,882.6 1540.3,882.2 1540.7,882.0 1541.0,882.2 1541.3,884.0 1541.7,883.6 1542.0,882.6 1542.3,882.0 1542.7,884.2 1543.0,884.2 1543.3,883.9 1543.4,883.6 1543.7,881.5 1544.0,881.9 1544.3,883.4 1544.7,882.8 1545.0,883.2 1545.3,882.6 1545.7,882.4 1546.0,883.2 1546.3,882.4 1546.7,882.5 1547.0,882.5 1547.3,882.3 1547.7,882.8 1548.0,882.9 1548.1,880.9 1548.3,881.6 1548.7,881.1 1549.0,881.4 1549.3,879.9 1549.7,880.1 1550.0,879.2 1550.3,878.3 1550.7,876.8 1551.0,876.0 1551.2,875.2 1551.3,875.1 1551.7,873.8 1552.0,871.4 1552.3,869.5 1552.7,867.2 1553.0,864.5 1553.3,861.9 1553.5,860.3 1553.7,858.4 1554.0,853.8 1554.3,849.0 1554.7,843.7 1555.0,839.1 1555.0,838.8 1555.3,834.0 1555.7,829.3 1556.0,826.3 1556.1,827.1 1556.3,827.1 1556.7,829.7 1557.0,832.5 1557.3,834.5 1557.3,834.8 1557.7,834.9 1558.0,834.3 1558.3,835.1 1558.7,836.8 1558.9,835.0 1559.0,836.0 1559.3,833.8 1559.7,830.2 1560.0,827.3 1560.1,826.0 1560.3,824.9 1560.7,822.1 1561.0,820.1 1561.0,820.6 1561.3,822.4 1561.7,827.1 1562.0,833.5 1562.3,838.8 1562.3,839.6 1562.7,847.3 1563.0,856.1 1563.3,863.6 1563.5,866.5 1563.7,868.3 1564.0,872.4 1564.3,875.6 1564.7,878.3 1565.0,879.5 1565.1,880.0 1565.3,880.9 1565.7,882.7 1566.0,883.2 1566.3,883.2 1566.7,885.1 1567.0,885.9 1567.3,886.5 1567.7,884.3 1568.0,886.1 1568.1,886.6 1568.3,886.3 1568.7,885.6 1569.0,884.5 1569.3,885.2 1569.7,885.0 1570.0,885.3 1570.3,885.0 1570.5,884.5 1570.7,884.9 1571.0,883.3 1571.3,882.4 1571.7,881.4 1572.0,880.7 1572.3,879.7 1572.5,880.7 1572.7,880.2 1573.0,881.6 1573.3,884.3 1573.7,886.4 1574.0,887.7 1574.0,887.5 1574.3,889.3 1574.7,889.5 1575.0,888.6 1575.3,890.4 1575.7,890.7 1576.0,890.1 1576.3,890.8 1576.7,892.1 1577.0,891.0 1577.3,891.3 1577.4,891.8 1577.7,890.6 1578.0,890.6 1578.3,890.7 1578.7,891.7 1579.0,892.4 1579.3,891.4 1579.7,891.1 1580.0,892.3 1580.3,892.0 1580.7,892.9 1581.0,892.5 1581.3,892.7 1581.7,892.9 1582.0,893.1 1582.3,892.5 1582.7,892.4 1583.0,894.6 1583.3,895.8 1583.6,894.3 1583.7,892.2 1584.0,893.4 1584.3,894.1 1584.7,892.1 1585.0,892.6 1585.3,892.4 1585.7,891.8 1586.0,891.5 1586.3,892.3 1586.7,891.2 1587.0,891.1 1587.3,892.3 1587.5,890.4 1587.7,889.6 1588.0,891.5 1588.3,892.5 1588.7,891.1 1589.0,891.1 1589.3,889.8 1589.7,889.9 1590.0,891.6 1590.3,891.3 1590.7,890.6 1591.0,889.5 1591.3,888.9 1591.3,889.0 1591.7,889.1 1592.0,890.6 1592.3,890.0 1592.7,890.5 1593.0,891.5 1593.3,891.9 1593.7,892.0 1594.0,892.6 1594.3,892.7 1594.7,892.0 1595.0,893.4 1595.3,893.5 1595.7,893.8 1596.0,894.5 1596.0,894.0 1596.3,895.4 1596.7,894.6 1597.0,894.9 1597.3,895.1 1597.7,894.8 1598.0,895.4 1598.3,895.5 1598.7,895.3 1599.0,894.2 1599.3,894.0 1599.7,894.2 1599.8,894.6 1600.0,893.1 1600.3,893.9 1600.7,893.6 1601.0,893.9 1601.3,893.6 1601.7,894.6 1602.0,894.2 1602.3,894.4 1602.7,892.9 1603.0,892.8 1603.3,892.8 1603.7,893.7 1603.7,893.7 1604.0,892.0 1604.3,892.1 1604.7,891.9 1605.0,889.8 1605.3,889.2 1605.7,888.8 1606.0,887.6 1606.3,885.9 1606.7,886.0 1606.8,885.5 1607.0,884.7 1607.3,883.0 1607.7,882.5 1608.0,882.2 1608.3,881.1 1608.6,880.9 1608.7,880.3 1609.0,881.0 1609.3,879.8 1609.7,880.4 1610.0,879.8 1610.3,878.7 1610.6,879.6 1610.7,878.2 1611.0,877.7 1611.3,876.4 1611.7,874.1 1612.0,871.6 1612.3,869.2 1612.6,866.3 1612.7,866.2 1613.0,862.6 1613.3,857.8 1613.7,851.8 1614.0,845.7 1614.2,841.8 1614.3,838.8 1614.7,830.8 1615.0,822.3 1615.3,813.4 1615.4,810.9 1615.7,803.9 1616.0,793.4 1616.3,783.9 1616.5,779.9 1616.7,776.9 1617.0,770.7 1617.3,765.1 1617.7,760.8 1618.0,758.5 1618.2,757.3 1618.3,758.5 1618.7,762.4 1619.0,769.1 1619.3,777.3 1619.4,780.1 1619.7,787.5 1620.0,802.9 1620.3,817.3 1620.4,818.6 1620.7,827.6 1621.0,836.8 1621.3,845.0 1621.7,852.3 1621.9,857.2 1622.0,858.9 1622.3,865.4 1622.7,871.2 1623.0,876.6 1623.3,881.1 1623.7,884.3 1623.8,885.5 1624.0,886.4 1624.3,888.2 1624.7,889.8 1625.0,891.7 1625.3,892.5 1625.7,893.4 1626.0,893.8 1626.1,893.6 1626.3,894.7 1626.7,893.8 1627.0,896.4 1627.3,893.5 1627.7,894.5 1628.0,895.7 1628.3,896.1 1628.7,895.8 1629.0,896.4 1629.3,896.5 1629.7,896.6 1630.0,897.0 1630.3,896.9 1630.7,896.7 1631.0,896.7 1631.3,897.5 1631.5,896.7 1631.7,897.3 1632.0,897.9 1632.3,896.9 1632.7,897.1 1633.0,895.8 1633.3,895.9 1633.7,895.8 1634.0,895.3 1634.3,895.3 1634.6,896.0 1634.7,894.5 1635.0,894.2 1635.3,895.0 1635.7,893.9 1636.0,895.1 1636.3,896.1 1636.7,895.7 1637.0,896.3 1637.3,896.4 1637.7,897.1 1638.0,896.9 1638.3,896.9 1638.7,894.8 1639.0,896.7 1639.2,897.7 1639.3,897.2 1639.7,896.9 1640.0,898.2 1640.3,897.1 1640.7,897.7 1641.0,898.6 1641.3,897.9 1641.7,898.5 1642.0,898.5 1642.3,897.7 1642.7,898.3 1643.0,898.5 1643.3,898.3 1643.7,899.6 1644.0,898.8 1644.3,898.3 1644.7,897.7 1645.0,898.4 1645.3,899.5 1645.7,898.2 1646.0,898.9 1646.3,898.6 1646.7,897.9 1647.0,897.7 1647.3,899.0 1647.7,897.5 1648.0,899.4 1648.3,898.3 1648.5,900.0 1648.7,899.1 1649.0,899.4 1649.3,900.3 1649.7,898.7 1650.0,899.4 1650.3,899.1 1650.7,899.6 1651.0,899.7 1651.3,899.2 1651.7,899.1 1652.0,898.5 1652.3,899.3 1652.7,898.6 1653.0,898.9 1653.3,899.0 1653.7,897.9 1654.0,898.2 1654.3,899.4 1654.7,899.4 1654.7,900.6 1655.0,897.9 1655.3,899.7 1655.7,900.0 1656.0,899.1 1656.3,899.1 1656.7,898.3 1657.0,897.9 1657.3,898.0 1657.7,896.4 1658.0,895.5 1658.3,896.8 1658.7,896.3 1659.0,896.1 1659.3,896.2 1659.3,896.4 1659.7,895.6 1660.0,896.4 1660.3,896.5 1660.7,895.7 1661.0,896.6 1661.3,897.1 1661.7,896.7 1662.0,898.0 1662.3,897.3 1662.7,898.1 1663.0,898.7 1663.3,896.8 1663.7,897.0 1663.9,898.5 1664.0,898.0 1664.3,898.6 1664.7,899.7 1665.0,898.1 1665.3,899.2 1665.7,898.4 1666.0,898.2 1666.3,899.2 1666.7,899.1 1667.0,899.8 1667.3,899.3 1667.7,899.8 1668.0,899.7 1668.3,898.0 1668.7,899.2 1669.0,899.3 1669.3,900.3 1669.7,898.9 1670.0,899.8 1670.3,899.3 1670.7,898.1 1671.0,899.3 1671.3,899.8 1671.7,898.9 1671.7,899.8 1672.0,899.2 1672.3,898.9 1672.7,898.2 1673.0,898.2 1673.3,898.4 1673.7,897.9 1674.0,896.9 1674.3,897.2 1674.7,897.2 1675.0,897.3 1675.3,896.7 1675.7,895.3 1676.0,895.8 1676.3,894.2 1676.3,894.7 1676.7,894.2 1677.0,894.9 1677.3,893.9 1677.7,893.1 1678.0,892.1 1678.3,892.2 1678.7,890.8 1679.0,890.3 1679.3,889.7 1679.7,888.2 1680.0,887.5 1680.2,886.0 1680.3,886.3 1680.7,884.4 1681.0,883.7 1681.3,882.1 1681.7,880.4 1682.0,878.9 1682.3,875.6 1682.7,873.8 1682.8,872.6 1683.0,870.9 1683.3,866.9 1683.7,862.1 1684.0,856.5 1684.3,850.5 1684.7,844.3 1684.8,841.6 1685.0,837.5 1685.3,829.1 1685.7,820.2 1686.0,811.6 1686.0,810.9 1686.3,804.2 1686.7,797.5 1687.0,790.5 1687.3,782.3 1687.4,780.0 1687.7,772.8 1688.0,761.9 1688.3,749.6 1688.7,736.6 1689.0,722.6 1689.3,708.0 1689.7,693.2 1690.0,678.2 1690.3,663.3 1690.4,659.9 1690.7,647.0 1691.0,626.8 1691.3,605.2 1691.7,584.7 1692.0,567.9 1692.3,557.3 1692.6,554.4 1692.7,555.5 1693.0,569.7 1693.3,595.9 1693.7,627.9 1694.0,659.3 1694.0,660.0 1694.3,695.6 1694.7,737.8 1695.0,771.5 1695.1,779.9 1695.3,786.7 1695.7,795.7 1696.0,802.0 1696.1,803.2 1696.3,807.2 1696.7,811.8 1697.0,814.7 1697.1,814.2 1697.3,814.5 1697.7,810.9 1698.0,806.3 1698.3,801.1 1698.4,800.2 1698.7,795.1 1699.0,788.0 1699.3,781.9 1699.5,780.1 1699.7,778.1 1700.0,775.8 1700.3,773.3 1700.7,771.4 1701.0,770.8 1701.0,773.0 1701.3,771.8 1701.7,774.1 1702.0,777.1 1702.2,780.1 1702.3,781.6 1702.7,798.4 1703.0,817.6 1703.0,818.7 1703.3,830.1 1703.7,841.4 1704.0,851.2 1704.3,858.9 1704.4,860.4 1704.7,864.4 1705.0,869.7 1705.3,874.0 1705.7,878.0 1706.0,881.3 1706.3,883.6 1706.4,883.8 1706.7,884.8 1707.0,885.2 1707.3,886.5 1707.7,888.0 1708.0,889.3 1708.3,889.2 1708.7,889.1 1709.0,889.4 1709.3,890.9 1709.5,891.0 1709.7,889.7 1710.0,890.8 1710.3,891.8 1710.7,892.1 1711.0,891.1 1711.3,891.5 1711.7,892.0 1712.0,891.1 1712.3,890.7 1712.7,891.5 1713.0,893.0 1713.3,893.0 1713.4,892.5 1713.7,891.3 1714.0,890.7 1714.3,891.3 1714.7,891.9 1715.0,892.4 1715.3,890.9 1715.7,891.2 1716.0,889.7 1716.3,889.1 1716.7,889.8 1717.0,888.7 1717.3,888.3 1717.7,887.2 1718.0,888.3 1718.0,887.0 1718.3,887.5 1718.7,886.2 1719.0,885.8 1719.3,885.5 1719.7,883.9 1720.0,882.6 1720.3,881.4 1720.7,879.6 1720.8,879.2 1721.0,877.3 1721.3,875.1 1721.7,871.5 1722.0,867.6 1722.3,864.0 1722.6,860.4 1722.7,860.1 1723.0,856.2 1723.3,851.3 1723.7,846.9 1724.0,843.3 1724.2,842.0 1724.3,840.9 1724.7,838.5 1725.0,836.6 1725.3,836.2 1725.3,836.8 1725.7,838.7 1726.0,843.4 1726.3,848.7 1726.5,851.1 1726.7,853.0 1727.0,857.5 1727.3,862.0 1727.7,866.4 1728.0,870.3 1728.3,874.4 1728.5,875.8 1728.7,877.1 1729.0,879.6 1729.3,882.2 1729.7,884.2 1730.0,886.1 1730.3,887.4 1730.7,888.3 1730.7,888.5 1731.0,888.8 1731.3,890.1 1731.7,891.1 1732.0,891.6 1732.3,891.9 1732.7,891.8 1733.0,892.0 1733.3,892.2 1733.5,892.4 1733.7,892.9 1734.0,892.6 1734.3,892.1 1734.7,891.6 1735.0,889.9 1735.3,889.4 1735.7,888.7 1735.8,888.4 1736.0,887.1 1736.3,885.4 1736.7,883.8 1737.0,881.8 1737.3,880.3 1737.3,880.0 1737.7,878.7 1738.0,878.1 1738.3,877.7 1738.6,877.8 1738.7,878.1 1739.0,879.2 1739.3,881.8 1739.7,883.8 1739.9,885.3 1740.0,885.3 1740.3,885.5 1740.7,886.6 1741.0,887.7 1741.3,888.7 1741.7,889.5 1742.0,890.6 1742.3,890.2 1742.4,890.0 1742.7,890.1 1743.0,888.7 1743.3,888.3 1743.7,886.9 1744.0,886.1 1744.3,884.5 1744.6,883.5 1744.7,883.8 1745.0,881.2 1745.3,878.4 1745.7,874.4 1746.0,870.4 1746.3,866.3 1746.6,863.5 1746.7,862.5 1747.0,858.8 1747.3,854.4 1747.7,850.0 1748.0,846.0 1748.3,842.6 1748.4,841.7 1748.7,840.0 1749.0,837.2 1749.3,835.4 1749.7,833.5 1750.0,832.3 1750.1,831.1 1750.3,830.3 1750.7,828.2 1751.0,827.2 1751.2,826.3 1751.3,826.7 1751.7,828.9 1752.0,832.0 1752.3,836.4 1752.7,840.5 1752.8,841.8 1753.0,844.7 1753.3,850.2 1753.7,856.4 1754.0,862.0 1754.3,866.7 1754.3,866.6 1754.7,870.6 1755.0,874.8 1755.3,877.9 1755.7,881.4 1756.0,884.4 1756.3,886.8 1756.6,887.9 1756.7,889.0 1757.0,889.6 1757.3,890.4 1757.7,892.4 1758.0,893.0 1758.3,894.2 1758.7,895.4 1759.0,895.5 1759.3,896.2 1759.7,897.1 1760.0,898.1 1760.3,897.3 1760.5,899.0 1760.7,898.5 1761.0,898.0 1761.3,898.9 1761.7,899.5 1762.0,900.1 1762.3,900.1 1762.7,900.5 1763.0,899.9 1763.3,900.6 1763.7,898.6 1764.0,901.1 1764.3,900.5 1764.7,901.7 1765.0,900.4 1765.3,900.6 1765.7,901.1 1766.0,901.8 1766.3,901.7 1766.7,902.4 1767.0,901.9 1767.3,902.8 1767.4,904.1 1767.7,903.0 1768.0,902.6 1768.3,901.2 1768.7,902.7 1769.0,903.1 1769.3,902.3 1769.7,903.3 1770.0,900.9 1770.3,902.1 1770.7,902.0 1771.0,903.1 1771.3,902.2 1771.7,902.1 1772.0,904.0 1772.3,901.9 1772.7,903.5 1773.0,904.0 1773.3,903.1 1773.7,902.7 1774.0,903.4 1774.3,903.2 1774.7,903.1 1775.0,903.9 1775.3,903.6 1775.7,906.0 1776.0,904.6 1776.3,903.6 1776.7,903.9 1777.0,904.8 1777.3,904.4 1777.7,903.5 1778.0,902.9 1778.3,904.9 1778.3,903.5 1778.7,903.8 1779.0,904.7 1779.3,903.8 1779.7,904.7 1780.0,903.5 1780.3,903.9 1780.7,903.7 1781.0,905.5 1781.3,902.8 1781.7,903.8 1782.0,903.3 1782.3,903.5 1782.7,903.0 1783.0,903.3 1783.3,904.8 1783.7,904.8 1784.0,903.0 1784.3,902.3 1784.7,902.7 1785.0,904.2 1785.3,902.8 1785.7,901.2 1786.0,903.4 1786.3,902.7 1786.7,903.2 1787.0,903.0 1787.3,901.7 1787.7,903.4 1788.0,903.1 1788.3,902.0 1788.7,900.8 1789.0,901.6 1789.3,901.6 1789.3,903.0 1789.7,902.0 1790.0,902.1 1790.3,902.6 1790.7,902.2 1791.0,902.9 1791.3,902.9 1791.7,903.4 1792.0,901.7 1792.3,902.9 1792.7,902.5 1793.0,904.3 1793.3,903.7 1793.7,902.2 1794.0,903.2 1794.3,901.0 1794.7,901.5 1795.0,902.1 1795.3,902.5 1795.7,901.4 1796.0,902.3 1796.3,903.2 1796.7,901.0 1797.0,901.2 1797.3,900.7 1797.7,903.0 1798.0,901.3 1798.3,901.8 1798.5,901.5 1798.7,902.1 1799.0,901.9 1799.3,902.2 1799.7,902.1 1800.0,902.8 1800.3,900.9 1800.7,901.3 1801.0,900.8 1801.3,900.0 1801.7,900.8 1802.0,901.1 1802.3,899.1 1802.7,900.8 1803.0,899.0 1803.2,898.9 1803.3,897.4 1803.7,898.5 1804.0,897.9 1804.3,897.3 1804.7,897.0 1805.0,896.0 1805.3,895.4 1805.7,894.1 1806.0,892.9 1806.3,892.3 1806.7,891.4 1807.0,890.2 1807.0,889.8 1807.3,888.4 1807.7,887.0 1808.0,885.0 1808.3,882.7 1808.7,880.8 1809.0,878.3 1809.3,875.7 1809.4,875.6 1809.7,873.1 1810.0,869.6 1810.3,865.5 1810.7,862.8 1810.9,861.8 1811.0,861.8 1811.3,860.5 1811.7,859.2 1812.0,858.9 1812.1,859.2 1812.3,859.3 1812.7,860.7 1813.0,862.7 1813.3,865.6 1813.7,866.4 1813.7,866.4 1814.0,867.6 1814.3,868.3 1814.7,869.1 1815.0,869.9 1815.3,869.8 1815.5,870.1 1815.7,870.7 1816.0,868.7 1816.3,865.4 1816.7,862.1 1817.0,858.1 1817.1,857.0 1817.3,854.6 1817.7,850.2 1818.0,845.6 1818.3,841.3 1818.6,839.0 1818.7,838.6 1819.0,836.1 1819.3,833.9 1819.7,832.1 1820.0,832.0 1820.2,830.3 1820.3,831.2 1820.7,833.7 1821.0,837.4 1821.3,841.6 1821.7,845.9 1821.7,846.5 1822.0,849.6 1822.3,854.1 1822.7,858.6 1823.0,861.9 1823.3,863.9 1823.3,863.9 1823.7,864.8 1824.0,866.2 1824.3,865.9 1824.7,867.8 1824.8,866.7 1825.0,867.4 1825.3,864.8 1825.7,862.0 1826.0,858.3 1826.3,854.4 1826.3,853.9 1826.7,849.0 1827.0,842.1 1827.3,835.0 1827.6,831.1 1827.7,830.3 1828.0,825.6 1828.3,822.0 1828.7,819.7 1829.0,818.9 1829.0,817.2 1829.3,820.8 1829.7,826.6 1830.0,833.6 1830.3,841.0 1830.4,841.9 1830.7,848.0 1831.0,856.1 1831.3,864.3 1831.7,870.9 1831.8,872.8 1832.0,876.5 1832.3,881.3 1832.7,885.4 1833.0,889.4 1833.3,891.3 1833.3,891.6 1833.7,893.0 1834.0,894.8 1834.3,896.6 1834.7,897.0 1835.0,898.1 1835.3,898.4 1835.7,900.2 1835.9,900.5 1836.0,899.5 1836.3,900.3 1836.7,899.8 1837.0,900.8 1837.3,898.5 1837.7,899.2 1838.0,898.5 1838.3,899.6 1838.7,898.6 1839.0,897.3 1839.3,898.0 1839.5,897.6 1839.7,897.0 1840.0,897.4 1840.3,896.8 1840.7,895.7 1841.0,895.5 1841.3,895.8 1841.7,895.0 1842.0,893.8 1842.3,893.0 1842.6,892.8 1842.7,892.4 1843.0,891.1 1843.3,890.9 1843.7,889.4 1844.0,889.0 1844.3,887.5 1844.7,886.2 1844.9,885.0 1845.0,884.7 1845.3,882.7 1845.7,880.7 1846.0,878.6 1846.3,877.6 1846.4,876.4 1846.7,876.4 1847.0,874.8 1847.3,873.2 1847.7,874.4 1847.7,873.6 1848.0,873.6 1848.3,875.8 1848.7,878.3 1849.0,881.1 1849.3,883.8 1849.5,885.1 1849.7,885.7 1850.0,887.5 1850.3,889.5 1850.7,890.8 1851.0,892.2 1851.3,893.2 1851.7,894.6 1851.8,894.8 1852.0,895.3 1852.3,896.4 1852.7,897.1 1853.0,897.3 1853.3,897.5 1853.7,898.3 1854.0,898.8 1854.3,899.0 1854.7,898.0 1854.9,899.3 1855.0,898.3 1855.3,898.8 1855.7,898.1 1856.0,897.0 1856.3,896.2 1856.7,894.6 1857.0,893.5 1857.2,892.3 1857.3,892.4 1857.7,891.3 1858.0,890.2 1858.3,888.9 1858.7,887.0 1859.0,887.4 1859.3,887.0 1859.6,885.0 1859.7,886.8 1860.0,887.6 1860.3,888.6 1860.7,889.9 1861.0,891.0 1861.3,891.7 1861.6,893.7 1861.7,892.6 1862.0,893.4 1862.3,892.0 1862.7,892.4 1863.0,892.1 1863.3,891.9 1863.4,890.5 1863.7,892.7 1864.0,891.2 1864.3,890.5 1864.7,890.6 1865.0,888.9 1865.3,890.8 1865.7,889.3 1865.7,889.7 1866.0,890.0 1866.3,890.1 1866.7,891.9 1867.0,893.9 1867.3,894.7 1867.7,896.3 1868.0,897.6 1868.1,898.0 1868.3,897.3 1868.7,898.8 1869.0,899.1 1869.3,899.5 1869.7,900.1 1870.0,900.4 1870.3,899.6 1870.7,900.8 1871.0,900.2 1871.3,900.9 1871.5,900.3 1871.7,901.4 1872.0,900.4 1872.3,899.3 1872.7,897.9 1873.0,897.0 1873.3,895.3 1873.7,894.1 1874.0,892.7 1874.2,893.0 1874.3,892.2 1874.7,891.9 1875.0,891.1 1875.3,890.2 1875.7,888.9 1876.0,889.3 1876.3,889.0 1876.6,887.4 1876.7,888.8 1877.0,888.2 1877.3,888.9 1877.7,890.0 1878.0,889.8 1878.3,890.8 1878.7,890.4 1878.9,890.5 1879.0,891.0 1879.3,890.3 1879.7,889.6 1880.0,889.4 1880.3,888.8 1880.7,887.0 1881.0,886.5 1881.2,886.7 1881.3,886.8 1881.7,885.3 1882.0,884.0 1882.3,883.6 1882.7,882.4 1883.0,882.2 1883.3,879.9 1883.5,880.9 1883.7,880.6 1884.0,878.4 1884.3,878.5 1884.7,878.3 1885.0,878.2 1885.3,877.9 1885.4,878.3 1885.7,878.1 1886.0,878.7 1886.3,880.9 1886.7,881.9 1887.0,882.6 1887.3,883.8 1887.4,883.5 1887.7,883.3 1888.0,883.1 1888.3,882.5 1888.7,882.6 1889.0,882.0 1889.3,881.2 1889.4,882.4 1889.7,881.5 1890.0,880.0 1890.3,878.2 1890.7,877.1 1890.9,878.4 1891.0,876.7 1891.3,878.2 1891.7,879.7 1892.0,882.0 1892.3,884.0 1892.5,885.0 1892.7,886.3 1893.0,888.9 1893.3,892.4 1893.7,894.9 1894.0,897.5 1894.3,899.6 1894.3,899.5 1894.7,899.5 1895.0,900.8 1895.3,901.7 1895.7,900.9 1896.0,903.5 1896.3,903.2 1896.7,903.1 1897.0,903.5 1897.3,902.5 1897.4,904.2 1897.7,904.9 1898.0,904.1 1898.3,905.4 1898.7,905.0 1899.0,904.0 1899.3,905.4 1899.7,903.8 1900.0,903.9 1900.3,905.9 1900.5,905.8 1900.7,905.4 1901.0,905.3 1901.3,904.2 1901.7,905.3 1902.0,904.3 1902.3,903.6 1902.7,904.6 1903.0,902.4 1903.3,901.4 1903.7,901.5 1904.0,899.9 1904.3,898.8 1904.4,899.5 1904.7,898.1 1905.0,896.8 1905.3,895.7 1905.7,894.4 1906.0,893.3 1906.3,892.0 1906.7,889.9 1907.0,889.6 1907.3,888.0 1907.5,887.9 1907.7,886.6 1908.0,888.0 1908.3,887.0 1908.7,886.1 1909.0,885.6 1909.3,886.0 1909.7,885.2 1909.8,882.9 1910.0,885.4 1910.3,885.2 1910.7,885.3 1911.0,885.1 1911.3,885.7 1911.6,884.3 1911.7,886.3 1912.0,884.1 1912.3,882.2 1912.7,880.1 1913.0,877.3 1913.3,875.5 1913.6,873.8 1913.7,873.7 1914.0,873.2 1914.3,872.0 1914.7,870.5 1915.0,870.0 1915.2,870.5 1915.3,871.5 1915.7,871.6 1916.0,873.6 1916.3,876.2 1916.7,878.5 1917.0,881.1 1917.2,882.4 1917.3,883.0 1917.7,884.6 1918.0,885.9 1918.3,887.9 1918.7,889.8 1919.0,891.6 1919.3,892.1 1919.7,892.0 1919.8,892.1 1920.0,892.2 1920.3,892.6 1920.7,890.2 1921.0,889.5 1921.3,887.8 1921.7,887.0 1921.8,886.5 1922.0,886.3 1922.3,884.9 1922.7,883.2 1923.0,881.6 1923.3,880.6 1923.7,881.8 1923.7,880.6 1924.0,880.9 1924.3,883.4 1924.7,886.7 1925.0,889.6 1925.2,891.0 1925.3,892.3 1925.7,893.8 1926.0,895.9 1926.3,897.8 1926.7,899.3 1927.0,900.7 1927.3,900.8 1927.5,902.3 1927.7,902.3 1928.0,902.7 1928.3,903.3 1928.7,905.0 1929.0,905.2 1929.3,905.0 1929.7,905.9 1930.0,904.9 1930.3,905.3 1930.6,905.9 1930.7,906.3 1931.0,906.1 1931.3,906.5 1931.7,905.0 1932.0,905.5 1932.3,903.9 1932.7,904.0 1933.0,902.7 1933.3,903.2 1933.7,901.7 1933.7,902.5 1934.0,900.6 1934.3,901.1 1934.7,899.3 1935.0,898.1 1935.3,896.5 1935.7,894.4 1936.0,893.0 1936.3,891.3 1936.3,891.3 1936.7,889.2 1937.0,887.2 1937.3,885.0 1937.7,883.0 1938.0,880.9 1938.3,878.7 1938.4,879.2 1938.7,878.3 1939.0,876.7 1939.3,875.2 1939.7,874.2 1939.9,874.2 1940.0,875.2 1940.3,875.8 1940.7,878.5 1941.0,882.6 1941.3,885.5 1941.4,886.6 1941.7,888.0 1942.0,890.8 1942.3,893.0 1942.7,895.3 1943.0,897.3 1943.3,899.7 1943.7,900.9 1943.8,900.3 1944.0,900.6 1944.3,901.4 1944.7,902.2 1945.0,901.9 1945.3,903.6 1945.7,903.1 1946.0,900.9 1946.1,902.1 1946.3,902.6 1946.7,904.0 1947.0,903.0 1947.3,901.8 1947.7,900.6 1948.0,900.3 1948.3,899.6 1948.7,898.5 1949.0,897.9 1949.2,897.6 1949.3,896.7 1949.7,895.3 1950.0,894.2 1950.3,892.1 1950.7,890.6 1951.0,889.4 1951.3,887.6 1951.5,886.5 1951.7,886.2 1952.0,884.6 1952.3,883.2 1952.7,882.0 1953.0,880.2 1953.3,878.9 1953.7,879.9 1953.8,878.0 1954.0,879.0 1954.3,879.4 1954.7,880.1 1955.0,881.6 1955.3,882.8 1955.7,883.9 1956.0,885.1 1956.1,884.7 1956.3,885.9 1956.7,885.5 1957.0,887.0 1957.3,887.7 1957.7,886.7 1958.0,888.7 1958.3,886.9 1958.4,887.3 1958.7,886.7 1959.0,886.0 1959.3,884.6 1959.7,882.6 1960.0,881.2 1960.3,879.1 1960.4,879.0 1960.7,877.8 1961.0,876.6 1961.3,875.7 1961.7,874.7 1962.0,873.7 1962.3,873.9 1962.3,874.0 1962.7,873.8 1963.0,875.2 1963.3,876.7 1963.7,878.7 1964.0,881.0 1964.3,883.3 1964.6,885.4 1964.7,885.4 1965.0,887.4 1965.3,889.3 1965.7,892.0 1966.0,894.7 1966.3,896.8 1966.7,898.3 1966.9,898.7 1967.0,898.4 1967.3,899.2 1967.7,900.7 1968.0,901.4 1968.3,902.7 1968.7,901.9 1969.0,902.9 1969.3,902.7 1969.7,903.4 1970.0,903.8 1970.3,903.6 1970.7,905.2 1970.8,903.2 1971.0,904.5 1971.3,903.5 1971.7,903.0 1972.0,903.4 1972.3,902.1 1972.7,901.9 1973.0,901.1 1973.3,900.6 1973.7,899.1 1973.9,899.1 1974.0,898.9 1974.3,897.4 1974.7,896.0 1975.0,894.5 1975.3,893.0 1975.7,891.0 1976.0,889.5 1976.3,887.5 1976.5,886.5 1976.7,885.7 1977.0,883.7 1977.3,881.6 1977.7,879.4 1978.0,877.4 1978.3,875.4 1978.5,874.4 1978.7,874.1 1979.0,872.4 1979.3,870.4 1979.7,868.7 1980.0,868.4 1980.3,867.0 1980.5,866.9 1980.7,867.1 1981.0,869.4 1981.3,873.0 1981.7,877.6 1982.0,881.5 1982.1,882.5 1982.3,883.9 1982.7,886.4 1983.0,888.6 1983.3,890.4 1983.7,892.3 1984.0,894.3 1984.3,896.1 1984.7,897.1 1984.7,897.2 1985.0,898.1 1985.3,899.2 1985.7,900.2 1986.0,901.8 1986.3,902.8 1986.7,903.5 1987.0,904.7 1987.3,905.7 1987.7,906.8 1988.0,907.9 1988.3,908.4 1988.6,907.5 1988.7,907.7 1989.0,907.3 1989.3,908.0 1989.7,908.1 1990.0,906.0 1990.3,907.3 1990.7,908.3 1991.0,906.2 1991.3,908.6 1991.7,908.4 1992.0,907.1 1992.3,906.8 1992.4,909.0 1992.7,907.3 1993.0,906.5 1993.3,907.1 1993.7,905.9 1994.0,905.7 1994.3,906.7 1994.7,905.0 1995.0,904.5 1995.3,903.2 1995.5,903.2 1995.7,903.8 1996.0,902.8 1996.3,902.2 1996.7,901.1 1997.0,899.7 1997.3,898.2 1997.7,896.3 1998.0,895.9 1998.3,894.1 1998.6,893.5 1998.7,892.5 1999.0,890.8 1999.3,888.8 1999.7,886.5 2000.0,884.6 2000.3,882.3 2000.7,879.9 2001.0,877.5 2001.2,875.7 2001.3,875.5 2001.7,872.8 2002.0,869.5 2002.3,866.5 2002.7,864.0 2003.0,862.0 2003.2,861.7 2003.3,860.7 2003.7,860.5 2004.0,859.2 2004.3,859.5 2004.3,861.7 2004.7,859.9 2005.0,861.6 2005.3,863.4 2005.7,865.9 2006.0,867.9 2006.3,869.6 2006.3,870.1 2006.7,871.3 2007.0,872.5 2007.3,873.1 2007.7,874.4 2008.0,876.4 2008.3,876.9 2008.7,879.2 2008.7,879.2 2009.0,880.5 2009.3,882.5 2009.7,884.6 2010.0,887.2 2010.3,888.9 2010.5,889.3 2010.7,889.8 2011.0,891.6 2011.3,892.5 2011.7,893.8 2012.0,894.1 2012.3,895.5 2012.7,895.6 2012.8,895.1 2013.0,894.6 2013.3,895.2 2013.7,895.1 2014.0,894.6 2014.3,893.9 2014.7,892.9 2014.8,893.2 2015.0,893.0 2015.3,891.3 2015.7,889.9 2016.0,889.6 2016.3,888.0 2016.7,886.2 2017.0,886.9 2017.1,886.4 2017.3,886.2 2017.7,887.5 2018.0,888.8 2018.3,890.8 2018.7,892.7 2019.0,895.2 2019.2,895.5 2019.3,896.5 2019.7,898.0 2020.0,898.8 2020.3,901.1 2020.7,902.2 2021.0,904.2 2021.3,904.3 2021.7,905.8 2021.8,906.4 2022.0,906.0 2022.3,906.8 2022.7,907.5 2023.0,907.3 2023.3,907.5 2023.7,907.1 2024.0,909.4 2024.3,909.2 2024.7,909.3 2025.0,908.0 2025.3,910.0 2025.7,909.2 2026.0,909.7 2026.3,909.9 2026.7,910.5 2027.0,909.4 2027.2,909.0 2027.3,910.0 2027.7,909.6 2028.0,908.9 2028.3,910.7 2028.7,909.9 2029.0,908.0 2029.3,907.5 2029.7,907.6 2030.0,908.3 2030.3,908.6 2030.7,909.1 2031.0,908.0 2031.1,907.5 2031.3,907.7 2031.7,907.2 2032.0,906.2 2032.3,906.1 2032.7,904.5 2033.0,904.5 2033.3,904.1 2033.7,903.2 2034.0,902.9 2034.3,902.7 2034.7,902.1 2034.9,901.9 2035.0,901.7 2035.3,900.9 2035.7,901.2 2036.0,900.5 2036.3,899.4 2036.7,900.4 2037.0,899.6 2037.3,897.4 2037.7,900.6 2038.0,899.4 2038.3,898.8 2038.7,899.7 2039.0,899.4 2039.3,899.1 2039.7,899.9 2040.0,899.2 2040.3,898.1 2040.7,897.6 2041.0,896.9 2041.1,897.7 2041.3,897.1 2041.7,896.5 2042.0,895.0 2042.3,893.8 2042.7,892.6 2043.0,890.9 2043.3,889.7 2043.4,889.9 2043.7,888.9 2044.0,888.5 2044.3,887.8 2044.7,888.3 2045.0,887.1 2045.0,888.2 2045.3,887.4 2045.7,888.4 2046.0,889.4 2046.3,890.8 2046.7,891.8 2047.0,892.3 2047.3,892.3 2047.3,893.9 2047.7,892.7 2048.0,892.1 2048.3,890.6 2048.7,888.3 2049.0,887.6 2049.3,885.6 2049.6,884.3 2049.7,884.3 2050.0,883.9 2050.3,882.4 2050.7,882.9 2051.0,882.0 2051.3,882.1 2051.7,881.7 2051.9,881.7 2052.0,881.9 2052.3,882.0 2052.7,882.3 2053.0,884.5 2053.3,885.1 2053.7,886.3 2053.8,886.8 2054.0,886.8 2054.3,887.8 2054.7,888.1 2055.0,890.0 2055.3,890.7 2055.7,890.4 2055.8,890.2 2056.0,888.9 2056.3,890.4 2056.7,889.1 2057.0,888.7 2057.3,888.0 2057.7,887.3 2058.0,886.9 2058.1,887.0 2058.3,886.4 2058.7,885.2 2059.0,884.9 2059.3,884.1 2059.7,883.0 2060.0,882.7 2060.3,882.8 2060.7,882.5 2060.9,882.3 2061.0,882.4 2061.3,881.9 2061.7,883.8 2062.0,885.7 2062.3,886.7 2062.7,888.3 2063.0,889.4 2063.0,889.9 2063.3,890.7 2063.7,891.5 2064.0,893.0 2064.3,894.0 2064.7,895.2 2065.0,896.2 2065.3,896.5 2065.7,897.6 2065.8,897.5 2066.0,897.7 2066.3,897.8 2066.7,898.3 2067.0,898.0 2067.3,897.9 2067.7,899.6 2068.0,898.3 2068.3,899.5 2068.7,900.0 2068.9,899.9 2069.0,899.6 2069.3,900.1 2069.7,900.1 2070.0,901.5 2070.3,901.6 2070.7,902.7 2071.0,903.0 2071.3,904.4 2071.7,904.4 2072.0,905.0 2072.0,905.7 2072.3,905.0 2072.7,905.8 2073.0,905.3 2073.3,906.7 2073.7,907.1 2074.0,907.5 2074.3,908.6 2074.7,909.5 2075.0,909.3 2075.1,909.4 2075.3,909.3 2075.7,908.0 2076.0,907.4 2076.3,907.3 2076.7,907.1 2077.0,905.4 2077.3,904.2 2077.7,904.2 2078.0,904.1 2078.2,903.7 2078.3,903.4 2078.7,902.8 2079.0,902.8 2079.3,901.8 2079.7,902.3 2080.0,902.1 2080.3,901.5 2080.7,902.2 2081.0,902.7 2081.0,900.3 2081.3,900.9 2081.7,900.9 2082.0,901.1 2082.3,902.0 2082.7,903.0 2083.0,903.8 2083.3,904.2 2083.6,902.7 2083.7,904.2 2084.0,903.8 2084.3,905.2 2084.7,904.6 2085.0,906.0 2085.3,906.7 2085.7,907.0 2086.0,905.7 2086.3,906.0 2086.7,905.6 2086.7,905.8 2087.0,906.8 2087.3,904.5 2087.7,904.7 2088.0,904.5 2088.3,903.6 2088.7,902.7 2089.0,902.8 2089.3,901.5 2089.7,900.6 2089.8,900.0 2090.0,899.9 2090.3,898.9 2090.7,897.1 2091.0,895.8 2091.3,893.8 2091.7,892.1 2092.0,891.0 2092.3,889.6 2092.4,889.1 2092.7,889.3 2093.0,888.8 2093.3,888.4 2093.7,886.2 2094.0,887.1 2094.3,886.7 2094.7,886.3 2094.9,886.5 2095.0,886.5 2095.3,886.8 2095.7,887.9 2096.0,889.2 2096.3,891.4 2096.7,892.6 2097.0,894.4 2097.0,894.1 2097.3,895.5 2097.7,896.9 2098.0,898.5 2098.3,900.4 2098.7,901.0 2099.0,903.2 2099.3,903.8 2099.7,905.9 2099.8,905.0 2100.0,905.9 2100.3,906.8 2100.7,906.3 2101.0,907.6 2101.3,908.1 2101.7,908.7 2102.0,908.8 2102.3,908.6 2102.7,908.4 2102.9,909.4 2103.0,909.6 2103.3,909.9 2103.7,910.8 2104.0,910.6 2104.3,909.6 2104.7,910.3 2105.0,911.8 2105.3,911.7 2105.7,911.5 2106.0,911.2 2106.0,912.4 2106.3,910.9 2106.7,910.7 2107.0,911.3 2107.3,909.3 2108.2,909.3"/>
<g font-family="'Liberation Serif', 'Times New Roman', serif" fill="#000">
<g font-size="33.3" text-anchor="middle">
<text x="214.2" y="1000.8">10</text>
<text x="398.1" y="1000.8">20</text>
<text x="582.1" y="1000.8">30</text>
<text x="766.0" y="1000.8">40</text>
<text x="884.9" y="1000.8">10</text>
<text x="1069.1" y="1000.8">20</text>
<text x="1253.2" y="1000.8">30</text>
<text x="1437.4" y="1000.8">40</text>
<text x="1556.0" y="1000.8">10</text>
<text x="1740.1" y="1000.8">20</text>
<text x="1924.1" y="1000.8">30</text>
<text x="2108.2" y="1000.8">40</text>
</g>
<text x="1115.2" y="1061.3" font-size="43" text-anchor="middle">2θ(°)</text>
<text transform="translate(47.8,481.3) rotate(-90)" font-size="43" text-anchor="middle">Intensity(a.u.)</text>
<g font-size="53.4">
<text clip-path="url(#cp0)" x="474.4" y="86.8">Pt/MOF-808</text>
<text clip-path="url(#cp0)" x="474.4" y="561">MOF-808</text>
<text clip-path="url(#cp1)" x="1145.0" y="86.8">Pt/UiO-66</text>
<text clip-path="url(#cp1)" x="1145.0" y="561">UiO-66</text>
<text clip-path="url(#cp2)" x="1816.2" y="86.8">Pt/MOF-BTC</text>
<text clip-path="url(#cp2)" x="1816.2" y="561">MOF-BTC</text>
</g></g>
<g fill="none" stroke-width="2.7" stroke-linecap="round">
<path stroke="#ff0000" d="M342.6 69.5h119.8"/>
<path stroke="#000000" d="M342.6 543.6h119.8"/>
<path stroke="#ff0000" d="M1013.2 69.5h119.8"/>
<path stroke="#000000" d="M1013.2 543.6h119.8"/>
<path stroke="#ff0000" d="M1684.4 69.5h119.8"/>
<path stroke="#000000" d="M1684.4 543.6h119.8"/>
</g>
<g fill="none" stroke="#1a1a1a" stroke-width="1.4">
<rect x="122.2" y="12.6" width="643.8" height="947.8"/>
<path d="M122.2 960.4v4.5M214.2 960.4v9.0M306.1 960.4v4.5M398.1 960.4v9.0M490.1 960.4v4.5M582.1 960.4v9.0M674.0 960.4v4.5M766.0 960.4v9.0"/>
<rect x="792.8" y="12.6" width="644.6" height="947.8"/>
<path d="M792.8 960.4v4.5M884.9 960.4v9.0M977.0 960.4v4.5M1069.1 960.4v9.0M1161.1 960.4v4.5M1253.2 960.4v9.0M1345.3 960.4v4.5M1437.4 960.4v9.0"/>
<rect x="1464.0" y="12.6" width="644.2" height="947.8"/>
<path d="M1464.0 960.4v4.5M1556.0 960.4v9.0M1648.1 960.4v4.5M1740.1 960.4v9.0M1832.1 960.4v4.5M1924.1 960.4v9.0M2016.2 960.4v4.5M2108.2 960.4v9.0"/>
</g>
</svg>
</body></html>
